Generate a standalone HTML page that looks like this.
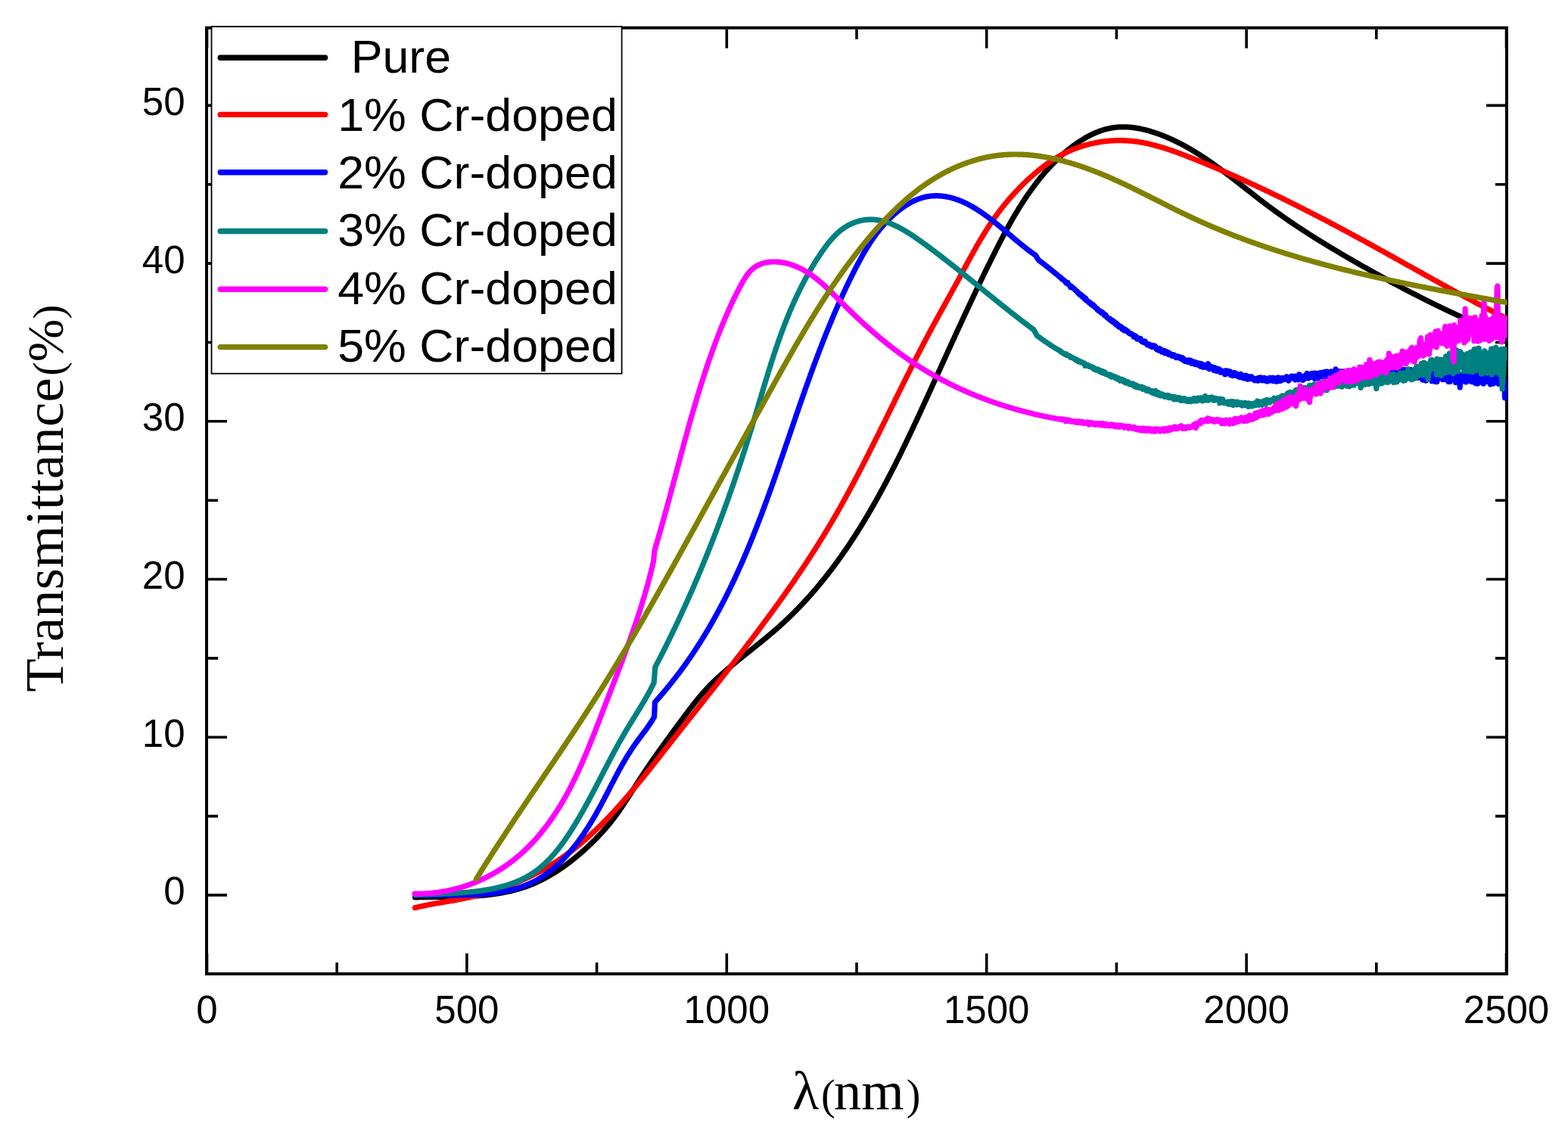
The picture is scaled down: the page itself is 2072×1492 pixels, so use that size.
<!DOCTYPE html>
<html><head><meta charset="utf-8"><title>Transmittance</title>
<style>html,body{margin:0;padding:0;background:#fff;}body{width:2072px;height:1492px;overflow:hidden;}svg{display:block;}</style>
</head><body>
<svg width="2072" height="1492" viewBox="0 0 2072 1492">
<rect x="0" y="0" width="2072" height="1492" fill="#fff"/>
<g stroke="#000" stroke-width="4" fill="none" stroke-linecap="square">
<path d="M273 36.8H1991V1287H273Z"/>
</g>
<path stroke="#000" stroke-width="3.6" fill="none" d="M273.5 1285v-25M273.5 38.8v25M445.2 1285v-13M445.2 38.8v13M616.9 1285v-25M616.9 38.8v25M788.6 1285v-13M788.6 38.8v13M960.3 1285v-25M960.3 38.8v25M1132 1285v-13M1132 38.8v13M1303.7 1285v-25M1303.7 38.8v25M1475.4 1285v-13M1475.4 38.8v13M1647.1 1285v-25M1647.1 38.8v25M1818.8 1285v-13M1818.8 38.8v13M1990.5 1285v-25M1990.5 38.8v25M275 1182.9h25M1989 1182.9h-25M275 1078.6h13M1989 1078.6h-13M275 974.2h25M1989 974.2h-25M275 869.9h13M1989 869.9h-13M275 765.5h25M1989 765.5h-25M275 661.2h13M1989 661.2h-13M275 556.8h25M1989 556.8h-25M275 452.5h13M1989 452.5h-13M275 348.1h25M1989 348.1h-25M275 243.8h13M1989 243.8h-13M275 139.4h25M1989 139.4h-25"/>
<defs><clipPath id="pc"><rect x="271" y="35" width="1720.6" height="1254"/></clipPath></defs>
<g fill="none" stroke-width="7.2" stroke-linejoin="round" stroke-linecap="round" clip-path="url(#pc)">
<path stroke="#000000" d="M548.5 1185.9L549.5 1185.8L550.5 1185.8L551.5 1185.8L552.4 1185.8L553.4 1185.7L554.4 1185.7L555.4 1185.7L556.4 1185.7L557.4 1185.7L558.4 1185.7L559.4 1185.6L560.4 1185.6L561.4 1185.6L562.4 1185.6L563.4 1185.6L564.4 1185.6L565.4 1185.6L566.4 1185.5L567.4 1185.5L568.4 1185.5L569.4 1185.5L570.4 1185.5L571.4 1185.5L572.4 1185.5L573.4 1185.5L574.4 1185.5L575.4 1185.5L576.4 1185.5L577.4 1185.4L578.4 1185.4L579.4 1185.4L580.4 1185.4L581.4 1185.4L582.4 1185.4L583.4 1185.4L584.4 1185.4L585.4 1185.4L586.5 1185.4L587.5 1185.3L588.5 1185.3L589.5 1185.3L590.5 1185.3L591.5 1185.3L592.5 1185.3L593.5 1185.3L594.5 1185.3L595.5 1185.2L596.5 1185.2L597.5 1185.2L598.6 1185.2L599.6 1185.2L600.6 1185.1L601.6 1185.1L602.6 1185.1L603.6 1185.1L604.6 1185.1L605.6 1185L606.6 1185L607.6 1185L608.6 1184.9L609.7 1184.9L610.7 1184.9L611.7 1184.8L612.7 1184.8L613.7 1184.8L614.7 1184.7L615.7 1184.7L616.7 1184.6L617.7 1184.6L618.7 1184.6L619.7 1184.5L620.7 1184.5L621.7 1184.4L622.7 1184.3L623.8 1184.3L624.8 1184.2L625.8 1184.2L626.8 1184.1L627.8 1184L628.8 1184L629.8 1183.9L630.8 1183.8L631.8 1183.8L632.8 1183.7L633.8 1183.6L634.8 1183.5L635.8 1183.4L636.8 1183.4L637.8 1183.3L638.8 1183.2L639.8 1183.1L640.8 1183L641.8 1182.9L642.7 1182.8L643.7 1182.7L644.7 1182.6L645.7 1182.4L646.7 1182.3L647.7 1182.2L648.7 1182.1L649.7 1182L650.7 1181.8L651.7 1181.7L652.7 1181.6L653.6 1181.4L654.6 1181.3L655.6 1181.1L656.6 1181L657.6 1180.8L658.6 1180.7L659.5 1180.5L660.5 1180.4L661.5 1180.2L662.5 1180L663.4 1179.9L664.4 1179.7L665.4 1179.5L666.4 1179.3L667.3 1179.1L668.3 1178.9L669.3 1178.7L670.2 1178.5L671.2 1178.3L672.2 1178.1L673.1 1177.9L674.1 1177.7L675.1 1177.4L676 1177.2L677 1177L677.9 1176.7L678.9 1176.5L679.9 1176.3L680.8 1176L681.8 1175.7L682.7 1175.5L683.7 1175.2L684.6 1175L685.6 1174.7L686.5 1174.4L687.5 1174.1L688.4 1173.8L689.3 1173.5L690.3 1173.2L691.2 1172.9L692.2 1172.6L693.1 1172.3L694 1172L695 1171.7L695.9 1171.3L696.8 1171L697.8 1170.6L698.7 1170.3L699.6 1169.9L700.5 1169.6L701.4 1169.2L702.4 1168.8L703.3 1168.5L704.2 1168.1L705.1 1167.7L706 1167.3L706.9 1166.9L707.8 1166.5L708.8 1166.1L709.7 1165.7L710.6 1165.3L711.5 1164.9L712.4 1164.4L713.3 1164L714.2 1163.6L715.1 1163.1L715.9 1162.7L716.8 1162.2L717.7 1161.8L718.6 1161.3L719.5 1160.8L720.4 1160.4L721.3 1159.9L722.1 1159.4L723 1158.9L723.9 1158.4L724.8 1157.9L725.6 1157.4L726.5 1156.9L727.4 1156.4L728.2 1155.9L729.1 1155.4L730 1154.9L730.8 1154.4L731.7 1153.8L732.6 1153.3L733.4 1152.8L734.3 1152.2L735.1 1151.7L736 1151.1L736.8 1150.6L737.6 1150L738.5 1149.5L739.3 1148.9L740.2 1148.4L741 1147.8L741.8 1147.2L742.7 1146.6L743.5 1146.1L744.3 1145.5L745.2 1144.9L746 1144.3L746.8 1143.7L747.6 1143.1L748.4 1142.5L749.3 1141.9L750.1 1141.3L750.9 1140.7L751.7 1140.1L752.5 1139.5L753.3 1138.9L754.1 1138.3L754.9 1137.6L755.7 1137L756.5 1136.4L757.3 1135.7L758.1 1135.1L758.9 1134.5L759.7 1133.8L760.5 1133.2L761.2 1132.6L762 1131.9L762.8 1131.3L763.6 1130.6L764.3 1130L765.1 1129.3L765.9 1128.7L766.7 1128L767.4 1127.3L768.2 1126.7L768.9 1126L769.7 1125.3L770.5 1124.7L771.2 1124L772 1123.3L772.7 1122.6L773.5 1122L774.2 1121.3L774.9 1120.6L775.7 1119.9L776.4 1119.2L777.2 1118.6L777.9 1117.9L778.6 1117.2L779.3 1116.5L780.1 1115.8L780.8 1115.1L781.5 1114.4L782.2 1113.7L782.9 1113L783.7 1112.3L784.4 1111.6L785.1 1110.9L785.8 1110.2L786.5 1109.5L787.2 1108.8L787.9 1108.1L788.6 1107.3L789.3 1106.6L790 1105.9L790.6 1105.2L791.3 1104.5L792 1103.7L792.7 1103L793.4 1102.3L794 1101.6L794.7 1100.8L795.4 1100.1L796.1 1099.4L796.7 1098.6L797.4 1097.9L798 1097.1L798.7 1096.4L799.3 1095.6L800 1094.9L800.6 1094.1L801.3 1093.4L801.9 1092.6L802.6 1091.9L803.2 1091.1L803.8 1090.4L804.5 1089.6L805.1 1088.8L805.7 1088.1L806.4 1087.3L807 1086.5L807.6 1085.7L808.2 1085L808.8 1084.2L809.4 1083.4L810 1082.6L810.7 1081.8L811.3 1081.1L811.9 1080.3L812.4 1079.5L813 1078.7L813.6 1077.9L814.2 1077.1L814.8 1076.3L815.4 1075.5L816 1074.7L816.5 1073.9L817.1 1073.1L817.7 1072.3L818.3 1071.4L818.8 1070.6L819.4 1069.8L820 1069L820.5 1068.2L821.1 1067.4L821.7 1066.5L822.2 1065.7L822.8 1064.9L823.3 1064.1L823.9 1063.2L824.4 1062.4L825 1061.6L825.5 1060.7L826.1 1059.9L826.6 1059.1L827.2 1058.2L827.7 1057.4L828.2 1056.6L828.8 1055.7L829.3 1054.9L829.9 1054.1L830.4 1053.2L830.9 1052.4L831.5 1051.5L832 1050.7L832.6 1049.9L833.1 1049L833.6 1048.2L834.2 1047.3L834.7 1046.5L835.2 1045.7L835.8 1044.8L836.3 1044L836.8 1043.1L837.4 1042.3L837.9 1041.4L838.5 1040.6L839 1039.8L839.5 1038.9L840.1 1038.1L840.6 1037.2L841.1 1036.4L841.7 1035.5L842.2 1034.7L842.8 1033.9L843.3 1033L843.9 1032.2L844.4 1031.3L844.9 1030.5L845.5 1029.6L846 1028.8L846.6 1028L847.1 1027.1L847.7 1026.3L848.2 1025.5L848.8 1024.6L849.3 1023.8L849.9 1023L850.5 1022.1L851 1021.3L851.6 1020.5L852.1 1019.6L852.7 1018.8L853.2 1018L853.8 1017.1L854.4 1016.3L854.9 1015.5L855.5 1014.6L856 1013.8L856.6 1013L857.2 1012.1L857.7 1011.3L858.3 1010.5L858.9 1009.7L859.4 1008.8L860 1008L860.6 1007.2L861.1 1006.3L861.7 1005.5L862.3 1004.7L862.9 1003.9L863.4 1003L864 1002.2L864.6 1001.4L865.2 1000.6L865.7 999.8L866.3 998.9L866.9 998.1L867.5 997.3L868 996.5L868.6 995.6L869.2 994.8L869.8 994L870.4 993.2L870.9 992.4L871.5 991.6L872.1 990.7L872.7 989.9L873.3 989.1L873.8 988.3L874.4 987.5L875 986.6L875.6 985.8L876.2 985L876.8 984.2L877.4 983.4L877.9 982.6L878.5 981.8L879.1 980.9L879.7 980.1L880.3 979.3L880.9 978.5L881.5 977.7L882.1 976.9L882.6 976.1L883.2 975.3L883.8 974.4L884.4 973.6L885 972.8L885.6 972L886.2 971.2L886.8 970.4L887.4 969.6L888 968.8L888.6 968L889.2 967.2L889.7 966.4L890.3 965.6L890.9 964.7L891.5 963.9L892.1 963.1L892.7 962.3L893.3 961.5L893.9 960.7L894.5 959.9L895.1 959.1L895.7 958.3L896.3 957.5L896.9 956.7L897.5 955.9L898.1 955.1L898.7 954.3L899.3 953.5L899.9 952.7L900.5 951.9L901.1 951.1L901.7 950.3L902.3 949.5L902.8 948.7L903.4 947.9L904 947.1L904.6 946.3L905.2 945.5L905.8 944.7L906.4 943.9L907 943.1L907.6 942.3L908.2 941.5L908.8 940.7L909.4 939.9L910 939.1L910.6 938.3L911.2 937.5L911.8 936.7L912.5 935.9L913.1 935.2L913.7 934.4L914.3 933.6L914.9 932.8L915.5 932L916.1 931.2L916.7 930.5L917.3 929.7L918 928.9L918.6 928.1L919.2 927.3L919.8 926.6L920.4 925.8L921.1 925L921.7 924.3L922.3 923.5L922.9 922.7L923.6 922L924.2 921.2L924.8 920.5L925.5 919.7L926.1 919L926.8 918.2L927.4 917.5L928 916.7L928.7 916L929.3 915.2L930 914.5L930.7 913.7L931.3 913L932 912.3L932.6 911.6L933.3 910.8L934 910.1L934.6 909.4L935.3 908.7L936 908L936.7 907.2L937.4 906.5L938 905.8L938.7 905.1L939.4 904.4L940.1 903.7L940.8 903L941.5 902.3L942.2 901.6L942.9 901L943.6 900.3L944.3 899.6L945.1 898.9L945.8 898.2L946.5 897.5L947.2 896.9L947.9 896.2L948.6 895.5L949.4 894.9L950.1 894.2L950.8 893.5L951.6 892.9L952.3 892.2L953 891.5L953.8 890.9L954.5 890.2L955.2 889.6L956 888.9L956.7 888.3L957.5 887.6L958.2 887L959 886.3L959.7 885.7L960.5 885L961.2 884.4L962 883.7L962.8 883.1L963.5 882.4L964.3 881.8L965 881.2L965.8 880.5L966.6 879.9L967.3 879.2L968.1 878.6L968.9 878L969.6 877.3L970.4 876.7L971.2 876.1L972 875.4L972.7 874.8L973.5 874.2L974.3 873.5L975.1 872.9L975.8 872.3L976.6 871.6L977.4 871L978.2 870.4L979 869.7L979.8 869.1L980.5 868.5L981.3 867.8L982.1 867.2L982.9 866.6L983.7 865.9L984.5 865.3L985.2 864.7L986 864.1L986.8 863.4L987.6 862.8L988.4 862.2L989.2 861.5L990 860.9L990.8 860.3L991.5 859.6L992.3 859L993.1 858.4L993.9 857.8L994.7 857.1L995.5 856.5L996.3 855.9L997.1 855.2L997.9 854.6L998.6 854L999.4 853.3L1000.2 852.7L1001 852.1L1001.8 851.4L1002.6 850.8L1003.4 850.1L1004.2 849.5L1004.9 848.9L1005.7 848.2L1006.5 847.6L1007.3 847L1008.1 846.3L1008.9 845.7L1009.6 845L1010.4 844.4L1011.2 843.8L1012 843.1L1012.8 842.5L1013.5 841.8L1014.3 841.2L1015.1 840.5L1015.9 839.9L1016.6 839.2L1017.4 838.6L1018.2 837.9L1018.9 837.3L1019.7 836.6L1020.5 836L1021.2 835.3L1022 834.7L1022.8 834L1023.5 833.3L1024.3 832.7L1025.1 832L1025.8 831.4L1026.6 830.7L1027.3 830L1028.1 829.4L1028.8 828.7L1029.6 828L1030.3 827.4L1031.1 826.7L1031.8 826L1032.6 825.3L1033.3 824.7L1034.1 824L1034.8 823.3L1035.5 822.6L1036.3 821.9L1037 821.3L1037.7 820.6L1038.5 819.9L1039.2 819.2L1039.9 818.5L1040.6 817.8L1041.4 817.1L1042.1 816.4L1042.8 815.8L1043.5 815.1L1044.2 814.4L1045 813.7L1045.7 813L1046.4 812.3L1047.1 811.6L1047.8 810.9L1048.5 810.2L1049.2 809.5L1049.9 808.8L1050.6 808L1051.3 807.3L1052 806.6L1052.7 805.9L1053.4 805.2L1054.1 804.5L1054.8 803.8L1055.5 803.1L1056.2 802.3L1056.9 801.6L1057.6 800.9L1058.3 800.2L1059 799.5L1059.6 798.7L1060.3 798L1061 797.3L1061.7 796.6L1062.4 795.8L1063 795.1L1063.7 794.4L1064.4 793.6L1065.1 792.9L1065.7 792.2L1066.4 791.4L1067.1 790.7L1067.7 790L1068.4 789.2L1069.1 788.5L1069.7 787.8L1070.4 787L1071 786.3L1071.7 785.5L1072.4 784.8L1073 784L1073.7 783.3L1074.3 782.5L1075 781.8L1075.6 781L1076.3 780.3L1076.9 779.5L1077.6 778.8L1078.2 778L1078.8 777.3L1079.5 776.5L1080.1 775.7L1080.8 775L1081.4 774.2L1082 773.5L1082.7 772.7L1083.3 771.9L1083.9 771.2L1084.6 770.4L1085.2 769.6L1085.8 768.9L1086.4 768.1L1087.1 767.3L1087.7 766.6L1088.3 765.8L1088.9 765L1089.6 764.2L1090.2 763.5L1090.8 762.7L1091.4 761.9L1092 761.1L1092.6 760.4L1093.2 759.6L1093.9 758.8L1094.5 758L1095.1 757.2L1095.7 756.4L1096.3 755.7L1096.9 754.9L1097.5 754.1L1098.1 753.3L1098.7 752.5L1099.3 751.7L1099.9 750.9L1100.5 750.1L1101.1 749.3L1101.7 748.5L1102.3 747.7L1102.9 747L1103.5 746.2L1104 745.4L1104.6 744.6L1105.2 743.8L1105.8 743L1106.4 742.2L1107 741.4L1107.6 740.5L1108.1 739.7L1108.7 738.9L1109.3 738.1L1109.9 737.3L1110.5 736.5L1111 735.7L1111.6 734.9L1112.2 734.1L1112.7 733.3L1113.3 732.5L1113.9 731.6L1114.5 730.8L1115 730L1115.6 729.2L1116.2 728.4L1116.7 727.6L1117.3 726.7L1117.8 725.9L1118.4 725.1L1119 724.3L1119.5 723.5L1120.1 722.6L1120.6 721.8L1121.2 721L1121.8 720.2L1122.3 719.3L1122.9 718.5L1123.4 717.7L1124 716.9L1124.5 716L1125.1 715.2L1125.6 714.4L1126.1 713.5L1126.7 712.7L1127.2 711.9L1127.8 711L1128.3 710.2L1128.9 709.4L1129.4 708.5L1129.9 707.7L1130.5 706.9L1131 706L1131.6 705.2L1132.1 704.3L1132.6 703.5L1133.2 702.6L1133.7 701.8L1134.2 701L1134.7 700.1L1135.3 699.3L1135.8 698.4L1136.3 697.6L1136.9 696.7L1137.4 695.9L1137.9 695L1138.4 694.2L1138.9 693.3L1139.5 692.5L1140 691.6L1140.5 690.8L1141 689.9L1141.5 689.1L1142.1 688.2L1142.6 687.4L1143.1 686.5L1143.6 685.7L1144.1 684.8L1144.6 683.9L1145.1 683.1L1145.7 682.2L1146.2 681.4L1146.7 680.5L1147.2 679.7L1147.7 678.8L1148.2 677.9L1148.7 677.1L1149.2 676.2L1149.7 675.3L1150.2 674.5L1150.7 673.6L1151.2 672.7L1151.7 671.9L1152.2 671L1152.7 670.1L1153.2 669.3L1153.7 668.4L1154.2 667.5L1154.7 666.7L1155.2 665.8L1155.7 664.9L1156.2 664.1L1156.7 663.2L1157.2 662.3L1157.6 661.4L1158.1 660.6L1158.6 659.7L1159.1 658.8L1159.6 657.9L1160.1 657.1L1160.6 656.2L1161 655.3L1161.5 654.4L1162 653.6L1162.5 652.7L1163 651.8L1163.5 650.9L1163.9 650L1164.4 649.2L1164.9 648.3L1165.4 647.4L1165.9 646.5L1166.3 645.6L1166.8 644.8L1167.3 643.9L1167.8 643L1168.2 642.1L1168.7 641.2L1169.2 640.3L1169.6 639.4L1170.1 638.6L1170.6 637.7L1171.1 636.8L1171.5 635.9L1172 635L1172.5 634.1L1172.9 633.2L1173.4 632.3L1173.9 631.5L1174.3 630.6L1174.8 629.7L1175.3 628.8L1175.7 627.9L1176.2 627L1176.6 626.1L1177.1 625.2L1177.6 624.3L1178 623.4L1178.5 622.5L1178.9 621.6L1179.4 620.7L1179.9 619.8L1180.3 618.9L1180.8 618.1L1181.2 617.2L1181.7 616.3L1182.1 615.4L1182.6 614.5L1183 613.6L1183.5 612.7L1183.9 611.8L1184.4 610.9L1184.8 610L1185.3 609.1L1185.7 608.2L1186.2 607.3L1186.6 606.4L1187.1 605.5L1187.5 604.6L1188 603.7L1188.4 602.8L1188.9 601.9L1189.3 601L1189.8 600.1L1190.2 599.2L1190.7 598.3L1191.1 597.4L1191.5 596.4L1192 595.5L1192.4 594.6L1192.9 593.7L1193.3 592.8L1193.8 591.9L1194.2 591L1194.6 590.1L1195.1 589.2L1195.5 588.3L1196 587.4L1196.4 586.5L1196.8 585.6L1197.3 584.7L1197.7 583.8L1198.1 582.9L1198.6 582L1199 581L1199.4 580.1L1199.9 579.2L1200.3 578.3L1200.8 577.4L1201.2 576.5L1201.6 575.6L1202 574.7L1202.5 573.8L1202.9 572.9L1203.3 572L1203.8 571L1204.2 570.1L1204.6 569.2L1205.1 568.3L1205.5 567.4L1205.9 566.5L1206.4 565.6L1206.8 564.7L1207.2 563.8L1207.6 562.8L1208.1 561.9L1208.5 561L1208.9 560.1L1209.3 559.2L1209.8 558.3L1210.2 557.4L1210.6 556.5L1211.1 555.6L1211.5 554.6L1211.9 553.7L1212.3 552.8L1212.7 551.9L1213.2 551L1213.6 550.1L1214 549.2L1214.4 548.2L1214.9 547.3L1215.3 546.4L1215.7 545.5L1216.1 544.6L1216.6 543.7L1217 542.8L1217.4 541.9L1217.8 540.9L1218.2 540L1218.7 539.1L1219.1 538.2L1219.5 537.3L1219.9 536.4L1220.3 535.5L1220.8 534.5L1221.2 533.6L1221.6 532.7L1222 531.8L1222.4 530.9L1222.8 530L1223.3 529.1L1223.7 528.1L1224.1 527.2L1224.5 526.3L1224.9 525.4L1225.4 524.5L1225.8 523.6L1226.2 522.7L1226.6 521.7L1227 520.8L1227.4 519.9L1227.9 519L1228.3 518.1L1228.7 517.2L1229.1 516.3L1229.5 515.3L1229.9 514.4L1230.4 513.5L1230.8 512.6L1231.2 511.7L1231.6 510.8L1232 509.9L1232.4 509L1232.8 508L1233.3 507.1L1233.7 506.2L1234.1 505.3L1234.5 504.4L1234.9 503.5L1235.3 502.6L1235.7 501.6L1236.2 500.7L1236.6 499.8L1237 498.9L1237.4 498L1237.8 497.1L1238.2 496.2L1238.6 495.3L1239.1 494.4L1239.5 493.4L1239.9 492.5L1240.3 491.6L1240.7 490.7L1241.1 489.8L1241.5 488.9L1242 488L1242.4 487.1L1242.8 486.2L1243.2 485.2L1243.6 484.3L1244 483.4L1244.4 482.5L1244.8 481.6L1245.3 480.7L1245.7 479.8L1246.1 478.9L1246.5 478L1246.9 477L1247.3 476.1L1247.7 475.2L1248.2 474.3L1248.6 473.4L1249 472.5L1249.4 471.6L1249.8 470.7L1250.2 469.8L1250.6 468.9L1251 468L1251.5 467L1251.9 466.1L1252.3 465.2L1252.7 464.3L1253.1 463.4L1253.5 462.5L1253.9 461.6L1254.4 460.7L1254.8 459.8L1255.2 458.9L1255.6 458L1256 457.1L1256.4 456.1L1256.8 455.2L1257.2 454.3L1257.7 453.4L1258.1 452.5L1258.5 451.6L1258.9 450.7L1259.3 449.8L1259.7 448.9L1260.2 448L1260.6 447.1L1261 446.2L1261.4 445.3L1261.8 444.4L1262.2 443.5L1262.6 442.5L1263.1 441.6L1263.5 440.7L1263.9 439.8L1264.3 438.9L1264.7 438L1265.1 437.1L1265.5 436.2L1266 435.3L1266.4 434.4L1266.8 433.5L1267.2 432.6L1267.6 431.7L1268 430.8L1268.5 429.9L1268.9 429L1269.3 428.1L1269.7 427.2L1270.1 426.3L1270.6 425.4L1271 424.5L1271.4 423.5L1271.8 422.6L1272.2 421.7L1272.6 420.8L1273.1 419.9L1273.5 419L1273.9 418.1L1274.3 417.2L1274.7 416.3L1275.2 415.4L1275.6 414.5L1276 413.6L1276.4 412.7L1276.8 411.8L1277.3 410.9L1277.7 410L1278.1 409.1L1278.5 408.2L1278.9 407.3L1279.4 406.4L1279.8 405.5L1280.2 404.6L1280.6 403.7L1281 402.8L1281.5 401.9L1281.9 401L1282.3 400.1L1282.7 399.2L1283.2 398.3L1283.6 397.4L1284 396.5L1284.4 395.6L1284.9 394.7L1285.3 393.8L1285.7 392.9L1286.1 392L1286.6 391.1L1287 390.2L1287.4 389.3L1287.8 388.4L1288.3 387.5L1288.7 386.6L1289.1 385.7L1289.5 384.8L1290 383.9L1290.4 383L1290.8 382.1L1291.2 381.2L1291.7 380.3L1292.1 379.4L1292.5 378.5L1293 377.6L1293.4 376.7L1293.8 375.8L1294.3 374.9L1294.7 374L1295.1 373.1L1295.5 372.2L1296 371.3L1296.4 370.4L1296.8 369.5L1297.3 368.6L1297.7 367.7L1298.1 366.9L1298.6 366L1299 365.1L1299.4 364.2L1299.9 363.3L1300.3 362.4L1300.7 361.5L1301.2 360.6L1301.6 359.7L1302 358.8L1302.5 357.9L1302.9 357L1303.4 356.1L1303.8 355.2L1304.2 354.3L1304.7 353.4L1305.1 352.5L1305.6 351.6L1306 350.7L1306.4 349.9L1306.9 349L1307.3 348.1L1307.8 347.2L1308.2 346.3L1308.6 345.4L1309.1 344.5L1309.5 343.6L1310 342.7L1310.4 341.8L1310.8 340.9L1311.3 340L1311.7 339.1L1312.2 338.2L1312.6 337.4L1313.1 336.5L1313.5 335.6L1314 334.7L1314.4 333.8L1314.9 332.9L1315.3 332L1315.8 331.1L1316.2 330.2L1316.7 329.3L1317.1 328.4L1317.6 327.6L1318 326.7L1318.5 325.8L1318.9 324.9L1319.4 324L1319.8 323.1L1320.3 322.2L1320.7 321.3L1321.2 320.5L1321.6 319.6L1322.1 318.7L1322.6 317.8L1323 316.9L1323.5 316L1323.9 315.1L1324.4 314.3L1324.9 313.4L1325.3 312.5L1325.8 311.6L1326.3 310.7L1326.7 309.8L1327.2 309L1327.7 308.1L1328.1 307.2L1328.6 306.3L1329.1 305.4L1329.6 304.6L1330 303.7L1330.5 302.8L1331 301.9L1331.5 301.1L1332 300.2L1332.4 299.3L1332.9 298.4L1333.4 297.6L1333.9 296.7L1334.4 295.8L1334.9 295L1335.4 294.1L1335.8 293.2L1336.3 292.3L1336.8 291.5L1337.3 290.6L1337.8 289.7L1338.3 288.9L1338.8 288L1339.3 287.1L1339.8 286.3L1340.3 285.4L1340.8 284.6L1341.3 283.7L1341.9 282.8L1342.4 282L1342.9 281.1L1343.4 280.3L1343.9 279.4L1344.4 278.6L1345 277.7L1345.5 276.9L1346 276L1346.5 275.1L1347 274.3L1347.6 273.4L1348.1 272.6L1348.6 271.8L1349.2 270.9L1349.7 270.1L1350.2 269.2L1350.8 268.4L1351.3 267.5L1351.9 266.7L1352.4 265.9L1353 265L1353.5 264.2L1354.1 263.3L1354.6 262.5L1355.2 261.7L1355.7 260.8L1356.3 260L1356.9 259.2L1357.4 258.3L1358 257.5L1358.6 256.7L1359.1 255.9L1359.7 255L1360.3 254.2L1360.9 253.4L1361.5 252.6L1362 251.8L1362.6 250.9L1363.2 250.1L1363.8 249.3L1364.4 248.5L1365 247.7L1365.6 246.9L1366.2 246.1L1366.8 245.3L1367.4 244.5L1368 243.6L1368.6 242.8L1369.2 242L1369.8 241.2L1370.5 240.4L1371.1 239.7L1371.7 238.9L1372.3 238.1L1373 237.3L1373.6 236.5L1374.2 235.7L1374.9 234.9L1375.5 234.1L1376.1 233.4L1376.8 232.6L1377.4 231.8L1378.1 231L1378.7 230.3L1379.4 229.5L1380 228.7L1380.7 227.9L1381.4 227.2L1382 226.4L1382.7 225.7L1383.4 224.9L1384.1 224.2L1384.7 223.4L1385.4 222.7L1386.1 221.9L1386.8 221.2L1387.5 220.4L1388.2 219.7L1388.9 218.9L1389.6 218.2L1390.3 217.5L1391 216.8L1391.7 216L1392.4 215.3L1393.1 214.6L1393.8 213.9L1394.5 213.2L1395.3 212.4L1396 211.7L1396.7 211L1397.4 210.3L1398.2 209.6L1398.9 208.9L1399.7 208.2L1400.4 207.6L1401.1 206.9L1401.9 206.2L1402.6 205.5L1403.4 204.8L1404.2 204.2L1404.9 203.5L1405.7 202.8L1406.5 202.2L1407.2 201.5L1408 200.8L1408.8 200.2L1409.6 199.5L1410.4 198.9L1411.2 198.2L1411.9 197.6L1412.7 197L1413.5 196.3L1414.3 195.7L1415.2 195.1L1416 194.5L1416.8 193.9L1417.6 193.2L1418.4 192.6L1419.2 192L1420.1 191.4L1420.9 190.8L1421.7 190.2L1422.6 189.7L1423.4 189.1L1424.2 188.5L1425.1 187.9L1425.9 187.4L1426.8 186.8L1427.6 186.3L1428.5 185.7L1429.4 185.2L1430.2 184.6L1431.1 184.1L1432 183.6L1432.8 183.1L1433.7 182.5L1434.6 182L1435.5 181.5L1436.3 181L1437.2 180.6L1438.1 180.1L1439 179.6L1439.9 179.1L1440.8 178.7L1441.7 178.2L1442.6 177.8L1443.5 177.4L1444.4 176.9L1445.3 176.5L1446.2 176.1L1447.1 175.7L1448 175.3L1449 174.9L1449.9 174.6L1450.8 174.2L1451.7 173.8L1452.6 173.5L1453.6 173.2L1454.5 172.8L1455.4 172.5L1456.4 172.2L1457.3 171.9L1458.2 171.6L1459.2 171.3L1460.1 171.1L1461.1 170.8L1462 170.5L1462.9 170.3L1463.9 170.1L1464.8 169.9L1465.8 169.7L1466.7 169.5L1467.7 169.3L1468.7 169.1L1469.6 168.9L1470.6 168.8L1471.5 168.6L1472.5 168.5L1473.4 168.4L1474.4 168.3L1475.4 168.2L1476.3 168.1L1477.3 168L1478.3 168L1479.2 167.9L1480.2 167.9L1481.2 167.8L1482.1 167.8L1483.1 167.8L1484.1 167.8L1485.1 167.8L1486 167.8L1487 167.8L1488 167.9L1489 167.9L1489.9 167.9L1490.9 168L1491.9 168.1L1492.9 168.2L1493.8 168.2L1494.8 168.3L1495.8 168.4L1496.8 168.5L1497.7 168.7L1498.7 168.8L1499.7 168.9L1500.7 169.1L1501.7 169.2L1502.6 169.4L1503.6 169.6L1504.6 169.7L1505.6 169.9L1506.5 170.1L1507.5 170.3L1508.5 170.5L1509.5 170.7L1510.4 170.9L1511.4 171.2L1512.4 171.4L1513.3 171.6L1514.3 171.9L1515.3 172.1L1516.3 172.4L1517.2 172.6L1518.2 172.9L1519.2 173.2L1520.1 173.5L1521.1 173.8L1522 174.1L1523 174.4L1524 174.7L1524.9 175L1525.9 175.3L1526.8 175.6L1527.8 175.9L1528.7 176.3L1529.7 176.6L1530.6 176.9L1531.6 177.3L1532.5 177.6L1533.5 178L1534.4 178.3L1535.4 178.7L1536.3 179.1L1537.2 179.4L1538.2 179.8L1539.1 180.2L1540 180.6L1541 181L1541.9 181.4L1542.8 181.8L1543.7 182.2L1544.6 182.6L1545.6 183L1546.5 183.4L1547.4 183.8L1548.3 184.2L1549.2 184.6L1550.1 185L1551 185.5L1551.9 185.9L1552.8 186.3L1553.7 186.8L1554.6 187.2L1555.5 187.6L1556.4 188.1L1557.3 188.5L1558.2 189L1559.1 189.4L1560 189.9L1560.9 190.4L1561.7 190.8L1562.6 191.3L1563.5 191.8L1564.4 192.2L1565.3 192.7L1566.1 193.2L1567 193.7L1567.9 194.2L1568.8 194.7L1569.6 195.1L1570.5 195.6L1571.4 196.1L1572.2 196.6L1573.1 197.1L1573.9 197.6L1574.8 198.1L1575.7 198.6L1576.5 199.2L1577.4 199.7L1578.2 200.2L1579.1 200.7L1579.9 201.2L1580.8 201.8L1581.6 202.3L1582.5 202.8L1583.3 203.3L1584.2 203.9L1585 204.4L1585.8 205L1586.7 205.5L1587.5 206L1588.4 206.6L1589.2 207.1L1590 207.7L1590.9 208.2L1591.7 208.8L1592.5 209.3L1593.4 209.9L1594.2 210.4L1595 211L1595.8 211.6L1596.7 212.1L1597.5 212.7L1598.3 213.3L1599.1 213.8L1600 214.4L1600.8 215L1601.6 215.6L1602.4 216.1L1603.2 216.7L1604.1 217.3L1604.9 217.9L1605.7 218.5L1606.5 219L1607.3 219.6L1608.1 220.2L1609 220.8L1609.8 221.4L1610.6 222L1611.4 222.6L1612.2 223.2L1613 223.8L1613.8 224.4L1614.6 225L1615.4 225.6L1616.2 226.2L1617 226.8L1617.8 227.4L1618.6 228L1619.5 228.6L1620.3 229.2L1621.1 229.8L1621.9 230.4L1622.7 231L1623.5 231.6L1624.3 232.2L1625.1 232.8L1625.9 233.4L1626.7 234L1627.5 234.7L1628.3 235.3L1629.1 235.9L1629.9 236.5L1630.6 237.1L1631.4 237.7L1632.2 238.3L1633 239L1633.8 239.6L1634.6 240.2L1635.4 240.8L1636.2 241.4L1637 242.1L1637.8 242.7L1638.6 243.3L1639.4 243.9L1640.2 244.5L1641 245.2L1641.8 245.8L1642.6 246.4L1643.4 247L1644.2 247.6L1644.9 248.3L1645.7 248.9L1646.5 249.5L1647.3 250.1L1648.1 250.8L1648.9 251.4L1649.7 252L1650.5 252.6L1651.3 253.2L1652.1 253.9L1652.9 254.5L1653.7 255.1L1654.5 255.7L1655.3 256.4L1656.1 257L1656.9 257.6L1657.6 258.2L1658.4 258.8L1659.2 259.4L1660 260.1L1660.8 260.7L1661.6 261.3L1662.4 261.9L1663.2 262.5L1664 263.1L1664.8 263.8L1665.6 264.4L1666.4 265L1667.2 265.6L1668 266.2L1668.8 266.8L1669.6 267.4L1670.4 268L1671.2 268.7L1672 269.3L1672.8 269.9L1673.6 270.5L1674.4 271.1L1675.2 271.7L1676 272.3L1676.8 272.9L1677.6 273.5L1678.4 274.1L1679.2 274.7L1680.1 275.3L1680.9 275.9L1681.7 276.5L1682.5 277.1L1683.3 277.7L1684.1 278.3L1684.9 278.8L1685.7 279.4L1686.5 280L1687.3 280.6L1688.2 281.2L1689 281.8L1689.8 282.4L1690.6 282.9L1691.4 283.5L1692.2 284.1L1693.1 284.7L1693.9 285.3L1694.7 285.8L1695.5 286.4L1696.3 287L1697.2 287.6L1698 288.1L1698.8 288.7L1699.6 289.3L1700.4 289.9L1701.3 290.4L1702.1 291L1702.9 291.6L1703.7 292.1L1704.6 292.7L1705.4 293.2L1706.2 293.8L1707.1 294.4L1707.9 294.9L1708.7 295.5L1709.5 296.1L1710.4 296.6L1711.2 297.2L1712 297.7L1712.9 298.3L1713.7 298.8L1714.5 299.4L1715.4 299.9L1716.2 300.5L1717 301L1717.9 301.6L1718.7 302.1L1719.5 302.7L1720.4 303.2L1721.2 303.8L1722 304.3L1722.9 304.9L1723.7 305.4L1724.6 306L1725.4 306.5L1726.2 307L1727.1 307.6L1727.9 308.1L1728.8 308.7L1729.6 309.2L1730.4 309.7L1731.3 310.3L1732.1 310.8L1733 311.4L1733.8 311.9L1734.7 312.4L1735.5 313L1736.3 313.5L1737.2 314L1738 314.5L1738.9 315.1L1739.7 315.6L1740.6 316.1L1741.4 316.7L1742.3 317.2L1743.1 317.7L1744 318.2L1744.8 318.8L1745.7 319.3L1746.5 319.8L1747.4 320.3L1748.2 320.9L1749.1 321.4L1749.9 321.9L1750.8 322.4L1751.6 322.9L1752.5 323.5L1753.3 324L1754.2 324.5L1755 325L1755.9 325.5L1756.7 326.1L1757.6 326.6L1758.5 327.1L1759.3 327.6L1760.2 328.1L1761 328.6L1761.9 329.1L1762.7 329.7L1763.6 330.2L1764.5 330.7L1765.3 331.2L1766.2 331.7L1767 332.2L1767.9 332.7L1768.7 333.2L1769.6 333.7L1770.5 334.2L1771.3 334.8L1772.2 335.3L1773 335.8L1773.9 336.3L1774.8 336.8L1775.6 337.3L1776.5 337.8L1777.4 338.3L1778.2 338.8L1779.1 339.3L1779.9 339.8L1780.8 340.3L1781.7 340.8L1782.5 341.3L1783.4 341.8L1784.3 342.3L1785.1 342.8L1786 343.3L1786.9 343.8L1787.7 344.3L1788.6 344.8L1789.5 345.3L1790.3 345.8L1791.2 346.3L1792.1 346.8L1792.9 347.3L1793.8 347.8L1794.7 348.3L1795.5 348.8L1796.4 349.3L1797.3 349.8L1798.1 350.3L1799 350.8L1799.9 351.3L1800.7 351.8L1801.6 352.3L1802.5 352.8L1803.3 353.2L1804.2 353.7L1805.1 354.2L1806 354.7L1806.8 355.2L1807.7 355.7L1808.6 356.2L1809.4 356.7L1810.3 357.2L1811.2 357.7L1812.1 358.1L1812.9 358.6L1813.8 359.1L1814.7 359.6L1815.6 360.1L1816.4 360.6L1817.3 361.1L1818.2 361.6L1819 362L1819.9 362.5L1820.8 363L1821.7 363.5L1822.5 364L1823.4 364.5L1824.3 364.9L1825.2 365.4L1826.1 365.9L1826.9 366.4L1827.8 366.9L1828.7 367.3L1829.6 367.8L1830.4 368.3L1831.3 368.8L1832.2 369.3L1833.1 369.7L1834 370.2L1834.8 370.7L1835.7 371.2L1836.6 371.6L1837.5 372.1L1838.4 372.6L1839.2 373.1L1840.1 373.5L1841 374L1841.9 374.5L1842.8 375L1843.6 375.4L1844.5 375.9L1845.4 376.4L1846.3 376.9L1847.2 377.3L1848.1 377.8L1848.9 378.3L1849.8 378.7L1850.7 379.2L1851.6 379.7L1852.5 380.1L1853.4 380.6L1854.2 381.1L1855.1 381.5L1856 382L1856.9 382.5L1857.8 382.9L1858.7 383.4L1859.6 383.9L1860.5 384.3L1861.3 384.8L1862.2 385.2L1863.1 385.7L1864 386.2L1864.9 386.6L1865.8 387.1L1866.7 387.5L1867.6 388L1868.5 388.5L1869.3 388.9L1870.2 389.4L1871.1 389.8L1872 390.3L1872.9 390.7L1873.8 391.2L1874.7 391.6L1875.6 392.1L1876.5 392.6L1877.4 393L1878.3 393.5L1879.1 393.9L1880 394.4L1880.9 394.8L1881.8 395.3L1882.7 395.7L1883.6 396.2L1884.5 396.6L1885.4 397L1886.3 397.5L1887.2 397.9L1888.1 398.4L1889 398.8L1889.9 399.3L1890.8 399.7L1891.7 400.2L1892.6 400.6L1893.5 401.1L1894.4 401.5L1895.3 401.9L1896.2 402.4L1897.1 402.8L1898 403.3L1898.9 403.7L1899.8 404.1L1900.7 404.6L1901.6 405L1902.5 405.4L1903.4 405.9L1904.3 406.3L1905.2 406.7L1906.1 407.2L1907 407.6L1907.9 408L1908.8 408.5L1909.7 408.9L1910.6 409.3L1911.5 409.8L1912.4 410.2L1913.3 410.6L1914.2 411.1L1915.1 411.5L1916 411.9L1916.9 412.3L1917.8 412.8L1918.7 413.2L1919.6 413.6L1920.5 414L1921.4 414.5L1922.4 414.9L1923.3 415.3L1924.2 415.7L1925.1 416.2L1926 416.6L1926.9 417L1927.8 417.4L1928.7 417.8L1929.6 418.2L1930.5 418.7L1931.4 419.1L1932.4 419.5L1933.3 419.9L1934.2 420.3L1935.1 420.7L1936 421.2L1936.9 421.6L1937.8 422L1938.7 422.4L1939.6 422.8L1940.6 423.2L1941.5 423.6L1942.4 424L1943.3 424.4L1944.2 424.8L1945.1 425.2L1946 425.7L1947 426.1L1947.9 426.5L1948.8 426.9L1949.7 427.3L1950.6 427.7L1951.5 428.1L1952.5 428.5L1953.4 428.9L1954.3 429.3L1955.2 429.7L1956.1 430.1L1957 430.5L1958 430.9L1958.9 431.3L1959.8 431.7L1960.7 432.1L1961.6 432.4L1962.6 432.8L1963.5 433.2L1964.4 433.6L1965.3 434L1966.2 434.4L1967.2 434.8L1968.1 435.2L1969 435.6L1969.9 436L1970.9 436.3L1971.8 436.7L1972.7 437.1L1973.6 437.5L1974.6 437.9L1975.5 438.3L1976.4 438.7L1977.3 439L1978.3 439.4L1979.2 439.8L1980.1 440.2L1981 440.6L1982 440.9L1982.9 441.3L1983.8 441.7L1984.7 442.1L1985.7 442.4L1986.6 442.8L1987.5 443.2L1988.5 443.6L1989.4 443.9L1990.3 444.3"/>
<path stroke="#FF0000" d="M548.4 1199.6L549.3 1199.4L550.3 1199.2L551.3 1198.9L552.2 1198.7L553.2 1198.5L554.1 1198.3L555.1 1198L556.1 1197.8L557 1197.6L558 1197.4L559 1197.2L559.9 1197L560.9 1196.8L561.9 1196.6L562.8 1196.4L563.8 1196.2L564.8 1196L565.8 1195.8L566.7 1195.6L567.7 1195.4L568.7 1195.2L569.7 1195.1L570.6 1194.9L571.6 1194.7L572.6 1194.5L573.6 1194.3L574.6 1194.2L575.5 1194L576.5 1193.8L577.5 1193.6L578.5 1193.5L579.5 1193.3L580.5 1193.1L581.4 1193L582.4 1192.8L583.4 1192.6L584.4 1192.5L585.4 1192.3L586.4 1192.1L587.4 1191.9L588.3 1191.8L589.3 1191.6L590.3 1191.4L591.3 1191.3L592.3 1191.1L593.3 1190.9L594.3 1190.8L595.3 1190.6L596.2 1190.4L597.2 1190.3L598.2 1190.1L599.2 1189.9L600.2 1189.7L601.2 1189.6L602.2 1189.4L603.2 1189.2L604.1 1189L605.1 1188.9L606.1 1188.7L607.1 1188.5L608.1 1188.3L609.1 1188.1L610.1 1187.9L611.1 1187.7L612 1187.5L613 1187.3L614 1187.1L615 1186.9L616 1186.7L617 1186.5L617.9 1186.3L618.9 1186.1L619.9 1185.9L620.9 1185.7L621.9 1185.5L622.9 1185.3L623.8 1185L624.8 1184.8L625.8 1184.6L626.8 1184.3L627.8 1184.1L628.7 1183.9L629.7 1183.6L630.7 1183.4L631.7 1183.1L632.6 1182.9L633.6 1182.7L634.6 1182.4L635.6 1182.1L636.5 1181.9L637.5 1181.6L638.5 1181.4L639.5 1181.1L640.4 1180.8L641.4 1180.6L642.4 1180.3L643.3 1180L644.3 1179.7L645.3 1179.4L646.2 1179.2L647.2 1178.9L648.2 1178.6L649.1 1178.3L650.1 1178L651.1 1177.7L652 1177.4L653 1177.1L653.9 1176.8L654.9 1176.5L655.8 1176.2L656.8 1175.9L657.8 1175.6L658.7 1175.2L659.7 1174.9L660.6 1174.6L661.6 1174.3L662.5 1173.9L663.5 1173.6L664.4 1173.3L665.4 1172.9L666.3 1172.6L667.3 1172.3L668.2 1171.9L669.1 1171.6L670.1 1171.2L671 1170.9L672 1170.5L672.9 1170.1L673.8 1169.8L674.8 1169.4L675.7 1169.1L676.7 1168.7L677.6 1168.3L678.5 1167.9L679.4 1167.6L680.4 1167.2L681.3 1166.8L682.2 1166.4L683.2 1166L684.1 1165.7L685 1165.3L685.9 1164.9L686.8 1164.5L687.8 1164.1L688.7 1163.7L689.6 1163.3L690.5 1162.9L691.4 1162.5L692.3 1162L693.3 1161.6L694.2 1161.2L695.1 1160.8L696 1160.4L696.9 1159.9L697.8 1159.5L698.7 1159.1L699.6 1158.7L700.5 1158.2L701.4 1157.8L702.3 1157.3L703.2 1156.9L704.1 1156.5L705 1156L705.8 1155.6L706.7 1155.1L707.6 1154.6L708.5 1154.2L709.4 1153.7L710.3 1153.3L711.1 1152.8L712 1152.3L712.9 1151.9L713.8 1151.4L714.7 1150.9L715.5 1150.4L716.4 1149.9L717.3 1149.5L718.1 1149L719 1148.5L719.9 1148L720.7 1147.5L721.6 1147L722.4 1146.5L723.3 1146L724.1 1145.5L725 1145L725.8 1144.5L726.7 1144L727.5 1143.5L728.4 1142.9L729.2 1142.4L730.1 1141.9L730.9 1141.4L731.7 1140.8L732.6 1140.3L733.4 1139.8L734.2 1139.2L735.1 1138.7L735.9 1138.2L736.7 1137.6L737.5 1137.1L738.4 1136.5L739.2 1136L740 1135.4L740.8 1134.9L741.6 1134.3L742.4 1133.8L743.2 1133.2L744 1132.6L744.8 1132.1L745.7 1131.5L746.5 1130.9L747.3 1130.3L748.1 1129.8L748.8 1129.2L749.6 1128.6L750.4 1128L751.2 1127.4L752 1126.8L752.8 1126.3L753.6 1125.7L754.4 1125.1L755.2 1124.5L755.9 1123.9L756.7 1123.3L757.5 1122.7L758.3 1122.1L759 1121.5L759.8 1120.8L760.6 1120.2L761.4 1119.6L762.1 1119L762.9 1118.4L763.6 1117.8L764.4 1117.1L765.2 1116.5L765.9 1115.9L766.7 1115.3L767.4 1114.6L768.2 1114L768.9 1113.4L769.7 1112.7L770.4 1112.1L771.2 1111.4L771.9 1110.8L772.7 1110.2L773.4 1109.5L774.2 1108.9L774.9 1108.2L775.7 1107.6L776.4 1106.9L777.1 1106.2L777.9 1105.6L778.6 1104.9L779.3 1104.3L780.1 1103.6L780.8 1102.9L781.5 1102.3L782.2 1101.6L783 1100.9L783.7 1100.3L784.4 1099.6L785.1 1098.9L785.8 1098.2L786.6 1097.5L787.3 1096.9L788 1096.2L788.7 1095.5L789.4 1094.8L790.1 1094.1L790.8 1093.4L791.6 1092.7L792.3 1092.1L793 1091.4L793.7 1090.7L794.4 1090L795.1 1089.3L795.8 1088.6L796.5 1087.9L797.2 1087.2L797.9 1086.5L798.6 1085.7L799.3 1085L800 1084.3L800.7 1083.6L801.3 1082.9L802 1082.2L802.7 1081.5L803.4 1080.8L804.1 1080L804.8 1079.3L805.5 1078.6L806.2 1077.9L806.8 1077.2L807.5 1076.4L808.2 1075.7L808.9 1075L809.6 1074.3L810.2 1073.5L810.9 1072.8L811.6 1072.1L812.3 1071.3L812.9 1070.6L813.6 1069.9L814.3 1069.1L815 1068.4L815.6 1067.6L816.3 1066.9L817 1066.2L817.6 1065.4L818.3 1064.7L819 1063.9L819.6 1063.2L820.3 1062.4L821 1061.7L821.6 1060.9L822.3 1060.2L822.9 1059.4L823.6 1058.7L824.3 1057.9L824.9 1057.2L825.6 1056.4L826.2 1055.7L826.9 1054.9L827.5 1054.1L828.2 1053.4L828.8 1052.6L829.5 1051.9L830.1 1051.1L830.8 1050.3L831.4 1049.6L832.1 1048.8L832.7 1048L833.4 1047.3L834 1046.5L834.7 1045.7L835.3 1045L836 1044.2L836.6 1043.4L837.3 1042.6L837.9 1041.9L838.6 1041.1L839.2 1040.3L839.8 1039.5L840.5 1038.8L841.1 1038L841.8 1037.2L842.4 1036.4L843 1035.7L843.7 1034.9L844.3 1034.1L844.9 1033.3L845.6 1032.5L846.2 1031.8L846.9 1031L847.5 1030.2L848.1 1029.4L848.8 1028.6L849.4 1027.9L850 1027.1L850.7 1026.3L851.3 1025.5L851.9 1024.7L852.6 1023.9L853.2 1023.1L853.8 1022.3L854.4 1021.6L855.1 1020.8L855.7 1020L856.3 1019.2L857 1018.4L857.6 1017.6L858.2 1016.8L858.9 1016L859.5 1015.2L860.1 1014.5L860.7 1013.7L861.4 1012.9L862 1012.1L862.6 1011.3L863.2 1010.5L863.9 1009.7L864.5 1008.9L865.1 1008.1L865.7 1007.3L866.4 1006.5L867 1005.7L867.6 1004.9L868.2 1004.1L868.9 1003.3L869.5 1002.6L870.1 1001.8L870.7 1001L871.4 1000.2L872 999.4L872.6 998.6L873.2 997.8L873.9 997L874.5 996.2L875.1 995.4L875.7 994.6L876.3 993.8L877 993L877.6 992.2L878.2 991.4L878.8 990.6L879.5 989.8L880.1 989L880.7 988.2L881.3 987.4L882 986.6L882.6 985.9L883.2 985.1L883.8 984.3L884.4 983.5L885.1 982.7L885.7 981.9L886.3 981.1L886.9 980.3L887.6 979.5L888.2 978.7L888.8 977.9L889.4 977.1L890.1 976.3L890.7 975.5L891.3 974.7L891.9 974L892.6 973.2L893.2 972.4L893.8 971.6L894.4 970.8L895.1 970L895.7 969.2L896.3 968.4L896.9 967.6L897.6 966.8L898.2 966L898.8 965.2L899.4 964.5L900.1 963.7L900.7 962.9L901.3 962.1L901.9 961.3L902.5 960.5L903.2 959.7L903.8 958.9L904.4 958.1L905 957.3L905.7 956.6L906.3 955.8L906.9 955L907.5 954.2L908.2 953.4L908.8 952.6L909.4 951.8L910 951L910.7 950.2L911.3 949.5L911.9 948.7L912.5 947.9L913.2 947.1L913.8 946.3L914.4 945.5L915 944.7L915.7 943.9L916.3 943.1L916.9 942.4L917.5 941.6L918.2 940.8L918.8 940L919.4 939.2L920 938.4L920.7 937.6L921.3 936.8L921.9 936.1L922.5 935.3L923.2 934.5L923.8 933.7L924.4 932.9L925 932.1L925.7 931.3L926.3 930.5L926.9 929.8L927.5 929L928.1 928.2L928.8 927.4L929.4 926.6L930 925.8L930.6 925L931.3 924.3L931.9 923.5L932.5 922.7L933.1 921.9L933.8 921.1L934.4 920.3L935 919.5L935.6 918.7L936.2 918L936.9 917.2L937.5 916.4L938.1 915.6L938.7 914.8L939.4 914L940 913.2L940.6 912.5L941.2 911.7L941.8 910.9L942.5 910.1L943.1 909.3L943.7 908.5L944.3 907.7L944.9 906.9L945.6 906.2L946.2 905.4L946.8 904.6L947.4 903.8L948 903L948.7 902.2L949.3 901.4L949.9 900.7L950.5 899.9L951.1 899.1L951.8 898.3L952.4 897.5L953 896.7L953.6 895.9L954.2 895.1L954.9 894.4L955.5 893.6L956.1 892.8L956.7 892L957.3 891.2L957.9 890.4L958.6 889.6L959.2 888.8L959.8 888.1L960.4 887.3L961 886.5L961.6 885.7L962.3 884.9L962.9 884.1L963.5 883.3L964.1 882.5L964.7 881.8L965.3 881L966 880.2L966.6 879.4L967.2 878.6L967.8 877.8L968.4 877L969 876.2L969.6 875.5L970.2 874.7L970.9 873.9L971.5 873.1L972.1 872.3L972.7 871.5L973.3 870.7L973.9 869.9L974.5 869.1L975.1 868.3L975.8 867.6L976.4 866.8L977 866L977.6 865.2L978.2 864.4L978.8 863.6L979.4 862.8L980 862L980.6 861.2L981.2 860.4L981.9 859.7L982.5 858.9L983.1 858.1L983.7 857.3L984.3 856.5L984.9 855.7L985.5 854.9L986.1 854.1L986.7 853.3L987.3 852.5L987.9 851.7L988.5 850.9L989.1 850.2L989.7 849.4L990.3 848.6L990.9 847.8L991.6 847L992.2 846.2L992.8 845.4L993.4 844.6L994 843.8L994.6 843L995.2 842.2L995.8 841.4L996.4 840.6L997 839.8L997.6 839L998.2 838.2L998.8 837.5L999.4 836.7L1000 835.9L1000.6 835.1L1001.2 834.3L1001.8 833.5L1002.4 832.7L1003 831.9L1003.6 831.1L1004.2 830.3L1004.8 829.5L1005.4 828.7L1006 827.9L1006.5 827.1L1007.1 826.3L1007.7 825.5L1008.3 824.7L1008.9 823.9L1009.5 823.1L1010.1 822.3L1010.7 821.5L1011.3 820.7L1011.9 819.9L1012.5 819.1L1013.1 818.3L1013.7 817.5L1014.3 816.7L1014.8 815.9L1015.4 815.1L1016 814.3L1016.6 813.5L1017.2 812.7L1017.8 811.9L1018.4 811.1L1019 810.3L1019.6 809.5L1020.1 808.7L1020.7 807.9L1021.3 807.1L1021.9 806.3L1022.5 805.5L1023.1 804.7L1023.7 803.9L1024.2 803.1L1024.8 802.2L1025.4 801.4L1026 800.6L1026.6 799.8L1027.2 799L1027.7 798.2L1028.3 797.4L1028.9 796.6L1029.5 795.8L1030.1 795L1030.6 794.2L1031.2 793.4L1031.8 792.6L1032.4 791.8L1032.9 790.9L1033.5 790.1L1034.1 789.3L1034.7 788.5L1035.3 787.7L1035.8 786.9L1036.4 786.1L1037 785.3L1037.5 784.5L1038.1 783.7L1038.7 782.8L1039.3 782L1039.8 781.2L1040.4 780.4L1041 779.6L1041.6 778.8L1042.1 778L1042.7 777.1L1043.3 776.3L1043.8 775.5L1044.4 774.7L1045 773.9L1045.5 773.1L1046.1 772.3L1046.7 771.4L1047.2 770.6L1047.8 769.8L1048.4 769L1048.9 768.2L1049.5 767.3L1050 766.5L1050.6 765.7L1051.2 764.9L1051.7 764.1L1052.3 763.2L1052.8 762.4L1053.4 761.6L1054 760.8L1054.5 760L1055.1 759.1L1055.6 758.3L1056.2 757.5L1056.8 756.7L1057.3 755.8L1057.9 755L1058.4 754.2L1059 753.4L1059.5 752.5L1060.1 751.7L1060.6 750.9L1061.2 750.1L1061.7 749.2L1062.3 748.4L1062.8 747.6L1063.4 746.8L1063.9 745.9L1064.5 745.1L1065 744.3L1065.6 743.4L1066.1 742.6L1066.7 741.8L1067.2 741L1067.8 740.1L1068.3 739.3L1068.8 738.5L1069.4 737.6L1069.9 736.8L1070.5 736L1071 735.1L1071.6 734.3L1072.1 733.5L1072.6 732.6L1073.2 731.8L1073.7 731L1074.2 730.1L1074.8 729.3L1075.3 728.4L1075.9 727.6L1076.4 726.8L1076.9 725.9L1077.5 725.1L1078 724.3L1078.5 723.4L1079.1 722.6L1079.6 721.7L1080.1 720.9L1080.6 720.1L1081.2 719.2L1081.7 718.4L1082.2 717.5L1082.8 716.7L1083.3 715.8L1083.8 715L1084.3 714.1L1084.9 713.3L1085.4 712.5L1085.9 711.6L1086.4 710.8L1086.9 709.9L1087.5 709.1L1088 708.2L1088.5 707.4L1089 706.5L1089.5 705.7L1090.1 704.8L1090.6 704L1091.1 703.1L1091.6 702.3L1092.1 701.4L1092.6 700.6L1093.2 699.7L1093.7 698.9L1094.2 698L1094.7 697.1L1095.2 696.3L1095.7 695.4L1096.2 694.6L1096.7 693.7L1097.2 692.9L1097.7 692L1098.2 691.1L1098.8 690.3L1099.3 689.4L1099.8 688.6L1100.3 687.7L1100.8 686.9L1101.3 686L1101.8 685.1L1102.3 684.3L1102.8 683.4L1103.3 682.5L1103.8 681.7L1104.3 680.8L1104.8 679.9L1105.3 679.1L1105.8 678.2L1106.3 677.3L1106.7 676.5L1107.2 675.6L1107.7 674.7L1108.2 673.9L1108.7 673L1109.2 672.1L1109.7 671.3L1110.2 670.4L1110.7 669.5L1111.2 668.7L1111.7 667.8L1112.1 666.9L1112.6 666L1113.1 665.2L1113.6 664.3L1114.1 663.4L1114.6 662.5L1115.1 661.7L1115.5 660.8L1116 659.9L1116.5 659L1117 658.2L1117.5 657.3L1117.9 656.4L1118.4 655.5L1118.9 654.7L1119.4 653.8L1119.9 652.9L1120.3 652L1120.8 651.1L1121.3 650.3L1121.8 649.4L1122.2 648.5L1122.7 647.6L1123.2 646.7L1123.7 645.9L1124.1 645L1124.6 644.1L1125.1 643.2L1125.6 642.3L1126 641.5L1126.5 640.6L1127 639.7L1127.4 638.8L1127.9 637.9L1128.4 637L1128.9 636.1L1129.3 635.3L1129.8 634.4L1130.3 633.5L1130.7 632.6L1131.2 631.7L1131.7 630.8L1132.1 629.9L1132.6 629L1133.1 628.2L1133.5 627.3L1134 626.4L1134.4 625.5L1134.9 624.6L1135.4 623.7L1135.8 622.8L1136.3 621.9L1136.8 621L1137.2 620.2L1137.7 619.3L1138.1 618.4L1138.6 617.5L1139.1 616.6L1139.5 615.7L1140 614.8L1140.4 613.9L1140.9 613L1141.3 612.1L1141.8 611.2L1142.3 610.3L1142.7 609.4L1143.2 608.5L1143.6 607.7L1144.1 606.8L1144.5 605.9L1145 605L1145.5 604.1L1145.9 603.2L1146.4 602.3L1146.8 601.4L1147.3 600.5L1147.7 599.6L1148.2 598.7L1148.6 597.8L1149.1 596.9L1149.5 596L1150 595.1L1150.4 594.2L1150.9 593.3L1151.3 592.4L1151.8 591.5L1152.2 590.6L1152.7 589.7L1153.1 588.8L1153.6 587.9L1154 587L1154.5 586.1L1154.9 585.2L1155.4 584.3L1155.8 583.4L1156.3 582.5L1156.7 581.6L1157.2 580.7L1157.6 579.8L1158.1 578.9L1158.5 578L1159 577.1L1159.4 576.2L1159.9 575.3L1160.3 574.4L1160.8 573.5L1161.2 572.6L1161.7 571.7L1162.1 570.8L1162.5 569.9L1163 569L1163.4 568.1L1163.9 567.2L1164.3 566.3L1164.8 565.4L1165.2 564.5L1165.7 563.6L1166.1 562.7L1166.6 561.8L1167 560.9L1167.4 560L1167.9 559.1L1168.3 558.2L1168.8 557.3L1169.2 556.4L1169.7 555.5L1170.1 554.6L1170.6 553.7L1171 552.8L1171.4 551.9L1171.9 551L1172.3 550.1L1172.8 549.2L1173.2 548.3L1173.7 547.4L1174.1 546.5L1174.6 545.6L1175 544.7L1175.4 543.8L1175.9 542.9L1176.3 542L1176.8 541.1L1177.2 540.2L1177.7 539.3L1178.1 538.4L1178.5 537.5L1179 536.6L1179.4 535.7L1179.9 534.8L1180.3 533.9L1180.8 533L1181.2 532.1L1181.7 531.2L1182.1 530.3L1182.5 529.3L1183 528.4L1183.4 527.5L1183.9 526.6L1184.3 525.7L1184.8 524.8L1185.2 523.9L1185.7 523L1186.1 522.1L1186.5 521.2L1187 520.3L1187.4 519.4L1187.9 518.5L1188.3 517.6L1188.8 516.7L1189.2 515.8L1189.7 514.9L1190.1 514L1190.5 513.1L1191 512.2L1191.4 511.3L1191.9 510.4L1192.3 509.5L1192.8 508.6L1193.2 507.7L1193.7 506.8L1194.1 505.9L1194.6 505L1195 504.1L1195.5 503.2L1195.9 502.3L1196.4 501.4L1196.8 500.5L1197.2 499.6L1197.7 498.7L1198.1 497.8L1198.6 496.9L1199 496.1L1199.5 495.2L1199.9 494.3L1200.4 493.4L1200.8 492.5L1201.3 491.6L1201.7 490.7L1202.2 489.8L1202.6 488.9L1203.1 488L1203.5 487.1L1204 486.2L1204.4 485.3L1204.9 484.4L1205.3 483.5L1205.8 482.6L1206.2 481.7L1206.7 480.8L1207.2 479.9L1207.6 479L1208.1 478.1L1208.5 477.2L1209 476.4L1209.4 475.5L1209.9 474.6L1210.3 473.7L1210.8 472.8L1211.2 471.9L1211.7 471L1212.2 470.1L1212.6 469.2L1213.1 468.3L1213.5 467.4L1214 466.6L1214.4 465.7L1214.9 464.8L1215.4 463.9L1215.8 463L1216.3 462.1L1216.7 461.2L1217.2 460.3L1217.7 459.4L1218.1 458.6L1218.6 457.7L1219 456.8L1219.5 455.9L1220 455L1220.4 454.1L1220.9 453.2L1221.4 452.4L1221.8 451.5L1222.3 450.6L1222.8 449.7L1223.2 448.8L1223.7 447.9L1224.2 447L1224.6 446.2L1225.1 445.3L1225.6 444.4L1226 443.5L1226.5 442.6L1227 441.8L1227.4 440.9L1227.9 440L1228.4 439.1L1228.8 438.2L1229.3 437.4L1229.8 436.5L1230.3 435.6L1230.7 434.7L1231.2 433.8L1231.7 433L1232.2 432.1L1232.6 431.2L1233.1 430.3L1233.6 429.5L1234.1 428.6L1234.5 427.7L1235 426.8L1235.5 426L1236 425.1L1236.4 424.2L1236.9 423.3L1237.4 422.5L1237.9 421.6L1238.4 420.7L1238.8 419.8L1239.3 419L1239.8 418.1L1240.3 417.2L1240.7 416.4L1241.2 415.5L1241.7 414.6L1242.2 413.7L1242.7 412.9L1243.2 412L1243.6 411.1L1244.1 410.2L1244.6 409.4L1245.1 408.5L1245.6 407.6L1246 406.8L1246.5 405.9L1247 405L1247.5 404.2L1248 403.3L1248.5 402.4L1248.9 401.5L1249.4 400.7L1249.9 399.8L1250.4 398.9L1250.9 398.1L1251.3 397.2L1251.8 396.3L1252.3 395.4L1252.8 394.6L1253.3 393.7L1253.8 392.8L1254.2 392L1254.7 391.1L1255.2 390.2L1255.7 389.3L1256.2 388.5L1256.6 387.6L1257.1 386.7L1257.6 385.9L1258.1 385L1258.6 384.1L1259 383.2L1259.5 382.4L1260 381.5L1260.5 380.6L1261 379.7L1261.4 378.9L1261.9 378L1262.4 377.1L1262.9 376.3L1263.3 375.4L1263.8 374.5L1264.3 373.6L1264.8 372.8L1265.3 371.9L1265.7 371L1266.2 370.1L1266.7 369.2L1267.2 368.4L1267.6 367.5L1268.1 366.6L1268.6 365.7L1269 364.9L1269.5 364L1270 363.1L1270.5 362.2L1270.9 361.3L1271.4 360.5L1271.9 359.6L1272.3 358.7L1272.8 357.8L1273.3 356.9L1273.8 356.1L1274.2 355.2L1274.7 354.3L1275.2 353.4L1275.6 352.5L1276.1 351.7L1276.6 350.8L1277.1 349.9L1277.5 349L1278 348.2L1278.5 347.3L1278.9 346.4L1279.4 345.5L1279.9 344.6L1280.4 343.8L1280.8 342.9L1281.3 342L1281.8 341.1L1282.3 340.3L1282.8 339.4L1283.2 338.5L1283.7 337.6L1284.2 336.8L1284.7 335.9L1285.2 335L1285.6 334.1L1286.1 333.3L1286.6 332.4L1287.1 331.5L1287.6 330.7L1288.1 329.8L1288.6 328.9L1289 328.1L1289.5 327.2L1290 326.3L1290.5 325.5L1291 324.6L1291.5 323.7L1292 322.9L1292.5 322L1293 321.2L1293.5 320.3L1294 319.4L1294.5 318.6L1295 317.7L1295.5 316.9L1296 316L1296.5 315.2L1297.1 314.3L1297.6 313.5L1298.1 312.6L1298.6 311.8L1299.1 310.9L1299.6 310.1L1300.1 309.2L1300.7 308.4L1301.2 307.5L1301.7 306.7L1302.2 305.8L1302.8 305L1303.3 304.2L1303.8 303.3L1304.4 302.5L1304.9 301.6L1305.5 300.8L1306 300L1306.5 299.1L1307.1 298.3L1307.6 297.5L1308.2 296.7L1308.7 295.8L1309.3 295L1309.8 294.2L1310.4 293.4L1311 292.5L1311.5 291.7L1312.1 290.9L1312.7 290.1L1313.2 289.3L1313.8 288.4L1314.4 287.6L1314.9 286.8L1315.5 286L1316.1 285.2L1316.7 284.4L1317.3 283.6L1317.9 282.8L1318.5 282L1319.1 281.2L1319.6 280.4L1320.2 279.6L1320.9 278.8L1321.5 278L1322.1 277.2L1322.7 276.4L1323.3 275.6L1323.9 274.8L1324.5 274L1325.1 273.3L1325.8 272.5L1326.4 271.7L1327 270.9L1327.7 270.1L1328.3 269.4L1328.9 268.6L1329.6 267.8L1330.2 267L1330.9 266.3L1331.5 265.5L1332.2 264.7L1332.8 264L1333.5 263.2L1334.1 262.4L1334.8 261.7L1335.4 260.9L1336.1 260.2L1336.8 259.4L1337.4 258.7L1338.1 257.9L1338.8 257.2L1339.5 256.4L1340.2 255.7L1340.8 254.9L1341.5 254.2L1342.2 253.5L1342.9 252.7L1343.6 252L1344.3 251.3L1345 250.5L1345.7 249.8L1346.4 249.1L1347.1 248.3L1347.8 247.6L1348.5 246.9L1349.2 246.2L1350 245.5L1350.7 244.7L1351.4 244L1352.1 243.3L1352.8 242.6L1353.6 241.9L1354.3 241.2L1355 240.5L1355.8 239.8L1356.5 239.1L1357.3 238.4L1358 237.7L1358.7 237L1359.5 236.3L1360.2 235.6L1361 234.9L1361.7 234.3L1362.5 233.6L1363.3 232.9L1364 232.2L1364.8 231.6L1365.6 230.9L1366.3 230.2L1367.1 229.6L1367.9 228.9L1368.7 228.2L1369.4 227.6L1370.2 226.9L1371 226.3L1371.8 225.7L1372.6 225L1373.4 224.4L1374.2 223.7L1375 223.1L1375.8 222.5L1376.6 221.9L1377.4 221.2L1378.2 220.6L1379 220L1379.8 219.4L1380.6 218.8L1381.4 218.2L1382.2 217.6L1383.1 217L1383.9 216.4L1384.7 215.9L1385.5 215.3L1386.4 214.7L1387.2 214.1L1388 213.6L1388.9 213L1389.7 212.5L1390.6 211.9L1391.4 211.4L1392.3 210.8L1393.1 210.3L1394 209.8L1394.8 209.2L1395.7 208.7L1396.5 208.2L1397.4 207.7L1398.3 207.2L1399.1 206.7L1400 206.2L1400.9 205.7L1401.7 205.2L1402.6 204.7L1403.5 204.3L1404.4 203.8L1405.3 203.3L1406.1 202.9L1407 202.4L1407.9 202L1408.8 201.6L1409.7 201.1L1410.6 200.7L1411.5 200.3L1412.4 199.9L1413.3 199.5L1414.2 199.1L1415.1 198.7L1416 198.3L1417 197.9L1417.9 197.5L1418.8 197.2L1419.7 196.8L1420.6 196.4L1421.6 196.1L1422.5 195.7L1423.4 195.4L1424.3 195.1L1425.3 194.7L1426.2 194.4L1427.1 194.1L1428.1 193.8L1429 193.5L1429.9 193.2L1430.9 192.9L1431.8 192.6L1432.8 192.3L1433.7 192L1434.7 191.8L1435.6 191.5L1436.6 191.2L1437.5 191L1438.5 190.7L1439.4 190.5L1440.4 190.3L1441.3 190L1442.3 189.8L1443.3 189.6L1444.2 189.4L1445.2 189.2L1446.2 189L1447.1 188.8L1448.1 188.6L1449 188.4L1450 188.2L1451 188.1L1452 187.9L1452.9 187.7L1453.9 187.6L1454.9 187.4L1455.8 187.3L1456.8 187.2L1457.8 187L1458.8 186.9L1459.7 186.8L1460.7 186.7L1461.7 186.6L1462.7 186.5L1463.7 186.4L1464.6 186.3L1465.6 186.2L1466.6 186.1L1467.6 186.1L1468.6 186L1469.6 185.9L1470.5 185.9L1471.5 185.8L1472.5 185.8L1473.5 185.8L1474.5 185.7L1475.5 185.7L1476.4 185.7L1477.4 185.7L1478.4 185.7L1479.4 185.7L1480.4 185.7L1481.4 185.7L1482.4 185.7L1483.3 185.7L1484.3 185.7L1485.3 185.8L1486.3 185.8L1487.3 185.8L1488.3 185.9L1489.3 186L1490.2 186L1491.2 186.1L1492.2 186.2L1493.2 186.2L1494.2 186.3L1495.2 186.4L1496.2 186.5L1497.1 186.6L1498.1 186.7L1499.1 186.8L1500.1 187L1501.1 187.1L1502 187.2L1503 187.3L1504 187.5L1505 187.6L1506 187.8L1506.9 188L1507.9 188.1L1508.9 188.3L1509.9 188.5L1510.9 188.6L1511.8 188.8L1512.8 189L1513.8 189.2L1514.8 189.4L1515.7 189.6L1516.7 189.8L1517.7 190L1518.6 190.3L1519.6 190.5L1520.6 190.7L1521.6 191L1522.5 191.2L1523.5 191.4L1524.5 191.7L1525.4 191.9L1526.4 192.2L1527.4 192.4L1528.3 192.7L1529.3 193L1530.3 193.2L1531.2 193.5L1532.2 193.8L1533.2 194.1L1534.1 194.4L1535.1 194.6L1536 194.9L1537 195.2L1538 195.5L1538.9 195.8L1539.9 196.1L1540.8 196.4L1541.8 196.8L1542.8 197.1L1543.7 197.4L1544.7 197.7L1545.6 198L1546.6 198.4L1547.5 198.7L1548.5 199L1549.5 199.3L1550.4 199.7L1551.4 200L1552.3 200.4L1553.3 200.7L1554.2 201L1555.2 201.4L1556.1 201.7L1557.1 202.1L1558 202.4L1559 202.8L1559.9 203.1L1560.9 203.5L1561.8 203.9L1562.8 204.2L1563.7 204.6L1564.7 204.9L1565.6 205.3L1566.6 205.7L1567.5 206L1568.4 206.4L1569.4 206.8L1570.3 207.2L1571.3 207.5L1572.2 207.9L1573.2 208.3L1574.1 208.6L1575.1 209L1576 209.4L1576.9 209.8L1577.9 210.1L1578.8 210.5L1579.8 210.9L1580.7 211.3L1581.6 211.6L1582.6 212L1583.5 212.4L1584.4 212.8L1585.4 213.2L1586.3 213.5L1587.3 213.9L1588.2 214.3L1589.1 214.7L1590.1 215.1L1591 215.5L1591.9 215.8L1592.9 216.2L1593.8 216.6L1594.7 217L1595.7 217.4L1596.6 217.8L1597.5 218.2L1598.5 218.5L1599.4 218.9L1600.3 219.3L1601.2 219.7L1602.2 220.1L1603.1 220.5L1604 220.9L1605 221.3L1605.9 221.7L1606.8 222.1L1607.7 222.4L1608.7 222.8L1609.6 223.2L1610.5 223.6L1611.5 224L1612.4 224.4L1613.3 224.8L1614.2 225.2L1615.1 225.6L1616.1 226L1617 226.4L1617.9 226.8L1618.8 227.2L1619.8 227.6L1620.7 228L1621.6 228.4L1622.5 228.8L1623.4 229.2L1624.4 229.6L1625.3 230L1626.2 230.4L1627.1 230.8L1628 231.2L1629 231.6L1629.9 232L1630.8 232.5L1631.7 232.9L1632.6 233.3L1633.5 233.7L1634.5 234.1L1635.4 234.5L1636.3 234.9L1637.2 235.3L1638.1 235.7L1639 236.1L1640 236.5L1640.9 237L1641.8 237.4L1642.7 237.8L1643.6 238.2L1644.5 238.6L1645.4 239L1646.3 239.4L1647.3 239.8L1648.2 240.3L1649.1 240.7L1650 241.1L1650.9 241.5L1651.8 241.9L1652.7 242.3L1653.6 242.8L1654.5 243.2L1655.4 243.6L1656.3 244L1657.3 244.4L1658.2 244.9L1659.1 245.3L1660 245.7L1660.9 246.1L1661.8 246.6L1662.7 247L1663.6 247.4L1664.5 247.8L1665.4 248.2L1666.3 248.7L1667.2 249.1L1668.1 249.5L1669 250L1669.9 250.4L1670.8 250.8L1671.7 251.2L1672.6 251.7L1673.5 252.1L1674.4 252.5L1675.3 252.9L1676.2 253.4L1677.1 253.8L1678 254.2L1678.9 254.7L1679.8 255.1L1680.7 255.5L1681.6 256L1682.5 256.4L1683.4 256.8L1684.3 257.3L1685.2 257.7L1686.1 258.1L1687 258.6L1687.9 259L1688.8 259.4L1689.7 259.9L1690.6 260.3L1691.5 260.7L1692.4 261.2L1693.3 261.6L1694.2 262.1L1695.1 262.5L1696 262.9L1696.9 263.4L1697.8 263.8L1698.7 264.3L1699.6 264.7L1700.5 265.1L1701.4 265.6L1702.3 266L1703.2 266.5L1704.1 266.9L1704.9 267.4L1705.8 267.8L1706.7 268.2L1707.6 268.7L1708.5 269.1L1709.4 269.6L1710.3 270L1711.2 270.5L1712.1 270.9L1713 271.4L1713.9 271.8L1714.8 272.3L1715.6 272.7L1716.5 273.1L1717.4 273.6L1718.3 274L1719.2 274.5L1720.1 274.9L1721 275.4L1721.9 275.8L1722.8 276.3L1723.7 276.7L1724.5 277.2L1725.4 277.7L1726.3 278.1L1727.2 278.6L1728.1 279L1729 279.5L1729.9 279.9L1730.8 280.4L1731.6 280.8L1732.5 281.3L1733.4 281.7L1734.3 282.2L1735.2 282.6L1736.1 283.1L1737 283.6L1737.8 284L1738.7 284.5L1739.6 284.9L1740.5 285.4L1741.4 285.8L1742.3 286.3L1743.2 286.8L1744 287.2L1744.9 287.7L1745.8 288.1L1746.7 288.6L1747.6 289.1L1748.5 289.5L1749.3 290L1750.2 290.4L1751.1 290.9L1752 291.4L1752.9 291.8L1753.8 292.3L1754.6 292.8L1755.5 293.2L1756.4 293.7L1757.3 294.2L1758.2 294.6L1759 295.1L1759.9 295.5L1760.8 296L1761.7 296.5L1762.6 296.9L1763.4 297.4L1764.3 297.9L1765.2 298.3L1766.1 298.8L1767 299.3L1767.9 299.7L1768.7 300.2L1769.6 300.7L1770.5 301.2L1771.4 301.6L1772.3 302.1L1773.1 302.6L1774 303L1774.9 303.5L1775.8 304L1776.6 304.4L1777.5 304.9L1778.4 305.4L1779.3 305.9L1780.2 306.3L1781 306.8L1781.9 307.3L1782.8 307.7L1783.7 308.2L1784.6 308.7L1785.4 309.2L1786.3 309.6L1787.2 310.1L1788.1 310.6L1788.9 311.1L1789.8 311.5L1790.7 312L1791.6 312.5L1792.5 313L1793.3 313.4L1794.2 313.9L1795.1 314.4L1796 314.9L1796.8 315.4L1797.7 315.8L1798.6 316.3L1799.5 316.8L1800.3 317.3L1801.2 317.7L1802.1 318.2L1803 318.7L1803.9 319.2L1804.7 319.7L1805.6 320.1L1806.5 320.6L1807.4 321.1L1808.2 321.6L1809.1 322.1L1810 322.5L1810.9 323L1811.7 323.5L1812.6 324L1813.5 324.5L1814.4 324.9L1815.2 325.4L1816.1 325.9L1817 326.4L1817.9 326.9L1818.7 327.4L1819.6 327.8L1820.5 328.3L1821.4 328.8L1822.2 329.3L1823.1 329.8L1824 330.3L1824.9 330.8L1825.8 331.2L1826.6 331.7L1827.5 332.2L1828.4 332.7L1829.3 333.2L1830.1 333.7L1831 334.2L1831.9 334.6L1832.8 335.1L1833.6 335.6L1834.5 336.1L1835.4 336.6L1836.3 337.1L1837.1 337.6L1838 338L1838.9 338.5L1839.8 339L1840.6 339.5L1841.5 340L1842.4 340.5L1843.3 341L1844.1 341.5L1845 342L1845.9 342.4L1846.8 342.9L1847.6 343.4L1848.5 343.9L1849.4 344.4L1850.3 344.9L1851.1 345.4L1852 345.9L1852.9 346.3L1853.8 346.8L1854.6 347.3L1855.5 347.8L1856.4 348.3L1857.3 348.8L1858.1 349.3L1859 349.8L1859.9 350.3L1860.8 350.8L1861.6 351.2L1862.5 351.7L1863.4 352.2L1864.3 352.7L1865.1 353.2L1866 353.7L1866.9 354.2L1867.8 354.7L1868.6 355.2L1869.5 355.6L1870.4 356.1L1871.3 356.6L1872.1 357.1L1873 357.6L1873.9 358.1L1874.8 358.6L1875.6 359.1L1876.5 359.6L1877.4 360L1878.3 360.5L1879.1 361L1880 361.5L1880.9 362L1881.8 362.5L1882.6 363L1883.5 363.5L1884.4 364L1885.3 364.4L1886.1 364.9L1887 365.4L1887.9 365.9L1888.8 366.4L1889.7 366.9L1890.5 367.4L1891.4 367.9L1892.3 368.3L1893.2 368.8L1894 369.3L1894.9 369.8L1895.8 370.3L1896.7 370.8L1897.5 371.3L1898.4 371.7L1899.3 372.2L1900.2 372.7L1901.1 373.2L1901.9 373.7L1902.8 374.2L1903.7 374.7L1904.6 375.1L1905.4 375.6L1906.3 376.1L1907.2 376.6L1908.1 377.1L1908.9 377.6L1909.8 378L1910.7 378.5L1911.6 379L1912.5 379.5L1913.3 380L1914.2 380.5L1915.1 380.9L1916 381.4L1916.8 381.9L1917.7 382.4L1918.6 382.9L1919.5 383.4L1920.4 383.8L1921.2 384.3L1922.1 384.8L1923 385.3L1923.9 385.8L1924.8 386.2L1925.6 386.7L1926.5 387.2L1927.4 387.7L1928.3 388.1L1929.2 388.6L1930 389.1L1930.9 389.6L1931.8 390.1L1932.7 390.5L1933.6 391L1934.4 391.5L1935.3 392L1936.2 392.4L1937.1 392.9L1938 393.4L1938.8 393.8L1939.7 394.3L1940.6 394.8L1941.5 395.3L1942.4 395.7L1943.2 396.2L1944.1 396.7L1945 397.2L1945.9 397.6L1946.8 398.1L1947.7 398.6L1948.5 399L1949.4 399.5L1950.3 400L1951.2 400.4L1952.1 400.9L1952.9 401.4L1953.8 401.8L1954.7 402.3L1955.6 402.8L1956.5 403.2L1957.4 403.7L1958.2 404.2L1959.1 404.6L1960 405.1L1960.9 405.6L1961.8 406L1962.7 406.5L1963.5 406.9L1964.4 407.4L1965.3 407.9L1966.2 408.3L1967.1 408.8L1968 409.2L1968.9 409.7L1969.7 410.2L1970.6 410.6L1971.5 411.1L1972.4 411.5L1973.3 412L1974.2 412.4L1975.1 412.9L1975.9 413.3L1976.8 413.8L1977.7 414.3L1978.6 414.7L1979.5 415.2L1980.4 415.6L1981.3 416.1L1982.1 416.5L1983 417L1983.9 417.4L1984.8 417.9L1985.7 418.3L1986.6 418.8L1987.5 419.2L1988.4 419.6L1989.3 420.1L1990.1 420.5"/>
<path stroke="#0000FF" d="M548.9 1183L549.8 1183L550.7 1182.9L551.6 1182.9L552.6 1182.9L553.5 1182.9L554.4 1182.9L555.3 1182.9L556.3 1182.9L557.2 1182.9L558.1 1182.9L559.1 1182.8L560 1182.8L561 1182.8L561.9 1182.8L562.9 1182.8L563.8 1182.8L564.8 1182.8L565.8 1182.9L566.7 1182.9L567.7 1182.9L568.7 1182.9L569.6 1182.9L570.6 1182.9L571.6 1182.9L572.6 1182.9L573.6 1182.9L574.5 1182.9L575.5 1182.9L576.5 1182.9L577.5 1182.9L578.5 1182.9L579.5 1183L580.5 1183L581.5 1183L582.5 1183L583.5 1183L584.5 1183L585.5 1183L586.5 1183L587.5 1183L588.6 1183L589.6 1183L590.6 1183L591.6 1183.1L592.6 1183.1L593.7 1183.1L594.7 1183.1L595.7 1183.1L596.7 1183.1L597.8 1183.1L598.8 1183.1L599.8 1183.1L600.8 1183.1L601.9 1183.1L602.9 1183.1L603.9 1183.1L605 1183L606 1183L607 1183L608.1 1183L609.1 1183L610.1 1183L611.2 1183L612.2 1183L613.3 1182.9L614.3 1182.9L615.3 1182.9L616.4 1182.9L617.4 1182.8L618.5 1182.8L619.5 1182.8L620.5 1182.7L621.6 1182.7L622.6 1182.7L623.7 1182.6L624.7 1182.6L625.7 1182.5L626.8 1182.5L627.8 1182.4L628.9 1182.4L629.9 1182.3L630.9 1182.2L632 1182.2L633 1182.1L634.1 1182.1L635.1 1182L636.1 1181.9L637.2 1181.8L638.2 1181.7L639.2 1181.7L640.3 1181.6L641.3 1181.5L642.3 1181.4L643.4 1181.3L644.4 1181.2L645.4 1181.1L646.5 1181L647.5 1180.9L648.5 1180.7L649.5 1180.6L650.6 1180.5L651.6 1180.4L652.6 1180.2L653.6 1180.1L654.7 1180L655.7 1179.8L656.7 1179.7L657.7 1179.5L658.7 1179.4L659.7 1179.2L660.7 1179L661.7 1178.9L662.7 1178.7L663.7 1178.5L664.7 1178.3L665.7 1178.1L666.7 1177.9L667.7 1177.7L668.7 1177.5L669.7 1177.3L670.7 1177.1L671.7 1176.9L672.7 1176.7L673.6 1176.4L674.6 1176.2L675.6 1176L676.6 1175.7L677.5 1175.5L678.5 1175.2L679.5 1175L680.4 1174.7L681.4 1174.4L682.4 1174.1L683.3 1173.8L684.3 1173.6L685.2 1173.3L686.1 1173L687.1 1172.6L688 1172.3L689 1172L689.9 1171.7L690.8 1171.4L691.7 1171L692.7 1170.7L693.6 1170.3L694.5 1170L695.4 1169.6L696.3 1169.2L697.2 1168.8L698.1 1168.5L699 1168.1L699.9 1167.7L700.8 1167.3L701.7 1166.9L702.6 1166.4L703.4 1166L704.3 1165.6L705.2 1165.1L706.1 1164.7L706.9 1164.2L707.8 1163.8L708.6 1163.3L709.5 1162.8L710.3 1162.4L711.2 1161.9L712 1161.4L712.8 1160.9L713.7 1160.4L714.5 1159.9L715.3 1159.4L716.1 1158.8L717 1158.3L717.8 1157.8L718.6 1157.2L719.4 1156.7L720.2 1156.1L721 1155.6L721.8 1155L722.6 1154.5L723.4 1153.9L724.2 1153.3L724.9 1152.7L725.7 1152.1L726.5 1151.5L727.3 1150.9L728 1150.3L728.8 1149.7L729.6 1149.1L730.3 1148.5L731.1 1147.9L731.8 1147.2L732.6 1146.6L733.3 1145.9L734.1 1145.3L734.8 1144.6L735.5 1144L736.3 1143.3L737 1142.7L737.7 1142L738.4 1141.3L739.2 1140.6L739.9 1140L740.6 1139.3L741.3 1138.6L742 1137.9L742.7 1137.2L743.4 1136.5L744.1 1135.8L744.8 1135L745.5 1134.3L746.2 1133.6L746.8 1132.9L747.5 1132.1L748.2 1131.4L748.9 1130.7L749.6 1129.9L750.2 1129.2L750.9 1128.4L751.5 1127.7L752.2 1126.9L752.9 1126.2L753.5 1125.4L754.2 1124.6L754.8 1123.9L755.5 1123.1L756.1 1122.3L756.7 1121.5L757.4 1120.7L758 1120L758.6 1119.2L759.3 1118.4L759.9 1117.6L760.5 1116.8L761.1 1116L761.8 1115.2L762.4 1114.4L763 1113.6L763.6 1112.7L764.2 1111.9L764.8 1111.1L765.4 1110.3L766 1109.5L766.6 1108.6L767.2 1107.8L767.8 1107L768.4 1106.1L768.9 1105.3L769.5 1104.5L770.1 1103.6L770.7 1102.8L771.3 1101.9L771.8 1101.1L772.4 1100.2L773 1099.4L773.5 1098.5L774.1 1097.7L774.7 1096.8L775.2 1096L775.8 1095.1L776.3 1094.3L776.9 1093.4L777.4 1092.5L778 1091.7L778.5 1090.8L779 1089.9L779.6 1089.1L780.1 1088.2L780.7 1087.3L781.2 1086.4L781.7 1085.6L782.2 1084.7L782.8 1083.8L783.3 1082.9L783.8 1082.1L784.3 1081.2L784.8 1080.3L785.4 1079.4L785.9 1078.5L786.4 1077.7L786.9 1076.8L787.4 1075.9L787.9 1075L788.4 1074.1L788.9 1073.2L789.4 1072.3L789.9 1071.5L790.4 1070.6L790.9 1069.7L791.4 1068.8L791.8 1067.9L792.3 1067L792.8 1066.1L793.3 1065.3L793.8 1064.4L794.3 1063.5L794.7 1062.6L795.2 1061.7L795.7 1060.8L796.1 1059.9L796.6 1059L797.1 1058.2L797.6 1057.3L798 1056.4L798.5 1055.5L798.9 1054.6L799.4 1053.7L799.9 1052.8L800.3 1052L800.8 1051.1L801.3 1050.2L801.7 1049.3L802.2 1048.4L802.6 1047.5L803.1 1046.6L803.5 1045.8L804 1044.9L804.5 1044L804.9 1043.1L805.4 1042.2L805.8 1041.3L806.3 1040.5L806.7 1039.6L807.2 1038.7L807.6 1037.8L808.1 1036.9L808.5 1036L809 1035.2L809.5 1034.3L809.9 1033.4L810.4 1032.5L810.8 1031.6L811.3 1030.8L811.7 1029.9L812.2 1029L812.7 1028.1L813.1 1027.3L813.6 1026.4L814 1025.5L814.5 1024.6L815 1023.8L815.4 1022.9L815.9 1022L816.4 1021.2L816.8 1020.3L817.3 1019.4L817.8 1018.5L818.2 1017.7L818.7 1016.8L819.2 1015.9L819.7 1015.1L820.2 1014.2L820.6 1013.3L821.1 1012.5L821.6 1011.6L822.1 1010.8L822.6 1009.9L823.1 1009L823.6 1008.2L824.1 1007.3L824.6 1006.5L825.1 1005.6L825.6 1004.8L826.1 1003.9L826.6 1003L827.1 1002.2L827.6 1001.3L828.1 1000.5L828.6 999.6L829.1 998.8L829.7 998L830.2 997.1L830.7 996.3L831.3 995.4L831.8 994.6L832.3 993.7L832.9 992.9L833.4 992.1L834 991.2L834.5 990.4L835.1 989.6L835.6 988.7L836.2 987.9L836.8 987.1L837.3 986.2L837.9 985.4L838.5 984.6L839.1 983.8L839.6 982.9L840.2 982.1L840.8 981.3L841.4 980.5L842 979.7L842.6 978.8L843.2 978L843.8 977.2L844.4 976.4L845 975.6L845.6 974.8L846.3 973.9L846.9 973.1L847.5 972.3L848.1 971.5L848.7 970.7L849.3 969.9L849.9 969L850.5 968.2L851.1 967.4L851.8 966.6L852.4 965.8L853 965L853.6 964.1L854.2 963.3L854.8 962.5L855.3 961.7L855.9 960.8L856.5 960L857.1 959.2L857.7 958.3L858.2 957.5L858.8 956.7L859.4 955.8L859.9 955L860.5 954.1L861 953.3L861.6 952.4L862.1 951.6L862.6 950.7L863.1 949.9L863.6 949L864.1 948.1L864.6 947.3L865.4 928.1L866.1 927.3L866.8 926.5L867.4 925.8L868.1 925L868.8 924.2L869.5 923.5L870.2 922.7L870.9 921.9L871.5 921.1L872.2 920.3L872.9 919.6L873.6 918.8L874.2 918L874.9 917.2L875.6 916.5L876.3 915.7L876.9 914.9L877.6 914.1L878.2 913.3L878.9 912.5L879.6 911.7L880.2 911L880.9 910.2L881.5 909.4L882.2 908.6L882.8 907.8L883.5 907L884.1 906.2L884.8 905.4L885.4 904.6L886 903.8L886.7 903L887.3 902.2L887.9 901.4L888.6 900.6L889.2 899.8L889.8 899L890.5 898.2L891.1 897.4L891.7 896.6L892.3 895.8L893 895L893.6 894.2L894.2 893.4L894.8 892.6L895.4 891.8L896 891L896.7 890.2L897.3 889.4L897.9 888.6L898.5 887.8L899.1 887L899.7 886.1L900.3 885.3L900.9 884.5L901.5 883.7L902.1 882.9L902.7 882.1L903.3 881.2L903.9 880.4L904.5 879.6L905.1 878.8L905.6 878L906.2 877.2L906.8 876.3L907.4 875.5L908 874.7L908.6 873.9L909.1 873L909.7 872.2L910.3 871.4L910.9 870.6L911.4 869.7L912 868.9L912.6 868.1L913.1 867.2L913.7 866.4L914.3 865.6L914.8 864.7L915.4 863.9L915.9 863.1L916.5 862.2L917.1 861.4L917.6 860.6L918.2 859.7L918.7 858.9L919.3 858.1L919.8 857.2L920.4 856.4L920.9 855.5L921.5 854.7L922 853.9L922.5 853L923.1 852.2L923.6 851.3L924.2 850.5L924.7 849.7L925.2 848.8L925.8 848L926.3 847.1L926.8 846.3L927.4 845.4L927.9 844.6L928.4 843.7L928.9 842.9L929.5 842L930 841.2L930.5 840.3L931 839.5L931.5 838.6L932.1 837.8L932.6 836.9L933.1 836L933.6 835.2L934.1 834.3L934.6 833.5L935.1 832.6L935.6 831.8L936.1 830.9L936.7 830L937.2 829.2L937.7 828.3L938.2 827.5L938.7 826.6L939.2 825.7L939.7 824.9L940.2 824L940.6 823.1L941.1 822.3L941.6 821.4L942.1 820.5L942.6 819.7L943.1 818.8L943.6 817.9L944.1 817.1L944.6 816.2L945 815.3L945.5 814.5L946 813.6L946.5 812.7L947 811.8L947.4 811L947.9 810.1L948.4 809.2L948.9 808.4L949.3 807.5L949.8 806.6L950.3 805.7L950.8 804.8L951.2 804L951.7 803.1L952.2 802.2L952.6 801.3L953.1 800.5L953.5 799.6L954 798.7L954.5 797.8L954.9 796.9L955.4 796L955.8 795.2L956.3 794.3L956.7 793.4L957.2 792.5L957.7 791.6L958.1 790.7L958.6 789.9L959 789L959.4 788.1L959.9 787.2L960.3 786.3L960.8 785.4L961.2 784.5L961.7 783.6L962.1 782.7L962.6 781.8L963 781L963.4 780.1L963.9 779.2L964.3 778.3L964.7 777.4L965.2 776.5L965.6 775.6L966 774.7L966.5 773.8L966.9 772.9L967.3 772L967.8 771.1L968.2 770.2L968.6 769.3L969 768.4L969.5 767.5L969.9 766.6L970.3 765.7L970.7 764.8L971.1 763.9L971.6 763L972 762.1L972.4 761.2L972.8 760.3L973.2 759.4L973.6 758.5L974.1 757.6L974.5 756.7L974.9 755.8L975.3 754.9L975.7 754L976.1 753.1L976.5 752.2L976.9 751.3L977.3 750.4L977.7 749.4L978.2 748.5L978.6 747.6L979 746.7L979.4 745.8L979.8 744.9L980.2 744L980.6 743.1L981 742.2L981.4 741.3L981.8 740.3L982.2 739.4L982.5 738.5L982.9 737.6L983.3 736.7L983.7 735.8L984.1 734.9L984.5 733.9L984.9 733L985.3 732.1L985.7 731.2L986.1 730.3L986.5 729.4L986.8 728.4L987.2 727.5L987.6 726.6L988 725.7L988.4 724.8L988.8 723.9L989.2 722.9L989.5 722L989.9 721.1L990.3 720.2L990.7 719.3L991.1 718.3L991.4 717.4L991.8 716.5L992.2 715.6L992.6 714.6L992.9 713.7L993.3 712.8L993.7 711.9L994.1 710.9L994.4 710L994.8 709.1L995.2 708.2L995.5 707.2L995.9 706.3L996.3 705.4L996.6 704.5L997 703.5L997.4 702.6L997.7 701.7L998.1 700.8L998.5 699.8L998.8 698.9L999.2 698L999.6 697L999.9 696.1L1000.3 695.2L1000.7 694.3L1001 693.3L1001.4 692.4L1001.7 691.5L1002.1 690.5L1002.5 689.6L1002.8 688.7L1003.2 687.7L1003.5 686.8L1003.9 685.9L1004.2 684.9L1004.6 684L1005 683.1L1005.3 682.1L1005.7 681.2L1006 680.3L1006.4 679.3L1006.7 678.4L1007.1 677.5L1007.4 676.5L1007.8 675.6L1008.1 674.7L1008.5 673.7L1008.8 672.8L1009.2 671.9L1009.5 670.9L1009.9 670L1010.2 669L1010.6 668.1L1010.9 667.2L1011.3 666.2L1011.6 665.3L1011.9 664.4L1012.3 663.4L1012.6 662.5L1013 661.5L1013.3 660.6L1013.7 659.7L1014 658.7L1014.3 657.8L1014.7 656.8L1015 655.9L1015.4 655L1015.7 654L1016.1 653.1L1016.4 652.1L1016.7 651.2L1017.1 650.2L1017.4 649.3L1017.7 648.4L1018.1 647.4L1018.4 646.5L1018.8 645.5L1019.1 644.6L1019.4 643.6L1019.8 642.7L1020.1 641.8L1020.4 640.8L1020.8 639.9L1021.1 638.9L1021.4 638L1021.8 637L1022.1 636.1L1022.5 635.2L1022.8 634.2L1023.1 633.3L1023.5 632.3L1023.8 631.4L1024.1 630.4L1024.4 629.5L1024.8 628.5L1025.1 627.6L1025.4 626.6L1025.8 625.7L1026.1 624.8L1026.4 623.8L1026.8 622.9L1027.1 621.9L1027.4 621L1027.8 620L1028.1 619.1L1028.4 618.1L1028.7 617.2L1029.1 616.2L1029.4 615.3L1029.7 614.3L1030.1 613.4L1030.4 612.4L1030.7 611.5L1031 610.5L1031.4 609.6L1031.7 608.6L1032 607.7L1032.3 606.8L1032.7 605.8L1033 604.9L1033.3 603.9L1033.7 603L1034 602L1034.3 601.1L1034.6 600.1L1035 599.2L1035.3 598.2L1035.6 597.3L1035.9 596.3L1036.3 595.4L1036.6 594.4L1036.9 593.5L1037.2 592.5L1037.6 591.6L1037.9 590.6L1038.2 589.7L1038.5 588.7L1038.9 587.8L1039.2 586.8L1039.5 585.9L1039.8 584.9L1040.2 584L1040.5 583L1040.8 582.1L1041.1 581.1L1041.5 580.2L1041.8 579.2L1042.1 578.3L1042.4 577.3L1042.8 576.4L1043.1 575.4L1043.4 574.5L1043.7 573.5L1044.1 572.6L1044.4 571.6L1044.7 570.7L1045 569.7L1045.4 568.8L1045.7 567.8L1046 566.9L1046.3 565.9L1046.7 565L1047 564L1047.3 563.1L1047.6 562.1L1048 561.1L1048.3 560.2L1048.6 559.2L1048.9 558.3L1049.3 557.3L1049.6 556.4L1049.9 555.4L1050.2 554.5L1050.6 553.5L1050.9 552.6L1051.2 551.6L1051.5 550.7L1051.9 549.7L1052.2 548.8L1052.5 547.8L1052.8 546.9L1053.2 545.9L1053.5 545L1053.8 544L1054.2 543.1L1054.5 542.1L1054.8 541.2L1055.1 540.2L1055.5 539.3L1055.8 538.3L1056.1 537.4L1056.5 536.4L1056.8 535.5L1057.1 534.5L1057.4 533.6L1057.8 532.6L1058.1 531.7L1058.4 530.7L1058.8 529.8L1059.1 528.8L1059.4 527.9L1059.8 526.9L1060.1 526L1060.4 525.1L1060.7 524.1L1061.1 523.2L1061.4 522.2L1061.7 521.3L1062.1 520.3L1062.4 519.4L1062.7 518.4L1063.1 517.5L1063.4 516.5L1063.7 515.6L1064.1 514.6L1064.4 513.7L1064.8 512.7L1065.1 511.8L1065.4 510.8L1065.8 509.9L1066.1 508.9L1066.4 508L1066.8 507L1067.1 506.1L1067.4 505.1L1067.8 504.2L1068.1 503.3L1068.5 502.3L1068.8 501.4L1069.1 500.4L1069.5 499.5L1069.8 498.5L1070.2 497.6L1070.5 496.6L1070.8 495.7L1071.2 494.7L1071.5 493.8L1071.9 492.9L1072.2 491.9L1072.6 491L1072.9 490L1073.2 489.1L1073.6 488.1L1073.9 487.2L1074.3 486.3L1074.6 485.3L1075 484.4L1075.3 483.4L1075.7 482.5L1076 481.5L1076.4 480.6L1076.7 479.7L1077.1 478.7L1077.4 477.8L1077.8 476.8L1078.1 475.9L1078.5 474.9L1078.8 474L1079.2 473.1L1079.5 472.1L1079.9 471.2L1080.2 470.2L1080.6 469.3L1080.9 468.4L1081.3 467.4L1081.7 466.5L1082 465.6L1082.4 464.6L1082.7 463.7L1083.1 462.7L1083.4 461.8L1083.8 460.9L1084.2 459.9L1084.5 459L1084.9 458.1L1085.3 457.1L1085.6 456.2L1086 455.2L1086.3 454.3L1086.7 453.4L1087.1 452.4L1087.4 451.5L1087.8 450.6L1088.2 449.6L1088.5 448.7L1088.9 447.8L1089.3 446.8L1089.6 445.9L1090 445L1090.4 444L1090.8 443.1L1091.1 442.2L1091.5 441.2L1091.9 440.3L1092.3 439.4L1092.6 438.4L1093 437.5L1093.4 436.6L1093.8 435.6L1094.1 434.7L1094.5 433.8L1094.9 432.9L1095.3 431.9L1095.7 431L1096 430.1L1096.4 429.1L1096.8 428.2L1097.2 427.3L1097.6 426.4L1098 425.4L1098.3 424.5L1098.7 423.6L1099.1 422.7L1099.5 421.7L1099.9 420.8L1100.3 419.9L1100.7 419L1101.1 418L1101.5 417.1L1101.8 416.2L1102.2 415.3L1102.6 414.3L1103 413.4L1103.4 412.5L1103.8 411.6L1104.2 410.6L1104.6 409.7L1105 408.8L1105.4 407.9L1105.8 407L1106.2 406L1106.6 405.1L1107 404.2L1107.4 403.3L1107.8 402.4L1108.2 401.5L1108.7 400.5L1109.1 399.6L1109.5 398.7L1109.9 397.8L1110.3 396.9L1110.7 396L1111.1 395L1111.5 394.1L1111.9 393.2L1112.4 392.3L1112.8 391.4L1113.2 390.5L1113.6 389.6L1114 388.6L1114.5 387.7L1114.9 386.8L1115.3 385.9L1115.7 385L1116.1 384.1L1116.6 383.2L1117 382.3L1117.4 381.4L1117.8 380.5L1118.3 379.5L1118.7 378.6L1119.1 377.7L1119.6 376.8L1120 375.9L1120.4 375L1120.9 374.1L1121.3 373.2L1121.7 372.3L1122.2 371.4L1122.6 370.5L1123.1 369.6L1123.5 368.7L1123.9 367.8L1124.4 366.9L1124.8 366L1125.3 365.1L1125.7 364.2L1126.2 363.3L1126.6 362.4L1127.1 361.5L1127.5 360.6L1128 359.7L1128.4 358.8L1128.9 357.9L1129.3 357L1129.8 356.1L1130.2 355.2L1130.7 354.3L1131.2 353.4L1131.6 352.5L1132.1 351.6L1132.6 350.7L1133 349.8L1133.5 349L1134 348.1L1134.4 347.2L1134.9 346.3L1135.4 345.4L1135.9 344.5L1136.3 343.6L1136.8 342.8L1137.3 341.9L1137.8 341L1138.3 340.1L1138.8 339.2L1139.2 338.4L1139.7 337.5L1140.2 336.6L1140.7 335.8L1141.2 334.9L1141.7 334L1142.2 333.2L1142.7 332.3L1143.2 331.4L1143.8 330.6L1144.3 329.7L1144.8 328.9L1145.3 328L1145.8 327.1L1146.3 326.3L1146.9 325.5L1147.4 324.6L1147.9 323.8L1148.5 322.9L1149 322.1L1149.5 321.2L1150.1 320.4L1150.6 319.6L1151.2 318.8L1151.7 317.9L1152.3 317.1L1152.9 316.3L1153.4 315.5L1154 314.6L1154.6 313.8L1155.1 313L1155.7 312.2L1156.3 311.4L1156.9 310.6L1157.5 309.8L1158.1 309L1158.6 308.2L1159.2 307.4L1159.8 306.6L1160.5 305.9L1161.1 305.1L1161.7 304.3L1162.3 303.5L1162.9 302.8L1163.5 302L1164.2 301.2L1164.8 300.5L1165.4 299.7L1166.1 299L1166.7 298.2L1167.4 297.5L1168 296.7L1168.7 296L1169.4 295.2L1170 294.5L1170.7 293.8L1171.4 293.1L1172.1 292.3L1172.7 291.6L1173.4 290.9L1174.1 290.2L1174.8 289.5L1175.5 288.8L1176.3 288.1L1177 287.4L1177.7 286.7L1178.4 286.1L1179.1 285.4L1179.9 284.7L1180.6 284L1181.4 283.4L1182.1 282.7L1182.9 282.1L1183.6 281.4L1184.4 280.8L1185.2 280.1L1186 279.5L1186.7 278.9L1187.5 278.2L1188.3 277.6L1189.1 277L1189.9 276.4L1190.7 275.8L1191.5 275.2L1192.4 274.6L1193.2 274L1194 273.4L1194.9 272.9L1195.7 272.3L1196.5 271.8L1197.4 271.2L1198.2 270.7L1199.1 270.1L1200 269.6L1200.8 269.1L1201.7 268.6L1202.6 268.1L1203.5 267.6L1204.3 267.2L1205.2 266.7L1206.1 266.3L1207 265.8L1207.9 265.4L1208.8 265L1209.7 264.6L1210.6 264.2L1211.5 263.8L1212.5 263.4L1213.4 263.1L1214.3 262.7L1215.2 262.4L1216.2 262.1L1217.1 261.8L1218 261.5L1219 261.2L1219.9 260.9L1220.9 260.7L1221.8 260.5L1222.8 260.2L1223.7 260L1224.7 259.8L1225.6 259.7L1226.6 259.5L1227.6 259.4L1228.5 259.3L1229.5 259.1L1230.5 259L1231.4 259L1232.4 258.9L1233.4 258.8L1234.4 258.8L1235.3 258.8L1236.3 258.7L1237.3 258.7L1238.2 258.7L1239.2 258.8L1240.2 258.8L1241.2 258.9L1242.1 258.9L1243.1 259L1244.1 259.1L1245 259.2L1246 259.3L1247 259.4L1247.9 259.5L1248.9 259.7L1249.8 259.8L1250.8 260L1251.8 260.2L1252.7 260.4L1253.7 260.6L1254.6 260.8L1255.6 261L1256.5 261.2L1257.4 261.5L1258.4 261.7L1259.3 262L1260.2 262.3L1261.2 262.6L1262.1 262.9L1263 263.2L1264 263.5L1264.9 263.8L1265.8 264.1L1266.7 264.5L1267.6 264.8L1268.6 265.2L1269.5 265.6L1270.4 265.9L1271.3 266.3L1272.2 266.7L1273.1 267.1L1274 267.5L1274.9 267.9L1275.8 268.4L1276.7 268.8L1277.6 269.2L1278.5 269.7L1279.4 270.2L1280.3 270.6L1281.2 271.1L1282 271.6L1282.9 272.1L1283.8 272.5L1284.7 273L1285.6 273.5L1286.4 274.1L1287.3 274.6L1288.2 275.1L1289 275.6L1289.9 276.2L1290.8 276.7L1291.6 277.3L1292.5 277.8L1293.4 278.4L1294.2 278.9L1295.1 279.5L1295.9 280.1L1296.8 280.6L1297.6 281.2L1298.5 281.8L1299.3 282.4L1300.2 283L1301 283.6L1301.9 284.2L1302.7 284.8L1303.6 285.4L1304.4 286.1L1305.2 286.7L1306.1 287.3L1306.9 287.9L1307.7 288.6L1308.6 289.2L1309.4 289.8L1310.2 290.5L1311 291.1L1311.9 291.7L1312.7 292.4L1313.5 293L1314.3 293.7L1315.1 294.3L1315.9 295L1316.8 295.7L1317.6 296.3L1318.4 297L1319.2 297.6L1320 298.3L1320.8 299L1321.6 299.6L1322.4 300.3L1323.2 301L1324 301.6L1324.8 302.3L1325.6 303L1326.4 303.6L1327.2 304.3L1328 305L1328.8 305.6L1329.6 306.3L1330.4 307L1331.2 307.6L1331.9 308.3L1332.7 309L1333.5 309.6L1334.3 310.3L1335.1 311L1335.8 311.6L1336.6 312.3L1337.4 313L1338.2 313.6L1339 314.3L1339.7 314.9L1340.5 315.6L1341.3 316.2L1342 316.9L1342.8 317.5L1343.6 318.2L1344.3 318.8L1345.1 319.4L1345.9 320.1L1346.6 320.7L1347.4 321.3L1348.1 322L1348.9 322.6L1349.7 323.2L1350.4 323.8L1351.2 324.4L1351.9 325L1352.7 325.6L1353.4 326.2L1354.2 326.8L1354.9 327.4L1355.7 328L1356.4 328.6L1357.2 329.2L1357.9 329.7L1358.7 330.3L1359.4 330.9L1360.2 331.4L1360.9 332L1361.6 332.5L1362.4 333.1L1363.1 333.6L1363.9 334.1L1364.6 334.6L1365.3 335.2L1366.1 335.7L1366.8 336.2L1367.5 336.7L1368.3 337.2L1372.1 343.4L1372.9 344L1373.6 344.6L1374.4 345.2L1375.2 345.8L1376 346.4L1376.8 347L1377.6 347.6L1378.4 348.2L1379.2 348.9L1380 349.5L1380.8 350.1L1381.6 350.7L1382.3 351.3L1383.1 351.9L1383.9 352.5L1384.7 353.2L1385.5 353.8L1386.3 354.4L1387 355L1387.8 355.6L1388.6 356.3L1389.4 356.9L1390.1 357.5L1390.9 358.2L1391.7 358.8L1392.5 359.4L1393.2 360.1L1394 360.7L1394.8 361.3L1395.6 362L1396.3 362.6L1397.1 363.2L1397.9 363.9L1398.6 364.5L1399.4 365.2L1400 365.7L1400.7 366.2L1401.4 366.8L1402.1 366.8L1402.8 368.4L1403.5 369.2L1404.1 369.3L1404.8 369.7L1405.5 369.8L1406.2 370.7L1406.9 371.6L1407.6 371.9L1408.3 373.4L1409 373L1409.7 373.1L1410.4 375L1411 373.4L1411.7 375.4L1412.4 376.3L1413.1 376.5L1413.8 377.2L1414.5 379.6L1415.2 378.6L1415.9 379.4L1416.6 379L1417.3 379.8L1417.9 380.5L1418.6 381.3L1419.3 381.4L1420 382.2L1420.7 382.9L1421.4 383.9L1422.1 384.2L1422.8 385L1423.5 385.1L1424.2 386.9L1424.8 387.3L1425.5 388.3L1426.2 387.9L1426.9 389.5L1427.6 388.8L1428.3 389.5L1429 389.6L1429.7 391.8L1430.4 392.5L1431.1 391.7L1431.7 392.1L1432.4 392.6L1433.1 395L1433.8 394.8L1434.5 394.2L1435.2 396.7L1435.9 396.3L1436.6 398L1437.3 398L1438 398.6L1438.6 398.5L1439.3 400.2L1440 400.8L1440.7 400.4L1441.4 400.3L1442.1 402.7L1442.8 402.9L1443.5 403.7L1444.2 402.5L1444.9 403.5L1445.5 404.9L1446.2 404.2L1446.9 405.2L1447.6 406.8L1448.3 406.7L1449 407.4L1449.7 409L1450.4 408.3L1451.1 410.1L1451.8 410.9L1452.4 410.3L1453.1 410.7L1453.8 411L1454.5 412L1455.2 413.5L1455.9 413.3L1456.6 412.6L1457.3 413.2L1458 414L1458.7 415.3L1459.3 416.7L1460 415.8L1460.7 415.8L1461.4 416.8L1462.1 418.6L1462.8 419.3L1463.5 420.2L1464.2 420.4L1464.9 420.7L1465.6 421L1466.2 422.5L1466.9 421.2L1467.6 422.9L1468.3 424L1469 423.7L1469.7 425.1L1470.4 423.5L1471.1 425.8L1471.8 426.3L1472.5 425.2L1473.1 425.7L1473.8 427.7L1474.5 428.9L1475.2 427.1L1475.9 428.2L1476.6 429.3L1477.3 429.2L1478 431.4L1478.7 432.1L1479.4 430.5L1480 432.1L1480.7 432.4L1481.4 433L1482.1 432.1L1482.8 435L1483.5 434.1L1484.2 435.5L1484.9 434.6L1485.6 436.8L1486.3 434.8L1486.9 437L1487.6 437.3L1488.3 436.4L1489 437L1489.7 437.9L1490.4 437.8L1491.1 439.6L1491.8 440.1L1492.5 440.8L1493.2 440.1L1493.8 440.3L1494.5 440.6L1495.2 441.4L1495.9 442.3L1496.6 442.6L1497.3 442.4L1498 445.2L1498.7 444.9L1499.4 443.7L1500.1 443.6L1500.7 445.6L1501.4 444.8L1502.1 447.5L1502.8 448L1503.5 446.5L1504.2 447.2L1504.9 448.4L1505.6 448L1506.3 447.5L1507 447.4L1507.6 450L1508.3 449.5L1509 451.7L1509.7 451.8L1510.4 452L1511.1 452.6L1511.8 452.7L1512.5 450.9L1513.2 451L1513.9 453.4L1514.5 454L1515.2 454L1515.9 455.8L1516.6 455.4L1517.3 455.2L1518 454.8L1518.7 455L1519.4 457.1L1520.1 457.6L1520.8 457L1521.4 457.1L1522.1 458.5L1522.8 456.3L1523.5 456.3L1524.2 458.2L1524.9 457.7L1525.6 458.1L1526.3 457.4L1527 458.2L1527.7 461.1L1528.3 461.7L1529 461.6L1529.7 462.2L1530.4 462.5L1531.1 463L1531.8 460.3L1532.5 460.9L1533.2 461L1533.9 462.5L1534.6 462.7L1535.2 465.1L1535.9 462.8L1536.6 465.1L1537.3 463.5L1538 465L1538.7 463.9L1539.4 466.9L1540.1 464L1540.8 466.3L1541.5 464.6L1542.1 466.7L1542.8 466.7L1543.5 467.9L1544.2 465.8L1544.9 468.5L1545.6 466.9L1546.3 468.7L1547 468.5L1547.7 468.4L1548.4 470.3L1549 469.4L1549.7 468.7L1550.4 468.5L1551.1 469.1L1551.8 469.3L1552.5 471.3L1553.2 471.5L1553.9 472.7L1554.6 472.5L1555.3 471.1L1555.9 470.9L1556.6 471.6L1557.3 471.2L1558 472.9L1558.7 471.7L1559.4 472.5L1560.1 473.7L1560.8 474.5L1561.5 474.2L1562.2 472.5L1562.8 472.9L1563.5 475.7L1564.2 473.8L1564.9 476.2L1565.6 477.3L1566.3 475.8L1567 477.6L1567.7 476.9L1568.4 477.9L1569.1 477.4L1569.7 478.4L1570.4 475.8L1571.1 477.1L1571.8 477.5L1572.5 476.2L1573.2 478.8L1573.9 476.5L1574.6 480.3L1575.3 477.4L1576 479.8L1576.6 477.7L1577.3 480.3L1578 480.8L1578.7 481.3L1579.4 480L1580.1 478.9L1580.8 481.7L1581.5 480.7L1582.2 481.6L1582.9 480.9L1583.5 482.3L1584.2 480L1584.9 483.2L1585.6 484L1586.3 480.6L1587 483.6L1587.7 480.7L1588.4 481L1589.1 485L1589.8 482.4L1590.4 485.3L1591.1 482.4L1591.8 482.4L1592.5 483.2L1593.2 484.1L1593.9 485.2L1594.6 484.4L1595.3 485.5L1596 486L1596.7 480.7L1597.3 485.9L1598 487.7L1598.7 483.9L1599.4 484.2L1600.1 486L1600.8 485.8L1601.5 484.8L1602.2 485.2L1602.9 487.8L1603.6 489.2L1604.2 486.5L1604.9 485.9L1605.6 488.5L1606.3 488.5L1607 487.3L1607.7 490.6L1608.4 487L1609.1 488.9L1609.8 487.8L1610.5 487.9L1611.1 487.9L1611.8 489.7L1612.5 492L1613.2 490.3L1613.9 491.5L1614.6 490L1615.3 492.2L1616 490.5L1616.7 491.2L1617.4 492.9L1618 493.1L1618.7 494.8L1619.4 493.1L1620.1 489.7L1620.8 494.1L1621.5 491.1L1622.2 491.7L1622.9 490.3L1623.6 491L1624.3 491.4L1624.9 493.4L1625.6 491L1626.3 495.6L1627 493.1L1627.7 495L1628.4 496.4L1629.1 493.8L1629.8 496.4L1630.5 494.3L1631.2 492.5L1631.8 496.1L1632.5 494.3L1633.2 493.4L1633.9 494.9L1634.6 495.8L1635.3 495.2L1636 497.8L1636.7 497.8L1637.4 494.9L1638.1 498.4L1638.7 494.8L1639.4 494.4L1640.1 496.1L1640.8 498.8L1641.5 497.8L1642.2 499.3L1642.9 499.7L1643.6 496.2L1644.3 499.9L1645 497.4L1645.6 500L1646.3 498.8L1647 496.2L1647.7 497.7L1648.4 499.9L1649.1 501.2L1649.8 497.6L1650.5 497.6L1651.2 500L1651.9 500.1L1652.5 498L1653.2 500.5L1653.9 497.7L1654.6 500L1655.3 500.3L1656 501.4L1656.7 501.2L1657.4 500.2L1658.1 502.7L1658.8 501.6L1659.4 500.5L1660.1 501.3L1660.8 502.2L1661.5 502.6L1662.2 503.2L1662.9 499.3L1663.6 500.7L1664.3 502.7L1665 499.8L1665.7 498.8L1666.3 501.8L1667 499.5L1667.7 501L1668.4 502.9L1669.1 501.9L1669.8 500.3L1670.5 499.2L1671.2 501.8L1671.9 499.6L1672.6 500.4L1673.2 503.5L1673.9 501.2L1674.6 504.1L1675.3 503L1676 501.3L1676.7 500.1L1677.4 500.8L1678.1 499.2L1678.8 503L1679.5 500.3L1680.1 501.3L1680.8 500.6L1681.5 499.1L1682.2 499.3L1682.9 503.6L1683.6 501.6L1684.3 501.2L1685 500.9L1685.7 499.9L1686.4 501.5L1687 504.3L1687.7 500.1L1688.4 502.5L1689.1 498.8L1689.8 500.7L1690.5 500.1L1691.2 503.6L1691.9 502.5L1692.6 500.1L1693.3 503L1693.9 501.1L1694.6 499.5L1695.3 501.3L1696 500.3L1696.7 501.7L1697.4 501.6L1698.1 499.3L1698.8 499.8L1699.5 499.2L1700.2 497.7L1700.8 500.6L1701.5 499.2L1702.2 498.8L1702.9 503.2L1703.6 501.1L1704.3 499.5L1705 498.9L1705.7 497.7L1706.4 497.6L1707.1 496.9L1707.7 497.2L1708.4 500L1709.1 498.6L1709.8 498.4L1710.5 499.7L1711.2 497.1L1711.9 501.9L1712.6 500L1713.3 499.6L1714 499.2L1714.6 499.7L1715.3 497.8L1716 501.9L1716.7 494.8L1717.4 497L1718.1 495.7L1718.8 500.2L1719.5 498.6L1720.2 498L1720.9 499.1L1721.5 502.4L1722.2 501.4L1722.9 499.7L1723.6 501L1724.3 498L1725 495.9L1725.7 495.4L1726.4 494.7L1727.1 493.4L1727.8 498.9L1728.4 499.4L1729.1 500L1729.8 494.3L1730.5 495.7L1731.2 498.3L1731.9 498.6L1732.6 497.1L1733.3 497.6L1734 493.4L1734.7 494.3L1735.3 497L1736 493.3L1736.7 497.4L1737.4 500.5L1738.1 493.2L1738.8 498.2L1739.5 494.6L1740.2 495.8L1740.9 498.3L1741.6 494.7L1742.2 499.6L1742.9 496.1L1743.6 492.8L1744.3 493.6L1745 494L1745.7 492.5L1746.4 493L1747.1 493.2L1747.8 498L1748.5 492.1L1749.1 492.5L1749.8 494.1L1750.5 491.3L1751.2 495.7L1751.9 497.7L1752.6 497.4L1753.3 491L1754 491.2L1754.7 493.1L1755.4 492.1L1756 494.3L1756.7 496L1757.4 496.7L1758.1 491.5L1758.8 495.9L1759.5 491L1760.2 493.5L1760.9 496.6L1761.6 493.2L1762.3 493.1L1762.9 496.1L1763.6 494.7L1764.3 491.1L1765 487.8L1765.7 494.2L1766.4 496.8L1767.1 490.7L1767.8 497.5L1768.5 495.4L1769.2 495L1769.8 490.8L1770.5 490.7L1771.2 494.8L1771.9 496.9L1772.6 493.7L1773.3 496.3L1774 494.8L1774.7 491L1775.4 493.5L1776.1 492.9L1776.7 497.2L1777.4 497.8L1778.1 495.4L1778.8 496.5L1779.5 493.3L1780.2 494.9L1780.9 496.4L1781.6 489.8L1782.3 491.5L1783 494.1L1783.6 491.5L1784.3 493.8L1785 490.7L1785.7 496L1786.4 496.5L1787.1 489.5L1787.8 496.9L1788.5 489.9L1789.2 494.4L1789.9 497.9L1790.5 496.9L1791.2 494.6L1791.9 490.9L1792.6 490.4L1793.3 489.5L1794 492.6L1794.7 497.4L1795.4 489.4L1796.1 495.3L1796.8 491.7L1797.4 492L1798.1 492.3L1798.8 491.3L1799.5 493.7L1800.2 490.7L1800.9 492.7L1801.6 495.8L1802.3 488.2L1803 492.2L1803.7 494.9L1804.3 491.6L1805 490.1L1805.7 496.4L1806.4 493.4L1807.1 488.5L1807.8 495.5L1808.5 497.4L1809.2 494.1L1809.9 492.2L1810.6 493.9L1811.2 498.7L1811.9 495L1812.6 488.5L1813.3 495.2L1814 490.3L1814.7 492.2L1815.4 489.2L1816.1 496L1816.8 496.1L1817.5 492.7L1818.1 498.5L1818.8 491.3L1819.5 488.5L1820.2 493L1820.9 488.6L1821.6 490.6L1822.3 491.9L1823 492.2L1823.7 497L1824.4 488.9L1825 492L1825.7 498.9L1826.4 488.9L1827.1 495.8L1827.8 487.6L1828.5 498.8L1829.2 487.9L1829.9 490.2L1830.6 491.4L1831.3 498.3L1831.9 493.6L1832.6 491.1L1833.3 491.8L1834 491.6L1834.7 487.8L1835.4 493.5L1836.1 489.7L1836.8 490.8L1837.5 496.1L1838.2 491.5L1838.8 493.6L1839.5 493.7L1840.2 493.9L1840.9 492.5L1841.6 487.2L1842.3 489.9L1843 497.4L1843.7 495.1L1844.4 497.5L1845.1 497.3L1845.7 487.8L1846.4 494.7L1847.1 495.3L1847.8 497.1L1848.5 496.6L1849.2 500L1849.9 497.2L1850.6 492.2L1851.3 488.9L1852 488.5L1852.6 496.5L1853.3 489.1L1854 495.2L1854.7 493.1L1855.4 489.6L1856.1 488.3L1856.8 496.7L1857.5 496.9L1858.2 489.4L1858.9 495.5L1859.5 489.9L1860.2 494.7L1860.9 499.1L1861.6 494.4L1862.3 497.2L1863 497.5L1863.7 488.4L1864.4 497.2L1865.1 495.2L1865.8 494.2L1866.4 498L1867.1 499.2L1867.8 495.7L1868.5 489.9L1869.2 499.1L1869.9 491.3L1870.6 496.7L1871.3 496.5L1872 498.3L1872.7 499L1873.3 499.4L1874 489.4L1874.7 492.9L1875.4 495.3L1876.1 492.2L1876.8 490.9L1877.5 497.4L1878.2 496.5L1878.9 500.2L1879.6 502.1L1880.2 492.4L1880.9 499.3L1881.6 497L1882.3 502.2L1883 498.4L1883.7 490.9L1884.4 503.1L1885.1 490.2L1885.8 489.4L1886.5 499.1L1887.1 496.9L1887.8 492.1L1888.5 496.5L1889.2 495.4L1889.9 496.1L1890.6 497.5L1891.3 494.1L1892 503.7L1892.7 502.3L1893.4 496.5L1894 498.5L1894.7 491.1L1895.4 490.7L1896.1 504.4L1896.8 502L1897.5 498.4L1898.2 490.1L1898.9 504.6L1899.6 495L1900.3 501L1900.9 497.5L1901.6 496.5L1902.3 492.7L1903 496.9L1903.7 493.2L1904.4 497.3L1905.1 492.5L1905.8 494.5L1906.5 501.6L1907.2 500.9L1907.8 495.4L1908.5 494.5L1909.2 495.4L1909.9 501.7L1910.6 495.8L1911.3 501.4L1912 490.6L1912.7 491.2L1913.4 493L1914.1 504.5L1914.7 492.8L1915.4 493.8L1916.1 504.5L1916.8 498.2L1917.5 495L1918.2 493.2L1918.9 494.7L1919.6 497.8L1920.3 501.6L1921 491.4L1921.6 494.6L1922.3 498L1923 498.9L1923.7 505.5L1924.4 503.6L1925.1 504.9L1925.8 501.7L1926.5 491.9L1927.2 493L1927.9 502.1L1928.5 497L1929.2 512L1929.9 499L1930.6 499.2L1931.3 503.4L1932 497.9L1932.7 503.9L1933.4 503.4L1934.1 497.7L1934.8 492.1L1935.4 498.7L1936.1 494.3L1936.8 495.6L1937.5 505L1938.2 490L1938.9 499.1L1939.6 491.3L1940.3 500.4L1941 497L1941.7 493.9L1942.3 494.6L1943 497.4L1943.7 498.9L1944.4 504.5L1945.1 493.7L1945.8 504.1L1946.5 502.5L1947.2 504.7L1947.9 504.4L1948.6 505.9L1949.2 496.3L1949.9 505.9L1950.6 491.9L1951.3 506.9L1952 493.4L1952.7 507.1L1953.4 502.4L1954.1 503.6L1954.8 500.5L1955.5 499.3L1956.1 491.2L1956.8 494.9L1957.5 503.1L1958.2 495.7L1958.9 502.8L1959.6 506.8L1960.3 507L1961 504.4L1961.7 499.8L1962.4 505.2L1963 503.2L1963.7 500.1L1964.4 491.1L1965.1 499L1965.8 497.3L1966.5 498.1L1967.2 497.1L1967.9 499.6L1968.6 506.2L1969.3 507.9L1969.9 503.6L1970.6 499.5L1971.3 502.9L1972 501.8L1972.7 497.9L1973.4 507.2L1974.1 491.1L1974.8 497.9L1975.5 500.2L1976.2 501.5L1976.8 490.9L1977.5 490.7L1978.2 490.6L1978.9 491.3L1979.6 498.5L1980.3 507.4L1981 493.5L1981.7 497L1982.4 494.7L1983.1 498.3L1983.7 498.4L1984.4 497.7L1985.1 498.8L1985.8 499.1L1986.5 508.9L1987.2 503.2L1987.9 503.9L1988.6 526L1989.3 526L1990 508.7"/>
<path stroke="#008080" d="M548.8 1182.4L549.7 1182.4L550.6 1182.3L551.5 1182.3L552.4 1182.2L553.4 1182.2L554.3 1182.2L555.2 1182.1L556.2 1182.1L557.1 1182.1L558.1 1182L559 1182L560 1182L560.9 1182L561.9 1181.9L562.8 1181.9L563.8 1181.9L564.8 1181.8L565.7 1181.8L566.7 1181.8L567.7 1181.7L568.7 1181.7L569.6 1181.7L570.6 1181.7L571.6 1181.6L572.6 1181.6L573.6 1181.6L574.6 1181.5L575.6 1181.5L576.6 1181.5L577.6 1181.4L578.6 1181.4L579.6 1181.4L580.6 1181.3L581.6 1181.3L582.6 1181.3L583.6 1181.2L584.6 1181.2L585.7 1181.2L586.7 1181.1L587.7 1181.1L588.7 1181L589.7 1181L590.8 1180.9L591.8 1180.9L592.8 1180.9L593.8 1180.8L594.9 1180.8L595.9 1180.7L596.9 1180.7L598 1180.6L599 1180.6L600 1180.5L601.1 1180.4L602.1 1180.4L603.1 1180.3L604.2 1180.2L605.2 1180.2L606.2 1180.1L607.3 1180L608.3 1180L609.4 1179.9L610.4 1179.8L611.4 1179.7L612.5 1179.7L613.5 1179.6L614.6 1179.5L615.6 1179.4L616.6 1179.3L617.7 1179.2L618.7 1179.1L619.8 1179L620.8 1178.9L621.8 1178.8L622.9 1178.7L623.9 1178.6L625 1178.5L626 1178.4L627 1178.3L628.1 1178.1L629.1 1178L630.1 1177.9L631.2 1177.8L632.2 1177.6L633.2 1177.5L634.3 1177.3L635.3 1177.2L636.3 1177.1L637.4 1176.9L638.4 1176.7L639.4 1176.6L640.4 1176.4L641.5 1176.3L642.5 1176.1L643.5 1175.9L644.5 1175.7L645.5 1175.6L646.6 1175.4L647.6 1175.2L648.6 1175L649.6 1174.8L650.6 1174.6L651.6 1174.4L652.6 1174.2L653.6 1174L654.6 1173.7L655.6 1173.5L656.6 1173.3L657.6 1173.1L658.6 1172.8L659.6 1172.6L660.6 1172.3L661.6 1172.1L662.6 1171.8L663.5 1171.6L664.5 1171.3L665.5 1171L666.5 1170.7L667.4 1170.5L668.4 1170.2L669.4 1169.9L670.3 1169.6L671.3 1169.3L672.2 1169L673.2 1168.7L674.1 1168.3L675.1 1168L676 1167.7L677 1167.4L677.9 1167L678.8 1166.7L679.8 1166.3L680.7 1166L681.6 1165.6L682.5 1165.2L683.4 1164.8L684.4 1164.5L685.3 1164.1L686.2 1163.7L687.1 1163.3L688 1162.9L688.8 1162.5L689.7 1162L690.6 1161.6L691.5 1161.2L692.4 1160.8L693.2 1160.3L694.1 1159.9L695 1159.4L695.8 1158.9L696.7 1158.5L697.5 1158L698.4 1157.5L699.2 1157L700 1156.5L700.8 1156L701.7 1155.5L702.5 1155L703.3 1154.4L704.1 1153.9L704.9 1153.4L705.7 1152.8L706.5 1152.3L707.3 1151.7L708.1 1151.1L708.9 1150.6L709.6 1150L710.4 1149.4L711.2 1148.8L711.9 1148.2L712.7 1147.6L713.4 1147L714.2 1146.4L714.9 1145.7L715.7 1145.1L716.4 1144.5L717.1 1143.8L717.9 1143.2L718.6 1142.6L719.3 1141.9L720 1141.2L720.7 1140.6L721.4 1139.9L722.1 1139.2L722.8 1138.5L723.5 1137.8L724.2 1137.2L724.9 1136.5L725.6 1135.8L726.3 1135.1L726.9 1134.3L727.6 1133.6L728.3 1132.9L729 1132.2L729.6 1131.4L730.3 1130.7L730.9 1130L731.6 1129.2L732.2 1128.5L732.9 1127.7L733.5 1127L734.1 1126.2L734.8 1125.5L735.4 1124.7L736 1123.9L736.7 1123.1L737.3 1122.4L737.9 1121.6L738.5 1120.8L739.1 1120L739.7 1119.2L740.3 1118.4L741 1117.6L741.6 1116.8L742.2 1116L742.7 1115.2L743.3 1114.4L743.9 1113.6L744.5 1112.8L745.1 1112L745.7 1111.2L746.3 1110.3L746.8 1109.5L747.4 1108.7L748 1107.8L748.5 1107L749.1 1106.2L749.7 1105.3L750.2 1104.5L750.8 1103.7L751.4 1102.8L751.9 1102L752.5 1101.1L753 1100.3L753.6 1099.4L754.1 1098.6L754.7 1097.7L755.2 1096.9L755.7 1096L756.3 1095.2L756.8 1094.3L757.3 1093.4L757.9 1092.6L758.4 1091.7L758.9 1090.9L759.5 1090L760 1089.1L760.5 1088.3L761 1087.4L761.6 1086.5L762.1 1085.7L762.6 1084.8L763.1 1083.9L763.6 1083.1L764.1 1082.2L764.6 1081.3L765.2 1080.5L765.7 1079.6L766.2 1078.7L766.7 1077.8L767.2 1077L767.7 1076.1L768.2 1075.2L768.7 1074.3L769.2 1073.5L769.7 1072.6L770.2 1071.7L770.7 1070.8L771.2 1069.9L771.7 1069.1L772.1 1068.2L772.6 1067.3L773.1 1066.4L773.6 1065.5L774.1 1064.7L774.6 1063.8L775.1 1062.9L775.6 1062L776 1061.1L776.5 1060.2L777 1059.3L777.5 1058.5L778 1057.6L778.4 1056.7L778.9 1055.8L779.4 1054.9L779.9 1054L780.3 1053.1L780.8 1052.2L781.3 1051.4L781.8 1050.5L782.2 1049.6L782.7 1048.7L783.2 1047.8L783.6 1046.9L784.1 1046L784.6 1045.1L785.1 1044.2L785.5 1043.3L786 1042.5L786.5 1041.6L786.9 1040.7L787.4 1039.8L787.9 1038.9L788.3 1038L788.8 1037.1L789.2 1036.2L789.7 1035.3L790.2 1034.4L790.6 1033.5L791.1 1032.6L791.6 1031.7L792 1030.9L792.5 1030L793 1029.1L793.4 1028.2L793.9 1027.3L794.3 1026.4L794.8 1025.5L795.3 1024.6L795.7 1023.7L796.2 1022.8L796.7 1021.9L797.1 1021L797.6 1020.1L798 1019.2L798.5 1018.4L799 1017.5L799.4 1016.6L799.9 1015.7L800.4 1014.8L800.8 1013.9L801.3 1013L801.7 1012.1L802.2 1011.2L802.7 1010.3L803.1 1009.4L803.6 1008.6L804.1 1007.7L804.5 1006.8L805 1005.9L805.5 1005L805.9 1004.1L806.4 1003.2L806.9 1002.3L807.3 1001.5L807.8 1000.6L808.3 999.7L808.7 998.8L809.2 997.9L809.7 997L810.2 996.1L810.6 995.3L811.1 994.4L811.6 993.5L812.1 992.6L812.5 991.7L813 990.8L813.5 990L814 989.1L814.5 988.2L814.9 987.3L815.4 986.4L815.9 985.6L816.4 984.7L816.9 983.8L817.4 982.9L817.8 982.1L818.3 981.2L818.8 980.3L819.3 979.4L819.8 978.6L820.3 977.7L820.8 976.8L821.3 976L821.8 975.1L822.3 974.2L822.8 973.3L823.3 972.5L823.8 971.6L824.3 970.7L824.8 969.9L825.3 969L825.8 968.2L826.3 967.3L826.8 966.4L827.3 965.6L827.8 964.7L828.3 963.8L828.9 963L829.4 962.1L829.9 961.3L830.4 960.4L830.9 959.6L831.4 958.7L832 957.9L832.5 957L833 956.1L833.5 955.3L834.1 954.4L834.6 953.6L835.1 952.7L835.6 951.9L836.2 951L836.7 950.2L837.2 949.3L837.8 948.5L838.3 947.6L838.8 946.8L839.3 945.9L839.9 945.1L840.4 944.2L840.9 943.4L841.4 942.5L842 941.7L842.5 940.8L843 940L843.5 939.1L844.1 938.3L844.6 937.4L845.1 936.6L845.6 935.7L846.2 934.8L846.7 934L847.2 933.1L847.7 932.3L848.2 931.4L848.7 930.6L849.2 929.7L849.8 928.8L850.3 928L850.8 927.1L851.3 926.3L851.8 925.4L852.3 924.5L852.8 923.7L853.3 922.8L853.8 921.9L854.3 921L854.8 920.2L855.3 919.3L855.8 918.4L856.2 917.6L856.7 916.7L857.2 915.8L857.7 914.9L858.2 914L858.6 913.2L859.1 912.3L859.6 911.4L860 910.5L860.5 909.6L860.9 908.7L861.4 907.8L861.9 906.9L862.3 906L862.7 905.1L863.2 904.2L863.6 903.3L864.1 902.4L865.8 881.5L866.3 880.6L866.8 879.7L867.2 878.8L867.7 877.9L868.1 877L868.6 876.2L869.1 875.3L869.5 874.4L870 873.5L870.4 872.6L870.9 871.7L871.4 870.8L871.8 869.9L872.3 869L872.7 868.2L873.2 867.3L873.6 866.4L874.1 865.5L874.5 864.6L875 863.7L875.5 862.8L875.9 861.9L876.4 861L876.8 860.1L877.3 859.2L877.7 858.3L878.2 857.4L878.6 856.5L879.1 855.7L879.5 854.8L879.9 853.9L880.4 853L880.8 852.1L881.3 851.2L881.7 850.3L882.2 849.4L882.6 848.5L883.1 847.6L883.5 846.7L883.9 845.8L884.4 844.9L884.8 844L885.3 843.1L885.7 842.2L886.1 841.3L886.6 840.4L887 839.5L887.5 838.6L887.9 837.7L888.3 836.8L888.8 835.9L889.2 835L889.6 834.1L890.1 833.2L890.5 832.3L890.9 831.4L891.4 830.5L891.8 829.6L892.2 828.7L892.7 827.8L893.1 826.9L893.5 826L893.9 825.1L894.4 824.2L894.8 823.3L895.2 822.4L895.7 821.5L896.1 820.5L896.5 819.6L896.9 818.7L897.3 817.8L897.8 816.9L898.2 816L898.6 815.1L899 814.2L899.5 813.3L899.9 812.4L900.3 811.5L900.7 810.6L901.1 809.7L901.6 808.7L902 807.8L902.4 806.9L902.8 806L903.2 805.1L903.6 804.2L904.1 803.3L904.5 802.4L904.9 801.5L905.3 800.6L905.7 799.6L906.1 798.7L906.5 797.8L906.9 796.9L907.4 796L907.8 795.1L908.2 794.2L908.6 793.3L909 792.3L909.4 791.4L909.8 790.5L910.2 789.6L910.6 788.7L911 787.8L911.4 786.9L911.8 785.9L912.2 785L912.6 784.1L913 783.2L913.5 782.3L913.9 781.4L914.3 780.4L914.7 779.5L915.1 778.6L915.5 777.7L915.9 776.8L916.3 775.9L916.7 774.9L917.1 774L917.4 773.1L917.8 772.2L918.2 771.3L918.6 770.3L919 769.4L919.4 768.5L919.8 767.6L920.2 766.7L920.6 765.7L921 764.8L921.4 763.9L921.8 763L922.2 762.1L922.6 761.1L923 760.2L923.3 759.3L923.7 758.4L924.1 757.4L924.5 756.5L924.9 755.6L925.3 754.7L925.7 753.8L926.1 752.8L926.4 751.9L926.8 751L927.2 750.1L927.6 749.1L928 748.2L928.4 747.3L928.7 746.4L929.1 745.4L929.5 744.5L929.9 743.6L930.3 742.6L930.6 741.7L931 740.8L931.4 739.9L931.8 738.9L932.2 738L932.5 737.1L932.9 736.2L933.3 735.2L933.7 734.3L934 733.4L934.4 732.4L934.8 731.5L935.2 730.6L935.5 729.7L935.9 728.7L936.3 727.8L936.6 726.9L937 725.9L937.4 725L937.8 724.1L938.1 723.1L938.5 722.2L938.9 721.3L939.2 720.3L939.6 719.4L940 718.5L940.3 717.5L940.7 716.6L941.1 715.7L941.4 714.8L941.8 713.8L942.2 712.9L942.5 712L942.9 711L943.2 710.1L943.6 709.1L944 708.2L944.3 707.3L944.7 706.3L945 705.4L945.4 704.5L945.8 703.5L946.1 702.6L946.5 701.7L946.8 700.7L947.2 699.8L947.6 698.9L947.9 697.9L948.3 697L948.6 696L949 695.1L949.3 694.2L949.7 693.2L950 692.3L950.4 691.4L950.7 690.4L951.1 689.5L951.4 688.5L951.8 687.6L952.1 686.7L952.5 685.7L952.8 684.8L953.2 683.9L953.5 682.9L953.9 682L954.2 681L954.6 680.1L954.9 679.1L955.3 678.2L955.6 677.3L956 676.3L956.3 675.4L956.7 674.4L957 673.5L957.3 672.6L957.7 671.6L958 670.7L958.4 669.7L958.7 668.8L959.1 667.9L959.4 666.9L959.7 666L960.1 665L960.4 664.1L960.7 663.1L961.1 662.2L961.4 661.2L961.8 660.3L962.1 659.4L962.4 658.4L962.8 657.5L963.1 656.5L963.4 655.6L963.8 654.6L964.1 653.7L964.4 652.7L964.8 651.8L965.1 650.9L965.4 649.9L965.8 649L966.1 648L966.4 647.1L966.8 646.1L967.1 645.2L967.4 644.2L967.8 643.3L968.1 642.3L968.4 641.4L968.7 640.4L969.1 639.5L969.4 638.5L969.7 637.6L970 636.6L970.4 635.7L970.7 634.7L971 633.8L971.3 632.8L971.7 631.9L972 631L972.3 630L972.6 629.1L973 628.1L973.3 627.2L973.6 626.2L973.9 625.3L974.2 624.3L974.6 623.4L974.9 622.4L975.2 621.4L975.5 620.5L975.8 619.5L976.2 618.6L976.5 617.6L976.8 616.7L977.1 615.7L977.4 614.8L977.7 613.8L978.1 612.9L978.4 611.9L978.7 611L979 610L979.3 609.1L979.6 608.1L979.9 607.2L980.2 606.2L980.6 605.3L980.9 604.3L981.2 603.4L981.5 602.4L981.8 601.4L982.1 600.5L982.4 599.5L982.7 598.6L983 597.6L983.3 596.7L983.6 595.7L984 594.8L984.3 593.8L984.6 592.9L984.9 591.9L985.2 590.9L985.5 590L985.8 589L986.1 588.1L986.4 587.1L986.7 586.2L987 585.2L987.3 584.3L987.6 583.3L987.9 582.3L988.2 581.4L988.5 580.4L988.8 579.5L989.1 578.5L989.4 577.6L989.7 576.6L990 575.6L990.3 574.7L990.6 573.7L990.9 572.8L991.2 571.8L991.5 570.8L991.8 569.9L992.1 568.9L992.4 568L992.7 567L993 566.1L993.3 565.1L993.6 564.1L993.9 563.2L994.1 562.2L994.4 561.3L994.7 560.3L995 559.3L995.3 558.4L995.6 557.4L995.9 556.5L996.2 555.5L996.5 554.5L996.8 553.6L997.1 552.6L997.3 551.7L997.6 550.7L997.9 549.7L998.2 548.8L998.5 547.8L998.8 546.9L999.1 545.9L999.4 544.9L999.7 544L999.9 543L1000.2 542.1L1000.5 541.1L1000.8 540.1L1001.1 539.2L1001.4 538.2L1001.7 537.2L1001.9 536.3L1002.2 535.3L1002.5 534.4L1002.8 533.4L1003.1 532.4L1003.4 531.5L1003.7 530.5L1003.9 529.6L1004.2 528.6L1004.5 527.6L1004.8 526.7L1005.1 525.7L1005.4 524.8L1005.7 523.8L1005.9 522.8L1006.2 521.9L1006.5 520.9L1006.8 519.9L1007.1 519L1007.4 518L1007.7 517.1L1008 516.1L1008.2 515.1L1008.5 514.2L1008.8 513.2L1009.1 512.3L1009.4 511.3L1009.7 510.3L1010 509.4L1010.3 508.4L1010.5 507.5L1010.8 506.5L1011.1 505.6L1011.4 504.6L1011.7 503.6L1012 502.7L1012.3 501.7L1012.6 500.8L1012.9 499.8L1013.2 498.8L1013.5 497.9L1013.8 496.9L1014 496L1014.3 495L1014.6 494.1L1014.9 493.1L1015.2 492.1L1015.5 491.2L1015.8 490.2L1016.1 489.3L1016.4 488.3L1016.7 487.4L1017 486.4L1017.3 485.5L1017.6 484.5L1017.9 483.6L1018.2 482.6L1018.5 481.6L1018.8 480.7L1019.1 479.7L1019.4 478.8L1019.7 477.8L1020 476.9L1020.3 475.9L1020.6 475L1021 474L1021.3 473.1L1021.6 472.1L1021.9 471.2L1022.2 470.2L1022.5 469.3L1022.8 468.3L1023.1 467.4L1023.4 466.4L1023.8 465.5L1024.1 464.5L1024.4 463.6L1024.7 462.6L1025 461.7L1025.3 460.7L1025.7 459.8L1026 458.9L1026.3 457.9L1026.6 457L1027 456L1027.3 455.1L1027.6 454.1L1027.9 453.2L1028.3 452.2L1028.6 451.3L1028.9 450.4L1029.3 449.4L1029.6 448.5L1029.9 447.5L1030.3 446.6L1030.6 445.7L1030.9 444.7L1031.3 443.8L1031.6 442.8L1031.9 441.9L1032.3 441L1032.6 440L1033 439.1L1033.3 438.2L1033.7 437.2L1034 436.3L1034.4 435.4L1034.7 434.4L1035.1 433.5L1035.4 432.5L1035.8 431.6L1036.1 430.7L1036.5 429.8L1036.8 428.8L1037.2 427.9L1037.6 427L1037.9 426L1038.3 425.1L1038.7 424.2L1039 423.2L1039.4 422.3L1039.8 421.4L1040.1 420.5L1040.5 419.5L1040.9 418.6L1041.3 417.7L1041.6 416.8L1042 415.8L1042.4 414.9L1042.8 414L1043.2 413.1L1043.5 412.2L1043.9 411.2L1044.3 410.3L1044.7 409.4L1045.1 408.5L1045.5 407.6L1045.9 406.7L1046.3 405.7L1046.7 404.8L1047.1 403.9L1047.5 403L1047.9 402.1L1048.3 401.2L1048.7 400.3L1049.1 399.3L1049.5 398.4L1049.9 397.5L1050.3 396.6L1050.8 395.7L1051.2 394.8L1051.6 393.9L1052 393L1052.4 392.1L1052.9 391.2L1053.3 390.3L1053.7 389.4L1054.2 388.5L1054.6 387.6L1055 386.7L1055.5 385.8L1055.9 384.9L1056.3 384L1056.8 383.1L1057.2 382.2L1057.7 381.3L1058.1 380.4L1058.6 379.5L1059 378.6L1059.5 377.7L1059.9 376.8L1060.4 375.9L1060.9 375L1061.3 374.1L1061.8 373.2L1062.3 372.3L1062.7 371.5L1063.2 370.6L1063.7 369.7L1064.1 368.8L1064.6 367.9L1065.1 367L1065.6 366.2L1066.1 365.3L1066.6 364.4L1067.1 363.5L1067.5 362.6L1068 361.8L1068.5 360.9L1069 360L1069.5 359.1L1070 358.3L1070.5 357.4L1071.1 356.5L1071.6 355.6L1072.1 354.8L1072.6 353.9L1073.1 353L1073.6 352.2L1074.2 351.3L1074.7 350.4L1075.2 349.6L1075.7 348.7L1076.3 347.8L1076.8 347L1077.4 346.1L1077.9 345.2L1078.4 344.4L1079 343.5L1079.5 342.7L1080.1 341.8L1080.6 341L1081.2 340.1L1081.8 339.3L1082.3 338.4L1082.9 337.5L1083.4 336.7L1084 335.8L1084.6 335L1085.2 334.2L1085.7 333.3L1086.3 332.5L1086.9 331.6L1087.5 330.8L1088.1 329.9L1088.7 329.1L1089.3 328.3L1089.9 327.4L1090.5 326.6L1091.1 325.8L1091.7 325L1092.3 324.2L1092.9 323.4L1093.6 322.5L1094.2 321.7L1094.8 321L1095.5 320.2L1096.1 319.4L1096.8 318.6L1097.4 317.8L1098.1 317.1L1098.7 316.3L1099.4 315.5L1100.1 314.8L1100.7 314L1101.4 313.3L1102.1 312.6L1102.8 311.9L1103.5 311.2L1104.2 310.5L1104.9 309.8L1105.6 309.1L1106.3 308.4L1107.1 307.7L1107.8 307.1L1108.5 306.4L1109.3 305.8L1110 305.2L1110.8 304.5L1111.5 303.9L1112.3 303.3L1113.1 302.8L1113.9 302.2L1114.7 301.6L1115.5 301.1L1116.3 300.5L1117.1 300L1117.9 299.5L1118.7 299L1119.6 298.5L1120.4 298L1121.3 297.6L1122.1 297.1L1123 296.7L1123.9 296.3L1124.7 295.9L1125.6 295.5L1126.5 295.1L1127.4 294.7L1128.3 294.4L1129.2 294L1130.1 293.7L1131 293.4L1131.9 293.1L1132.8 292.8L1133.7 292.5L1134.7 292.3L1135.6 292L1136.5 291.8L1137.4 291.6L1138.4 291.4L1139.3 291.2L1140.2 291L1141.2 290.8L1142.1 290.7L1143.1 290.6L1144 290.5L1145 290.4L1145.9 290.3L1146.9 290.2L1147.8 290.2L1148.7 290.1L1149.7 290.1L1150.6 290.1L1151.6 290.1L1152.5 290.1L1153.5 290.2L1154.4 290.2L1155.3 290.3L1156.3 290.4L1157.2 290.5L1158.2 290.6L1159.1 290.7L1160 290.8L1161 291L1161.9 291.1L1162.8 291.3L1163.8 291.5L1164.7 291.7L1165.6 291.9L1166.6 292.2L1167.5 292.4L1168.4 292.7L1169.3 292.9L1170.3 293.2L1171.2 293.5L1172.1 293.8L1173 294.1L1173.9 294.4L1174.9 294.7L1175.8 295.1L1176.7 295.4L1177.6 295.8L1178.5 296.2L1179.4 296.6L1180.3 297L1181.3 297.4L1182.2 297.8L1183.1 298.2L1184 298.6L1184.9 299L1185.8 299.5L1186.7 299.9L1187.6 300.4L1188.5 300.9L1189.4 301.3L1190.3 301.8L1191.2 302.3L1192.1 302.8L1193 303.3L1193.9 303.8L1194.8 304.3L1195.6 304.9L1196.5 305.4L1197.4 305.9L1198.3 306.5L1199.2 307L1200.1 307.6L1201 308.1L1201.8 308.7L1202.7 309.2L1203.6 309.8L1204.5 310.4L1205.3 311L1206.2 311.5L1207.1 312.1L1207.9 312.7L1208.8 313.3L1209.7 313.9L1210.5 314.5L1211.4 315.1L1212.3 315.7L1213.1 316.3L1214 316.9L1214.8 317.5L1215.7 318.1L1216.5 318.7L1217.4 319.3L1218.2 319.9L1219.1 320.6L1219.9 321.2L1220.8 321.8L1221.6 322.4L1222.5 323L1223.3 323.6L1224.1 324.2L1225 324.9L1225.8 325.5L1226.6 326.1L1227.5 326.7L1228.3 327.3L1229.1 327.9L1230 328.5L1230.8 329.2L1231.6 329.8L1232.4 330.4L1233.3 331L1234.1 331.6L1234.9 332.2L1235.7 332.9L1236.5 333.5L1237.3 334.1L1238.1 334.7L1239 335.3L1239.8 335.9L1240.6 336.6L1241.4 337.2L1242.2 337.8L1243 338.4L1243.8 339L1244.6 339.6L1245.4 340.2L1246.2 340.9L1247 341.5L1247.8 342.1L1248.6 342.7L1249.4 343.3L1250.2 343.9L1251 344.6L1251.8 345.2L1252.5 345.8L1253.3 346.4L1254.1 347L1254.9 347.6L1255.7 348.3L1256.5 348.9L1257.3 349.5L1258.1 350.1L1258.8 350.7L1259.6 351.4L1260.4 352L1261.2 352.6L1262 353.2L1262.7 353.8L1263.5 354.4L1264.3 355.1L1265.1 355.7L1265.8 356.3L1266.6 356.9L1267.4 357.5L1268.2 358.1L1268.9 358.8L1269.7 359.4L1270.5 360L1271.3 360.6L1272 361.2L1272.8 361.9L1273.6 362.5L1274.3 363.1L1275.1 363.7L1275.9 364.3L1276.7 365L1277.4 365.6L1278.2 366.2L1279 366.8L1279.7 367.4L1280.5 368L1281.3 368.7L1282 369.3L1282.8 369.9L1283.5 370.5L1284.3 371.1L1285.1 371.8L1285.8 372.4L1286.6 373L1287.4 373.6L1288.1 374.2L1288.9 374.9L1289.7 375.5L1290.4 376.1L1291.2 376.7L1291.9 377.3L1292.7 378L1293.5 378.6L1294.2 379.2L1295 379.8L1295.8 380.4L1296.5 381.1L1297.3 381.7L1298.1 382.3L1298.8 382.9L1299.6 383.5L1300.3 384.2L1301.1 384.8L1301.9 385.4L1302.6 386L1303.4 386.6L1304.2 387.3L1304.9 387.9L1305.7 388.5L1306.5 389.1L1307.2 389.7L1308 390.4L1308.8 391L1309.5 391.6L1310.3 392.2L1311.1 392.8L1311.8 393.5L1312.6 394.1L1313.4 394.7L1314.1 395.3L1314.9 395.9L1315.7 396.6L1316.4 397.2L1317.2 397.8L1318 398.4L1318.8 399L1319.5 399.7L1320.3 400.3L1321.1 400.9L1321.9 401.5L1322.6 402.2L1323.4 402.8L1324.2 403.4L1325 404L1325.7 404.6L1326.5 405.3L1327.3 405.9L1328.1 406.5L1328.9 407.1L1329.6 407.7L1330.4 408.4L1331.2 409L1332 409.6L1332.8 410.2L1333.6 410.9L1334.4 411.5L1335.1 412.1L1335.9 412.7L1336.7 413.3L1337.5 414L1338.3 414.6L1339.1 415.2L1339.9 415.8L1340.7 416.5L1341.5 417.1L1342.3 417.7L1343.1 418.3L1343.9 418.9L1344.7 419.6L1345.5 420.2L1346.3 420.8L1347.1 421.4L1347.9 422.1L1348.7 422.7L1349.5 423.3L1350.4 423.9L1351.2 424.5L1352 425.2L1352.8 425.8L1353.6 426.4L1354.4 427L1355.2 427.7L1356.1 428.3L1356.9 428.9L1357.7 429.5L1358.5 430.1L1359.4 430.8L1360.2 431.4L1361 432L1361.9 432.6L1362.7 433.3L1363.5 433.9L1364.4 434.5L1365.2 435.1L1366 435.7L1370.2 443.4L1371 444L1371.8 444.6L1372.6 445.2L1373.4 445.8L1374.3 446.4L1375.1 447L1375.9 447.6L1376.7 448.2L1377.5 448.8L1378.3 449.3L1379.2 449.9L1380 450.5L1380.8 451.1L1381.6 451.6L1382.5 452.2L1383.3 452.8L1384.1 453.3L1385 453.9L1385.8 454.5L1386.6 455L1387.5 455.6L1388.3 456.1L1389.2 456.7L1390 457.2L1390.8 457.7L1391.7 458.3L1392.5 458.8L1393.4 459.3L1394.2 459.9L1395.1 460.4L1395.9 460.9L1396.8 461.4L1397.7 462L1398.5 462.5L1399.4 463L1400 462.9L1400.7 463.4L1401.4 464L1402.1 465.3L1402.8 465.7L1403.5 465.8L1404.1 466L1404.8 466.8L1405.5 467.1L1406.2 467.4L1406.9 468.1L1407.6 468.5L1408.3 468.7L1409 467.8L1409.7 469.6L1410.4 469.1L1411 469.3L1411.7 469.7L1412.4 470.3L1413.1 470.1L1413.8 471L1414.5 472.3L1415.2 471.2L1415.9 472.3L1416.6 472.4L1417.3 473L1417.9 472.8L1418.6 473.5L1419.3 474L1420 474.4L1420.7 475.2L1421.4 475.4L1422.1 476.1L1422.8 475.1L1423.5 476L1424.2 476.5L1424.8 477.8L1425.5 476.7L1426.2 477L1426.9 477.9L1427.6 478.7L1428.3 477.8L1429 478.1L1429.7 479.1L1430.4 479.6L1431.1 479.6L1431.7 479.7L1432.4 479.8L1433.1 480.1L1433.8 483.3L1434.5 481.7L1435.2 482.7L1435.9 482L1436.6 483.1L1437.3 482.6L1438 482.6L1438.6 484.2L1439.3 484.5L1440 483.9L1440.7 484.3L1441.4 484.1L1442.1 484.6L1442.8 484.8L1443.5 486.1L1444.2 485.2L1444.9 487.2L1445.5 485.9L1446.2 488.1L1446.9 487.7L1447.6 488.8L1448.3 489L1449 488L1449.7 487.7L1450.4 487.9L1451.1 489.1L1451.8 489.4L1452.4 490.5L1453.1 491L1453.8 489.3L1454.5 490.1L1455.2 490.6L1455.9 492.4L1456.6 491.5L1457.3 490.8L1458 493.1L1458.7 492.8L1459.3 493.5L1460 491.6L1460.7 494.1L1461.4 494.5L1462.1 494.7L1462.8 494.5L1463.5 495.4L1464.2 495.5L1464.9 495.1L1465.6 496.2L1466.2 496.2L1466.9 494.9L1467.6 495.8L1468.3 498L1469 496.7L1469.7 496.5L1470.4 498.1L1471.1 498.1L1471.8 497.3L1472.5 497.4L1473.1 498.5L1473.8 499.5L1474.5 498.4L1475.2 500.3L1475.9 500.2L1476.6 499.9L1477.3 501L1478 499.6L1478.7 501L1479.4 502.3L1480 503.2L1480.7 502.5L1481.4 502L1482.1 501.4L1482.8 502.7L1483.5 503.5L1484.2 502L1484.9 502.4L1485.6 505.1L1486.3 504L1486.9 503.5L1487.6 506L1488.3 505.3L1489 505.4L1489.7 504.8L1490.4 504.7L1491.1 506.8L1491.8 505.8L1492.5 507.8L1493.2 506.9L1493.8 507.8L1494.5 507.3L1495.2 507.9L1495.9 506.9L1496.6 509L1497.3 507.3L1498 507.6L1498.7 510.3L1499.4 510.8L1500.1 510.1L1500.7 510.2L1501.4 508.9L1502.1 511.6L1502.8 510L1503.5 512L1504.2 511.4L1504.9 511L1505.6 512.4L1506.3 511.2L1507 511.9L1507.6 511.9L1508.3 512L1509 511.3L1509.7 514.3L1510.4 512.7L1511.1 513L1511.8 513.2L1512.5 512.8L1513.2 514.9L1513.9 515.4L1514.5 516.2L1515.2 514.6L1515.9 514.7L1516.6 515.6L1517.3 514.4L1518 514.9L1518.7 517.3L1519.4 516.3L1520.1 517.7L1520.8 516.2L1521.4 518.4L1522.1 516.7L1522.8 519.2L1523.5 517.8L1524.2 518L1524.9 517L1525.6 518.1L1526.3 520.3L1527 516.4L1527.7 517.9L1528.3 518.6L1529 518.3L1529.7 521.7L1530.4 518.9L1531.1 518.9L1531.8 520L1532.5 522.5L1533.2 522.9L1533.9 521.4L1534.6 520.6L1535.2 520.6L1535.9 522.2L1536.6 521.6L1537.3 521.6L1538 523.1L1538.7 524.2L1539.4 522.5L1540.1 523.2L1540.8 523.8L1541.5 522.4L1542.1 524.6L1542.8 524.2L1543.5 522.4L1544.2 525.6L1544.9 525.6L1545.6 524.8L1546.3 523.4L1547 524.4L1547.7 525.2L1548.4 525.9L1549 525.8L1549.7 524.2L1550.4 526.7L1551.1 527.7L1551.8 524.3L1552.5 525.8L1553.2 524.9L1553.9 526.2L1554.6 526.1L1555.3 527.7L1555.9 525.4L1556.6 527.5L1557.3 526.9L1558 527.4L1558.7 525.6L1559.4 526.6L1560.1 529.3L1560.8 528.9L1561.5 526.7L1562.2 529.3L1562.8 528.9L1563.5 529.1L1564.2 528.6L1564.9 526.4L1565.6 527.5L1566.3 527.3L1567 529.7L1567.7 528.2L1568.4 528.4L1569.1 529L1569.7 530.5L1570.4 528L1571.1 530.1L1571.8 528.4L1572.5 529.6L1573.2 530.6L1573.9 527.9L1574.6 528.9L1575.3 528.2L1576 529.9L1576.6 529.5L1577.3 526.5L1578 526.4L1578.7 526.4L1579.4 529.7L1580.1 529.5L1580.8 530.1L1581.5 529.6L1582.2 528.8L1582.9 526.3L1583.5 526L1584.2 527L1584.9 528.8L1585.6 526.5L1586.3 527L1587 525.7L1587.7 529.1L1588.4 529.4L1589.1 529.8L1589.8 528.3L1590.4 528.5L1591.1 525.2L1591.8 525.8L1592.5 523.5L1593.2 525.6L1593.9 528.9L1594.6 526L1595.3 525.9L1596 527.9L1596.7 529L1597.3 525.3L1598 527.2L1598.7 526.1L1599.4 528L1600.1 527.3L1600.8 524.9L1601.5 525.8L1602.2 525.3L1602.9 527.8L1603.6 526.4L1604.2 529.2L1604.9 529.2L1605.6 526.3L1606.3 526.9L1607 526.5L1607.7 527.9L1608.4 528L1609.1 528.7L1609.8 528.3L1610.5 529.1L1611.1 527.1L1611.8 532.7L1612.5 527.1L1613.2 528.8L1613.9 529.9L1614.6 528.9L1615.3 531.3L1616 527.7L1616.7 532.3L1617.4 530.7L1618 531.3L1618.7 532.6L1619.4 531.5L1620.1 532.3L1620.8 531.7L1621.5 532L1622.2 533.7L1622.9 531L1623.6 533.6L1624.3 534.1L1624.9 531.6L1625.6 530.7L1626.3 531.6L1627 531.1L1627.7 534.5L1628.4 530.5L1629.1 530.9L1629.8 535.4L1630.5 530.9L1631.2 531.9L1631.8 531.8L1632.5 532.2L1633.2 531.6L1633.9 532.8L1634.6 534.8L1635.3 531.1L1636 532.4L1636.7 533.5L1637.4 534.5L1638.1 533.3L1638.7 534.5L1639.4 534.9L1640.1 532.1L1640.8 533.8L1641.5 536.1L1642.2 535.2L1642.9 535.4L1643.6 533L1644.3 533.2L1645 535.1L1645.6 532.2L1646.3 535.7L1647 534.7L1647.7 533.9L1648.4 534.9L1649.1 532.9L1649.8 537.5L1650.5 532.8L1651.2 533.8L1651.9 534.1L1652.5 536.1L1653.2 536.4L1653.9 533.6L1654.6 536.9L1655.3 536.7L1656 533.5L1656.7 533.3L1657.4 534L1658.1 533.9L1658.8 532.4L1659.4 535.6L1660.1 532.6L1660.8 532.6L1661.5 530L1662.2 534.1L1662.9 534.6L1663.6 535.2L1664.3 530.9L1665 533.4L1665.7 533.9L1666.3 531.6L1667 534.1L1667.7 535.1L1668.4 530.9L1669.1 532.2L1669.8 529.8L1670.5 529.7L1671.2 532.3L1671.9 530.9L1672.6 533.9L1673.2 532.2L1673.9 528.3L1674.6 529.1L1675.3 531.4L1676 531.8L1676.7 528.8L1677.4 530.3L1678.1 531.9L1678.8 530.3L1679.5 528.8L1680.1 529.5L1680.8 529.8L1681.5 529.4L1682.2 528.9L1682.9 528.8L1683.6 526.2L1684.3 530.5L1685 530.4L1685.7 528.5L1686.4 526.3L1687 526.1L1687.7 528.9L1688.4 525.9L1689.1 527.7L1689.8 526.9L1690.5 527.1L1691.2 524.9L1691.9 528.6L1692.6 524.7L1693.3 524.1L1693.9 523.4L1694.6 526.5L1695.3 523.1L1696 525.9L1696.7 526.2L1697.4 526.7L1698.1 525.1L1698.8 522.6L1699.5 525.6L1700.2 524.5L1700.8 524.6L1701.5 519.6L1702.2 519.2L1702.9 523.3L1703.6 520.9L1704.3 518.3L1705 520.7L1705.7 518.5L1706.4 521L1707.1 522.5L1707.7 521.9L1708.4 520.9L1709.1 519L1709.8 522.4L1710.5 519.5L1711.2 519.6L1711.9 516L1712.6 519.5L1713.3 515.2L1714 519L1714.6 519.4L1715.3 519.4L1716 517.8L1716.7 519.5L1717.4 516.9L1718.1 513.2L1718.8 518.8L1719.5 513L1720.2 516.7L1720.9 515.4L1721.5 516L1722.2 512.8L1722.9 512.6L1723.6 515.2L1724.3 515.3L1725 515.3L1725.7 512.4L1726.4 513.2L1727.1 515.8L1727.8 514.1L1728.4 516.5L1729.1 512.3L1729.8 514.6L1730.5 509.3L1731.2 514.5L1731.9 512.9L1732.6 509.5L1733.3 514L1734 511.9L1734.7 511.8L1735.3 509.3L1736 511L1736.7 507.8L1737.4 511.7L1738.1 511.4L1738.8 511.9L1739.5 513L1740.2 508.2L1740.9 512.7L1741.6 508.3L1742.2 509.3L1742.9 510.4L1743.6 512.6L1744.3 505.7L1745 506.7L1745.7 506.9L1746.4 512.5L1747.1 510.2L1747.8 511.2L1748.5 510.4L1749.1 510.5L1749.8 506.8L1750.5 508.8L1751.2 507.1L1751.9 509.9L1752.6 509.7L1753.3 515.9L1754 512.4L1754.7 510.8L1755.4 508.4L1756 507.1L1756.7 512.4L1757.4 506L1758.1 511.6L1758.8 505.4L1759.5 505.1L1760.2 508.6L1760.9 506.6L1761.6 511.4L1762.3 510.9L1762.9 507.4L1763.6 511.1L1764.3 507.7L1765 504.3L1765.7 510.3L1766.4 505.2L1767.1 507.1L1767.8 510.2L1768.5 508.2L1769.2 509.2L1769.8 506.9L1770.5 503L1771.2 510.5L1771.9 510.3L1772.6 505.3L1773.3 511.1L1774 508.2L1774.7 508.2L1775.4 503L1776.1 507.4L1776.7 507.5L1777.4 507.5L1778.1 504L1778.8 505.1L1779.5 510L1780.2 509.6L1780.9 503.1L1781.6 506.8L1782.3 505.4L1783 510.7L1783.6 502.4L1784.3 502.6L1785 504.3L1785.7 506.8L1786.4 509L1787.1 506.3L1787.8 504.1L1788.5 502.5L1789.2 509.2L1789.9 504.1L1790.5 501.4L1791.2 506.1L1791.9 501.7L1792.6 501.2L1793.3 504.6L1794 506.3L1794.7 503.5L1795.4 506.5L1796.1 504.8L1796.8 501.9L1797.4 503.6L1798.1 512.4L1798.8 504.1L1799.5 506.5L1800.2 509.3L1800.9 506.9L1801.6 507.5L1802.3 507.6L1803 508.3L1803.7 508.2L1804.3 507.6L1805 501.1L1805.7 500.4L1806.4 501.6L1807.1 507.5L1807.8 507.4L1808.5 506L1809.2 507.6L1809.9 500.1L1810.6 503.9L1811.2 501.2L1811.9 501.5L1812.6 504.6L1813.3 502.4L1814 506.5L1814.7 506.4L1815.4 506.4L1816.1 504.9L1816.8 498.4L1817.5 502.1L1818.1 506.3L1818.8 513.6L1819.5 504.1L1820.2 501.5L1820.9 503.2L1821.6 507.6L1822.3 504.1L1823 498L1823.7 497.3L1824.4 501.9L1825 498.9L1825.7 506.9L1826.4 503L1827.1 504.8L1827.8 497.2L1828.5 498.3L1829.2 497.6L1829.9 503.3L1830.6 498.4L1831.3 505.2L1831.9 498.8L1832.6 498.9L1833.3 503.1L1834 499.5L1834.7 505.2L1835.4 503.4L1836.1 494.7L1836.8 500L1837.5 500.9L1838.2 497.6L1838.8 501.3L1839.5 499.9L1840.2 501.6L1840.9 494.3L1841.6 505.5L1842.3 500.6L1843 499.6L1843.7 501.1L1844.4 496L1845.1 497.7L1845.7 504.9L1846.4 499.7L1847.1 501.5L1847.8 495.8L1848.5 502.1L1849.2 495.4L1849.9 493L1850.6 498.4L1851.3 498L1852 493.6L1852.6 493.7L1853.3 495.7L1854 493L1854.7 503.2L1855.4 498.6L1856.1 500.5L1856.8 502.7L1857.5 498.1L1858.2 497.3L1858.9 498.1L1859.5 491.7L1860.2 499.8L1860.9 487.9L1861.6 493.8L1862.3 499.9L1863 493.8L1863.7 499.1L1864.4 497.1L1865.1 501.7L1865.8 497.6L1866.4 497.5L1867.1 500L1867.8 500.9L1868.5 492.5L1869.2 488.3L1869.9 492L1870.6 487.1L1871.3 499L1872 484.2L1872.7 488.3L1873.3 496.5L1874 490L1874.7 485.1L1875.4 493.6L1876.1 492.4L1876.8 495.1L1877.5 491.8L1878.2 480.6L1878.9 487.8L1879.6 486.2L1880.2 482.3L1880.9 495.7L1881.6 479L1882.3 486.4L1883 491.1L1883.7 480.3L1884.4 492.4L1885.1 484.2L1885.8 495.5L1886.5 494L1887.1 501.4L1887.8 485.7L1888.5 492.1L1889.2 489.8L1889.9 488.8L1890.6 476L1891.3 483.5L1892 475.3L1892.7 476.4L1893.4 487.5L1894 477.1L1894.7 478.8L1895.4 477.1L1896.1 481.9L1896.8 482.3L1897.5 477.4L1898.2 495.1L1898.9 474.3L1899.6 484.1L1900.3 483.7L1900.9 491.5L1901.6 482.9L1902.3 487.3L1903 475.2L1903.7 482.8L1904.4 496.4L1905.1 492L1905.8 475.4L1906.5 482.5L1907.2 478L1907.8 483.5L1908.5 485.7L1909.2 493L1909.9 482.4L1910.6 470.9L1911.3 474L1912 471.6L1912.7 473L1913.4 491.6L1914.1 491.7L1914.7 474.5L1915.4 467L1916.1 480.6L1916.8 470.8L1917.5 472.1L1918.2 491.1L1918.9 477.3L1919.6 483.5L1920.3 493.6L1921 486.8L1921.6 471.4L1922.3 485.1L1923 474.6L1923.7 476.9L1924.4 489.3L1925.1 462.8L1925.8 479.5L1926.5 491L1927.2 470.4L1927.9 481.8L1928.5 485.4L1929.2 467.6L1929.9 464.7L1930.6 478.3L1931.3 469.6L1932 478L1932.7 468.2L1933.4 485.4L1934.1 480.6L1934.8 490.6L1935.4 486.1L1936.1 473.8L1936.8 472.3L1937.5 487L1938.2 480.1L1938.9 467.5L1939.6 473.6L1940.3 491L1941 474.1L1941.7 487.8L1942.3 478.3L1943 465.6L1943.7 483.6L1944.4 470.7L1945.1 476.6L1945.8 491.6L1946.5 467.9L1947.2 467.1L1947.9 461.8L1948.6 471.3L1949.2 461.3L1949.9 489.8L1950.6 487.7L1951.3 489.6L1952 476.1L1952.7 465.6L1953.4 464.4L1954.1 460.1L1954.8 475L1955.5 466.9L1956.1 482.9L1956.8 485.2L1957.5 494.2L1958.2 474.3L1958.9 472.2L1959.6 491.1L1960.3 493.1L1961 487.4L1961.7 463.8L1962.4 481.9L1963 471.1L1963.7 483.2L1964.4 488L1965.1 493L1965.8 479.7L1966.5 466.5L1967.2 486.4L1967.9 482.9L1968.6 478.8L1969.3 471.6L1969.9 474L1970.6 461L1971.3 495.2L1972 460.9L1972.7 465.9L1973.4 463.8L1974.1 467.5L1974.8 466.4L1975.5 477.9L1976.2 491.9L1976.8 459L1977.5 473.1L1978.2 491.7L1978.9 480.4L1979.6 471.3L1980.3 465L1981 487.9L1981.7 494.8L1982.4 476L1983.1 494.3L1983.7 461.7L1984.4 487.5L1985.1 514L1985.8 501.7L1986.5 494.5L1987.2 474.3L1987.9 461.2L1988.6 472L1989.3 474.2L1990 470.3"/>
<path stroke="#FF00FF" d="M548 1181.1L549.1 1181.1L550.1 1181.1L551.1 1181.1L552.1 1181.1L553.2 1181.1L554.2 1181.1L555.2 1181.1L556.2 1181.1L557.3 1181.1L558.3 1181L559.3 1181L560.3 1181L561.4 1180.9L562.4 1180.9L563.4 1180.8L564.4 1180.7L565.4 1180.7L566.5 1180.6L567.5 1180.5L568.5 1180.4L569.5 1180.3L570.5 1180.3L571.5 1180.2L572.6 1180.1L573.6 1179.9L574.6 1179.8L575.6 1179.7L576.6 1179.6L577.6 1179.5L578.6 1179.3L579.6 1179.2L580.6 1179L581.6 1178.9L582.6 1178.7L583.6 1178.6L584.6 1178.4L585.6 1178.2L586.6 1178.1L587.6 1177.9L588.6 1177.7L589.6 1177.5L590.6 1177.3L591.6 1177.1L592.6 1176.9L593.6 1176.7L594.6 1176.5L595.6 1176.2L596.5 1176L597.5 1175.8L598.5 1175.6L599.5 1175.3L600.5 1175.1L601.5 1174.8L602.4 1174.6L603.4 1174.3L604.4 1174L605.4 1173.8L606.3 1173.5L607.3 1173.2L608.3 1172.9L609.2 1172.7L610.2 1172.4L611.2 1172.1L612.1 1171.8L613.1 1171.5L614 1171.1L615 1170.8L615.9 1170.5L616.9 1170.2L617.9 1169.9L618.8 1169.5L619.7 1169.2L620.7 1168.8L621.6 1168.5L622.6 1168.1L623.5 1167.8L624.5 1167.4L625.4 1167.1L626.3 1166.7L627.3 1166.3L628.2 1165.9L629.1 1165.6L630 1165.2L631 1164.8L631.9 1164.4L632.8 1164L633.7 1163.6L634.6 1163.2L635.6 1162.7L636.5 1162.3L637.4 1161.9L638.3 1161.5L639.2 1161.1L640.1 1160.6L641 1160.2L641.9 1159.7L642.8 1159.3L643.7 1158.8L644.6 1158.4L645.5 1157.9L646.4 1157.5L647.2 1157L648.1 1156.5L649 1156L649.9 1155.6L650.8 1155.1L651.6 1154.6L652.5 1154.1L653.4 1153.6L654.2 1153.1L655.1 1152.6L656 1152.1L656.8 1151.6L657.7 1151.1L658.5 1150.5L659.4 1150L660.2 1149.5L661.1 1148.9L661.9 1148.4L662.7 1147.9L663.6 1147.3L664.4 1146.8L665.2 1146.2L666.1 1145.7L666.9 1145.1L667.7 1144.6L668.5 1144L669.4 1143.4L670.2 1142.8L671 1142.3L671.8 1141.7L672.6 1141.1L673.4 1140.5L674.2 1139.9L675 1139.3L675.8 1138.7L676.6 1138.1L677.4 1137.5L678.1 1136.9L678.9 1136.3L679.7 1135.7L680.5 1135.1L681.2 1134.4L682 1133.8L682.8 1133.2L683.5 1132.5L684.3 1131.9L685 1131.3L685.8 1130.6L686.6 1130L687.3 1129.3L688 1128.7L688.8 1128L689.5 1127.3L690.3 1126.7L691 1126L691.7 1125.3L692.4 1124.7L693.2 1124L693.9 1123.3L694.6 1122.6L695.3 1121.9L696 1121.2L696.7 1120.5L697.4 1119.9L698.2 1119.2L698.9 1118.4L699.5 1117.7L700.2 1117L700.9 1116.3L701.6 1115.6L702.3 1114.9L703 1114.2L703.7 1113.5L704.4 1112.7L705 1112L705.7 1111.3L706.4 1110.5L707 1109.8L707.7 1109.1L708.4 1108.3L709 1107.6L709.7 1106.8L710.3 1106.1L711 1105.3L711.6 1104.6L712.3 1103.8L712.9 1103.1L713.5 1102.3L714.2 1101.5L714.8 1100.8L715.4 1100L716.1 1099.2L716.7 1098.5L717.3 1097.7L717.9 1096.9L718.6 1096.1L719.2 1095.3L719.8 1094.6L720.4 1093.8L721 1093L721.6 1092.2L722.2 1091.4L722.8 1090.6L723.4 1089.8L724 1089L724.6 1088.2L725.2 1087.4L725.8 1086.6L726.3 1085.8L726.9 1085L727.5 1084.1L728.1 1083.3L728.6 1082.5L729.2 1081.7L729.8 1080.9L730.4 1080L730.9 1079.2L731.5 1078.4L732 1077.6L732.6 1076.7L733.1 1075.9L733.7 1075.1L734.2 1074.2L734.8 1073.4L735.3 1072.6L735.9 1071.7L736.4 1070.9L736.9 1070L737.5 1069.2L738 1068.3L738.5 1067.5L739.1 1066.6L739.6 1065.8L740.1 1064.9L740.6 1064.1L741.1 1063.2L741.7 1062.4L742.2 1061.5L742.7 1060.6L743.2 1059.8L743.7 1058.9L744.2 1058.1L744.7 1057.2L745.2 1056.3L745.7 1055.5L746.2 1054.6L746.7 1053.7L747.2 1052.8L747.7 1052L748.1 1051.1L748.6 1050.2L749.1 1049.3L749.6 1048.5L750.1 1047.6L750.5 1046.7L751 1045.8L751.5 1044.9L752 1044.1L752.4 1043.2L752.9 1042.3L753.4 1041.4L753.8 1040.5L754.3 1039.6L754.7 1038.7L755.2 1037.8L755.6 1036.9L756.1 1036L756.5 1035.1L757 1034.2L757.4 1033.3L757.9 1032.4L758.3 1031.5L758.8 1030.6L759.2 1029.7L759.6 1028.8L760.1 1027.9L760.5 1027L761 1026.1L761.4 1025.2L761.8 1024.3L762.2 1023.4L762.7 1022.5L763.1 1021.6L763.5 1020.7L763.9 1019.8L764.4 1018.8L764.8 1017.9L765.2 1017L765.6 1016.1L766 1015.2L766.5 1014.3L766.9 1013.3L767.3 1012.4L767.7 1011.5L768.1 1010.6L768.5 1009.7L768.9 1008.7L769.3 1007.8L769.7 1006.9L770.1 1006L770.5 1005.1L770.9 1004.1L771.3 1003.2L771.7 1002.3L772.1 1001.4L772.5 1000.4L772.9 999.5L773.3 998.6L773.7 997.6L774.1 996.7L774.5 995.8L774.9 994.8L775.3 993.9L775.6 993L776 992.1L776.4 991.1L776.8 990.2L777.2 989.3L777.6 988.3L777.9 987.4L778.3 986.5L778.7 985.5L779.1 984.6L779.5 983.6L779.8 982.7L780.2 981.8L780.6 980.8L781 979.9L781.3 979L781.7 978L782.1 977.1L782.5 976.1L782.8 975.2L783.2 974.3L783.6 973.3L783.9 972.4L784.3 971.5L784.7 970.5L785.1 969.6L785.4 968.6L785.8 967.7L786.2 966.8L786.5 965.8L786.9 964.9L787.3 963.9L787.6 963L788 962L788.4 961.1L788.7 960.2L789.1 959.2L789.4 958.3L789.8 957.3L790.2 956.4L790.5 955.5L790.9 954.5L791.3 953.6L791.6 952.6L792 951.7L792.3 950.8L792.7 949.8L793.1 948.9L793.4 947.9L793.8 947L794.2 946L794.5 945.1L794.9 944.2L795.2 943.2L795.6 942.3L796 941.3L796.3 940.4L796.7 939.5L797 938.5L797.4 937.6L797.8 936.6L798.1 935.7L798.5 934.8L798.8 933.8L799.2 932.9L799.6 932L799.9 931L800.3 930.1L800.7 929.1L801 928.2L801.4 927.3L801.7 926.3L802.1 925.4L802.5 924.5L802.8 923.5L803.2 922.6L803.6 921.7L803.9 920.7L804.3 919.8L804.6 918.9L805 917.9L805.4 917L805.7 916L806.1 915.1L806.4 914.2L806.8 913.2L807.2 912.3L807.5 911.4L807.9 910.4L808.3 909.5L808.6 908.6L809 907.6L809.3 906.7L809.7 905.8L810.1 904.8L810.4 903.9L810.8 903L811.1 902L811.5 901.1L811.9 900.2L812.2 899.2L812.6 898.3L812.9 897.4L813.3 896.4L813.7 895.5L814 894.6L814.4 893.6L814.7 892.7L815.1 891.8L815.4 890.9L815.8 889.9L816.2 889L816.5 888.1L816.9 887.1L817.2 886.2L817.6 885.3L817.9 884.3L818.3 883.4L818.7 882.5L819 881.5L819.4 880.6L819.7 879.7L820.1 878.7L820.4 877.8L820.8 876.9L821.1 875.9L821.5 875L821.8 874.1L822.2 873.1L822.5 872.2L822.9 871.3L823.2 870.3L823.6 869.4L823.9 868.5L824.3 867.5L824.6 866.6L825 865.7L825.3 864.7L825.7 863.8L826 862.8L826.4 861.9L826.7 861L827.1 860L827.4 859.1L827.7 858.2L828.1 857.2L828.4 856.3L828.8 855.4L829.1 854.4L829.5 853.5L829.8 852.6L830.1 851.6L830.5 850.7L830.8 849.7L831.2 848.8L831.5 847.9L831.8 846.9L832.2 846L832.5 845.1L832.8 844.1L833.2 843.2L833.5 842.2L833.8 841.3L834.2 840.4L834.5 839.4L834.8 838.5L835.2 837.5L835.5 836.6L835.8 835.7L836.2 834.7L836.5 833.8L836.8 832.8L837.1 831.9L837.5 830.9L837.8 830L838.1 829.1L838.4 828.1L838.8 827.2L839.1 826.2L839.4 825.3L839.7 824.3L840.1 823.4L840.4 822.4L840.7 821.5L841 820.6L841.3 819.6L841.6 818.7L842 817.7L842.3 816.8L842.6 815.8L842.9 814.9L843.2 813.9L843.5 813L843.8 812L844.1 811.1L844.4 810.1L844.7 809.2L845.1 808.2L845.4 807.3L845.7 806.3L846 805.4L846.3 804.4L846.6 803.5L846.9 802.5L847.2 801.6L847.5 800.6L847.8 799.7L848.1 798.7L848.4 797.7L848.7 796.8L849 795.8L849.2 794.9L849.5 793.9L849.8 793L850.1 792L850.4 791L850.7 790.1L851 789.1L851.3 788.2L851.6 787.2L851.8 786.3L852.1 785.3L852.4 784.3L852.7 783.4L853 782.4L853.2 781.4L853.5 780.5L853.8 779.5L854.1 778.5L854.3 777.6L854.6 776.6L854.9 775.7L855.2 774.7L855.4 773.7L855.7 772.8L856 771.8L856.2 770.8L856.5 769.8L856.7 768.9L857 767.9L857.3 766.9L857.5 766L857.8 765L858 764L858.3 763L858.6 762.1L858.8 761.1L859.1 760.1L859.3 759.1L859.6 758.2L859.8 757.2L860.1 756.2L860.3 755.2L860.5 754.3L860.8 753.3L861 752.3L861.3 751.3L861.5 750.3L861.7 749.4L862 748.4L862.2 747.4L862.4 746.4L862.7 745.4L862.9 744.4L863.1 743.5L863.4 742.5L863.6 741.5L864.9 727.7L865.1 726.7L865.4 725.8L865.7 724.9L866 723.9L866.3 723L866.6 722L866.8 721.1L867.1 720.1L867.4 719.2L867.7 718.2L868 717.3L868.2 716.3L868.5 715.4L868.8 714.4L869.1 713.5L869.4 712.5L869.6 711.5L869.9 710.6L870.2 709.6L870.5 708.7L870.7 707.7L871 706.8L871.3 705.8L871.6 704.9L871.8 703.9L872.1 703L872.4 702L872.7 701L872.9 700.1L873.2 699.1L873.5 698.2L873.7 697.2L874 696.3L874.3 695.3L874.6 694.3L874.8 693.4L875.1 692.4L875.4 691.5L875.6 690.5L875.9 689.5L876.2 688.6L876.4 687.6L876.7 686.7L877 685.7L877.2 684.7L877.5 683.8L877.8 682.8L878 681.9L878.3 680.9L878.6 679.9L878.8 679L879.1 678L879.4 677L879.6 676.1L879.9 675.1L880.2 674.2L880.4 673.2L880.7 672.2L881 671.3L881.2 670.3L881.5 669.3L881.8 668.4L882 667.4L882.3 666.4L882.5 665.5L882.8 664.5L883.1 663.5L883.3 662.6L883.6 661.6L883.9 660.6L884.1 659.7L884.4 658.7L884.6 657.7L884.9 656.8L885.2 655.8L885.4 654.8L885.7 653.9L885.9 652.9L886.2 651.9L886.5 651L886.7 650L887 649L887.2 648.1L887.5 647.1L887.8 646.1L888 645.1L888.3 644.2L888.5 643.2L888.8 642.2L889.1 641.3L889.3 640.3L889.6 639.3L889.8 638.4L890.1 637.4L890.4 636.4L890.6 635.4L890.9 634.5L891.1 633.5L891.4 632.5L891.6 631.6L891.9 630.6L892.2 629.6L892.4 628.7L892.7 627.7L892.9 626.7L893.2 625.7L893.5 624.8L893.7 623.8L894 622.8L894.2 621.9L894.5 620.9L894.8 619.9L895 618.9L895.3 618L895.5 617L895.8 616L896.1 615.1L896.3 614.1L896.6 613.1L896.8 612.1L897.1 611.2L897.4 610.2L897.6 609.2L897.9 608.3L898.1 607.3L898.4 606.3L898.7 605.3L898.9 604.4L899.2 603.4L899.4 602.4L899.7 601.5L900 600.5L900.2 599.5L900.5 598.5L900.7 597.6L901 596.6L901.3 595.6L901.5 594.7L901.8 593.7L902.1 592.7L902.3 591.7L902.6 590.8L902.8 589.8L903.1 588.8L903.4 587.9L903.6 586.9L903.9 585.9L904.2 584.9L904.4 584L904.7 583L905 582L905.2 581.1L905.5 580.1L905.8 579.1L906 578.2L906.3 577.2L906.6 576.2L906.8 575.2L907.1 574.3L907.4 573.3L907.6 572.3L907.9 571.4L908.2 570.4L908.4 569.4L908.7 568.5L909 567.5L909.2 566.5L909.5 565.6L909.8 564.6L910.1 563.6L910.3 562.7L910.6 561.7L910.9 560.7L911.1 559.7L911.4 558.8L911.7 557.8L912 556.8L912.2 555.9L912.5 554.9L912.8 553.9L913.1 553L913.3 552L913.6 551.1L913.9 550.1L914.2 549.1L914.4 548.2L914.7 547.2L915 546.2L915.3 545.3L915.6 544.3L915.8 543.3L916.1 542.4L916.4 541.4L916.7 540.4L917 539.5L917.2 538.5L917.5 537.6L917.8 536.6L918.1 535.6L918.4 534.7L918.6 533.7L918.9 532.8L919.2 531.8L919.5 530.8L919.8 529.9L920.1 528.9L920.4 527.9L920.7 527L920.9 526L921.2 525.1L921.5 524.1L921.8 523.2L922.1 522.2L922.4 521.2L922.7 520.3L923 519.3L923.3 518.4L923.6 517.4L923.9 516.5L924.1 515.5L924.4 514.5L924.7 513.6L925 512.6L925.3 511.7L925.6 510.7L925.9 509.8L926.2 508.8L926.5 507.9L926.8 506.9L927.1 506L927.4 505L927.7 504.1L928 503.1L928.3 502.2L928.6 501.2L928.9 500.3L929.2 499.3L929.6 498.4L929.9 497.4L930.2 496.5L930.5 495.5L930.8 494.6L931.1 493.6L931.4 492.7L931.7 491.7L932 490.8L932.3 489.8L932.7 488.9L933 487.9L933.3 487L933.6 486.1L933.9 485.1L934.2 484.2L934.6 483.2L934.9 482.3L935.2 481.3L935.5 480.4L935.8 479.5L936.2 478.5L936.5 477.6L936.8 476.6L937.1 475.7L937.4 474.8L937.8 473.8L938.1 472.9L938.4 472L938.8 471L939.1 470.1L939.4 469.1L939.7 468.2L940.1 467.3L940.4 466.3L940.7 465.4L941.1 464.5L941.4 463.5L941.7 462.6L942.1 461.7L942.4 460.7L942.8 459.8L943.1 458.9L943.4 458L943.8 457L944.1 456.1L944.5 455.2L944.8 454.2L945.2 453.3L945.5 452.4L945.9 451.5L946.2 450.5L946.5 449.6L946.9 448.7L947.2 447.8L947.6 446.8L948 445.9L948.3 445L948.7 444.1L949 443.2L949.4 442.2L949.7 441.3L950.1 440.4L950.5 439.5L950.8 438.6L951.2 437.7L951.5 436.7L951.9 435.8L952.3 434.9L952.6 434L953 433.1L953.4 432.2L953.7 431.2L954.1 430.3L954.5 429.4L954.9 428.5L955.2 427.6L955.6 426.7L956 425.8L956.4 424.9L956.8 423.9L957.1 423L957.5 422.1L957.9 421.2L958.3 420.3L958.7 419.4L959.1 418.5L959.5 417.6L959.9 416.6L960.3 415.7L960.7 414.8L961.1 413.9L961.5 413L961.9 412.1L962.3 411.2L962.7 410.2L963.1 409.3L963.5 408.4L963.9 407.5L964.3 406.6L964.8 405.7L965.2 404.8L965.6 403.8L966 402.9L966.5 402L966.9 401.1L967.3 400.2L967.8 399.2L968.2 398.3L968.6 397.4L969.1 396.5L969.5 395.5L970 394.6L970.4 393.7L970.9 392.8L971.3 391.8L971.8 390.9L972.3 390L972.7 389.1L973.2 388.1L973.7 387.2L974.1 386.3L974.6 385.3L975.1 384.4L975.6 383.5L976.1 382.5L976.5 381.6L977 380.6L977.5 379.7L978 378.8L978.5 377.8L979 376.9L979.5 375.9L980 375L980.6 374.1L981.1 373.1L981.6 372.2L982.1 371.3L982.7 370.3L983.2 369.4L983.8 368.5L984.3 367.6L984.9 366.8L985.5 365.9L986.1 365L986.7 364.2L987.3 363.3L987.9 362.5L988.5 361.7L989.1 360.9L989.8 360.1L990.4 359.4L991.1 358.6L991.8 357.9L992.5 357.2L993.2 356.5L993.9 355.9L994.6 355.2L995.4 354.6L996.1 354L996.9 353.4L997.7 352.9L998.4 352.4L999.2 351.9L1000.1 351.4L1000.9 350.9L1001.7 350.5L1002.6 350.1L1003.4 349.7L1004.3 349.3L1005.2 349L1006.1 348.6L1007 348.3L1007.9 348L1008.8 347.8L1009.7 347.5L1010.7 347.3L1011.6 347.1L1012.5 346.9L1013.5 346.7L1014.5 346.6L1015.4 346.4L1016.4 346.3L1017.4 346.2L1018.3 346.1L1019.3 346.1L1020.3 346L1021.3 346L1022.3 346L1023.3 346L1024.3 346L1025.3 346L1026.3 346.1L1027.3 346.1L1028.3 346.2L1029.3 346.3L1030.3 346.4L1031.3 346.6L1032.3 346.7L1033.3 346.8L1034.3 347L1035.3 347.2L1036.3 347.4L1037.3 347.6L1038.3 347.8L1039.3 348L1040.3 348.3L1041.3 348.5L1042.3 348.8L1043.3 349.1L1044.2 349.4L1045.2 349.7L1046.2 350L1047.1 350.3L1048.1 350.6L1049 351L1049.9 351.3L1050.9 351.7L1051.8 352.1L1052.7 352.5L1053.6 352.9L1054.5 353.3L1055.4 353.7L1056.3 354.1L1057.2 354.5L1058.1 354.9L1059 355.4L1059.9 355.8L1060.7 356.3L1061.6 356.8L1062.5 357.3L1063.3 357.7L1064.2 358.2L1065 358.7L1065.9 359.3L1066.7 359.8L1067.5 360.3L1068.4 360.8L1069.2 361.4L1070 361.9L1070.8 362.5L1071.6 363L1072.5 363.6L1073.3 364.2L1074.1 364.7L1074.9 365.3L1075.6 365.9L1076.4 366.5L1077.2 367.1L1078 367.7L1078.8 368.3L1079.6 369L1080.3 369.6L1081.1 370.2L1081.9 370.9L1082.6 371.5L1083.4 372.1L1084.2 372.8L1084.9 373.4L1085.7 374.1L1086.4 374.8L1087.2 375.4L1087.9 376.1L1088.7 376.8L1089.4 377.4L1090.2 378.1L1090.9 378.8L1091.6 379.5L1092.4 380.2L1093.1 380.9L1093.8 381.6L1094.6 382.3L1095.3 383L1096 383.7L1096.7 384.4L1097.5 385.1L1098.2 385.8L1098.9 386.5L1099.6 387.2L1100.4 387.9L1101.1 388.6L1101.8 389.3L1102.5 390.1L1103.2 390.8L1103.9 391.5L1104.7 392.2L1105.4 392.9L1106.1 393.7L1106.8 394.4L1107.5 395.1L1108.2 395.8L1109 396.5L1109.7 397.3L1110.4 398L1111.1 398.7L1111.8 399.4L1112.5 400.1L1113.2 400.9L1114 401.6L1114.7 402.3L1115.4 403L1116.1 403.7L1116.8 404.4L1117.6 405.2L1118.3 405.9L1119 406.6L1119.7 407.3L1120.4 408L1121.2 408.7L1121.9 409.4L1122.6 410.1L1123.3 410.8L1124.1 411.5L1124.8 412.2L1125.5 412.9L1126.2 413.6L1127 414.3L1127.7 415L1128.4 415.7L1129.2 416.4L1129.9 417.1L1130.6 417.8L1131.4 418.5L1132.1 419.2L1132.8 419.9L1133.6 420.6L1134.3 421.3L1135 422L1135.8 422.6L1136.5 423.3L1137.2 424L1138 424.7L1138.7 425.4L1139.5 426L1140.2 426.7L1140.9 427.4L1141.7 428.1L1142.4 428.8L1143.2 429.4L1143.9 430.1L1144.7 430.8L1145.4 431.4L1146.2 432.1L1146.9 432.8L1147.7 433.4L1148.4 434.1L1149.2 434.8L1149.9 435.4L1150.7 436.1L1151.4 436.8L1152.2 437.4L1152.9 438.1L1153.7 438.7L1154.4 439.4L1155.2 440L1156 440.7L1156.7 441.3L1157.5 442L1158.2 442.6L1159 443.3L1159.8 443.9L1160.5 444.6L1161.3 445.2L1162.1 445.9L1162.8 446.5L1163.6 447.1L1164.4 447.8L1165.1 448.4L1165.9 449L1166.7 449.7L1167.4 450.3L1168.2 450.9L1169 451.6L1169.8 452.2L1170.5 452.8L1171.3 453.4L1172.1 454.1L1172.9 454.7L1173.7 455.3L1174.4 455.9L1175.2 456.5L1176 457.1L1176.8 457.8L1177.6 458.4L1178.4 459L1179.1 459.6L1179.9 460.2L1180.7 460.8L1181.5 461.4L1182.3 462L1183.1 462.6L1183.9 463.2L1184.7 463.8L1185.5 464.4L1186.3 465L1187.1 465.6L1187.9 466.2L1188.7 466.8L1189.5 467.4L1190.3 467.9L1191.1 468.5L1191.9 469.1L1192.7 469.7L1193.5 470.3L1194.3 470.8L1195.1 471.4L1195.9 472L1196.7 472.6L1197.6 473.1L1198.4 473.7L1199.2 474.3L1200 474.8L1200.8 475.4L1201.6 476L1202.5 476.5L1203.3 477.1L1204.1 477.6L1204.9 478.2L1205.7 478.7L1206.6 479.3L1207.4 479.8L1208.2 480.4L1209.1 480.9L1209.9 481.5L1210.7 482L1211.6 482.6L1212.4 483.1L1213.2 483.6L1214.1 484.2L1214.9 484.7L1215.8 485.2L1216.6 485.7L1217.4 486.3L1218.3 486.8L1219.1 487.3L1220 487.8L1220.8 488.4L1221.7 488.9L1222.5 489.4L1223.4 489.9L1224.2 490.4L1225.1 490.9L1225.9 491.4L1226.8 491.9L1227.7 492.4L1228.5 493L1229.4 493.5L1230.2 494L1231.1 494.4L1232 494.9L1232.8 495.4L1233.7 495.9L1234.6 496.4L1235.4 496.9L1236.3 497.4L1237.2 497.9L1238 498.4L1238.9 498.8L1239.8 499.3L1240.7 499.8L1241.5 500.3L1242.4 500.7L1243.3 501.2L1244.2 501.7L1245.1 502.1L1245.9 502.6L1246.8 503.1L1247.7 503.5L1248.6 504L1249.5 504.4L1250.4 504.9L1251.3 505.4L1252.1 505.8L1253 506.3L1253.9 506.7L1254.8 507.2L1255.7 507.6L1256.6 508L1257.5 508.5L1258.4 508.9L1259.3 509.4L1260.2 509.8L1261.1 510.2L1262 510.7L1262.9 511.1L1263.8 511.5L1264.7 511.9L1265.6 512.4L1266.5 512.8L1267.4 513.2L1268.3 513.6L1269.2 514L1270.2 514.5L1271.1 514.9L1272 515.3L1272.9 515.7L1273.8 516.1L1274.7 516.5L1275.6 516.9L1276.6 517.3L1277.5 517.7L1278.4 518.1L1279.3 518.5L1280.2 518.9L1281.1 519.3L1282.1 519.7L1283 520.1L1283.9 520.5L1284.8 520.9L1285.8 521.2L1286.7 521.6L1287.6 522L1288.5 522.4L1289.5 522.8L1290.4 523.1L1291.3 523.5L1292.3 523.9L1293.2 524.2L1294.1 524.6L1295.1 525L1296 525.3L1296.9 525.7L1297.9 526.1L1298.8 526.4L1299.7 526.8L1300.7 527.1L1301.6 527.5L1302.6 527.8L1303.5 528.2L1304.4 528.5L1305.4 528.9L1306.3 529.2L1307.3 529.6L1308.2 529.9L1309.2 530.2L1310.1 530.6L1311 530.9L1312 531.2L1312.9 531.6L1313.9 531.9L1314.8 532.2L1315.8 532.6L1316.7 532.9L1317.7 533.2L1318.6 533.5L1319.6 533.8L1320.5 534.2L1321.5 534.5L1322.5 534.8L1323.4 535.1L1324.4 535.4L1325.3 535.7L1326.3 536L1327.2 536.3L1328.2 536.6L1329.2 536.9L1330.1 537.2L1331.1 537.5L1332 537.8L1333 538.1L1334 538.4L1334.9 538.7L1335.9 539L1336.8 539.3L1337.8 539.5L1338.8 539.8L1339.7 540.1L1340.7 540.4L1341.7 540.7L1342.6 540.9L1343.6 541.2L1344.6 541.5L1345.5 541.8L1346.5 542L1347.5 542.3L1348.4 542.5L1349.4 542.8L1350.4 543.1L1351.3 543.3L1352.3 543.6L1353.3 543.8L1354.3 544.1L1355.2 544.3L1356.2 544.6L1357.2 544.8L1358.2 545.1L1359.1 545.3L1360.1 545.6L1361.1 545.8L1362.1 546.1L1363 546.3L1364 546.5L1365 546.8L1366 547L1366.9 547.2L1367.9 547.5L1368.9 547.7L1369.9 547.9L1370.9 548.1L1371.8 548.4L1372.8 548.6L1373.8 548.8L1374.8 549L1375.8 549.2L1376.7 549.4L1377.7 549.6L1378.7 549.9L1379.7 550.1L1380.7 550.3L1381.6 550.5L1382.6 550.7L1383.6 550.9L1384.6 551.1L1385.6 551.3L1386.6 551.5L1387.5 551.7L1388.5 551.8L1389.5 552L1390.5 552.2L1391.5 552.4L1392.5 552.6L1393.5 552.8L1394.4 553L1395.4 553.1L1396.4 553.3L1397.4 553.5L1398.4 553.7L1399.4 553.8L1400 554.1L1400.7 554.3L1401.4 553.7L1402.1 554.3L1402.8 554.4L1403.5 554.3L1404.1 554L1404.8 554.7L1405.5 555L1406.2 554.3L1406.9 554.6L1407.6 554.6L1408.3 556.7L1409 555.7L1409.7 555.7L1410.4 554.9L1411 555L1411.7 556.5L1412.4 556.1L1413.1 556L1413.8 555.3L1414.5 556L1415.2 557.1L1415.9 557.1L1416.6 557.3L1417.3 557L1417.9 556.4L1418.6 556.8L1419.3 557.5L1420 556.8L1420.7 558L1421.4 558.1L1422.1 557.7L1422.8 558.2L1423.5 557.3L1424.2 556.7L1424.8 556.8L1425.5 558.5L1426.2 558.6L1426.9 557.1L1427.6 557.9L1428.3 558.7L1429 557.3L1429.7 558.7L1430.4 558.3L1431.1 557.5L1431.7 558L1432.4 559.3L1433.1 558.2L1433.8 559.1L1434.5 559.2L1435.2 558.9L1435.9 558.2L1436.6 558.9L1437.3 557.7L1438 558.8L1438.6 561L1439.3 560.2L1440 558.9L1440.7 558.5L1441.4 560.3L1442.1 559.2L1442.8 558.8L1443.5 559.9L1444.2 559.8L1444.9 560.6L1445.5 559.5L1446.2 559.9L1446.9 559.9L1447.6 561.2L1448.3 559.8L1449 559.6L1449.7 561.1L1450.4 561.1L1451.1 559.7L1451.8 561.2L1452.4 560.7L1453.1 559.6L1453.8 560L1454.5 561.8L1455.2 561.7L1455.9 559.7L1456.6 562L1457.3 560.5L1458 559.9L1458.7 560.9L1459.3 561.6L1460 560.6L1460.7 562.5L1461.4 561.6L1462.1 560.3L1462.8 561.5L1463.5 561.1L1464.2 561.2L1464.9 562.2L1465.6 563L1466.2 561.8L1466.9 561.8L1467.6 562.3L1468.3 561.1L1469 562.1L1469.7 562.8L1470.4 561L1471.1 562.2L1471.8 561.7L1472.5 561.6L1473.1 563.7L1473.8 563.8L1474.5 561.9L1475.2 562L1475.9 563.3L1476.6 562.2L1477.3 564.1L1478 561.9L1478.7 563.7L1479.4 563.2L1480 564.1L1480.7 563.5L1481.4 563.5L1482.1 562.3L1482.8 562.6L1483.5 563.2L1484.2 563.9L1484.9 564L1485.6 565.1L1486.3 563.1L1486.9 563.9L1487.6 564.4L1488.3 564.3L1489 563.4L1489.7 563.4L1490.4 563.6L1491.1 566L1491.8 563.4L1492.5 565.9L1493.2 565L1493.8 563.9L1494.5 564.4L1495.2 565.5L1495.9 565.3L1496.6 566.2L1497.3 566L1498 565.6L1498.7 564.5L1499.4 566L1500.1 565.4L1500.7 566.9L1501.4 567.5L1502.1 566.3L1502.8 566.4L1503.5 567.6L1504.2 565.9L1504.9 567.7L1505.6 568.3L1506.3 566.6L1507 567.4L1507.6 568.2L1508.3 568.8L1509 566.2L1509.7 567.9L1510.4 565.9L1511.1 568.9L1511.8 566.4L1512.5 568.3L1513.2 568.4L1513.9 566.3L1514.5 569.4L1515.2 566.6L1515.9 569.2L1516.6 566.7L1517.3 567.4L1518 566.8L1518.7 566.6L1519.4 569.2L1520.1 567.9L1520.8 568.7L1521.4 567.2L1522.1 570L1522.8 569.7L1523.5 569.4L1524.2 567.6L1524.9 568.6L1525.6 567.4L1526.3 570.2L1527 566.9L1527.7 567.3L1528.3 568.5L1529 566.9L1529.7 568.1L1530.4 568.2L1531.1 567.2L1531.8 569.5L1532.5 569.1L1533.2 569.9L1533.9 568.7L1534.6 567.3L1535.2 568.5L1535.9 567.2L1536.6 567.7L1537.3 569L1538 566.6L1538.7 569.8L1539.4 568.3L1540.1 567.3L1540.8 566.6L1541.5 567L1542.1 566.3L1542.8 569.1L1543.5 569L1544.2 568.4L1544.9 565.9L1545.6 565.5L1546.3 566.7L1547 568.1L1547.7 567.2L1548.4 565.9L1549 567.1L1549.7 564.9L1550.4 566.1L1551.1 565.7L1551.8 564.9L1552.5 564L1553.2 564.3L1553.9 566.7L1554.6 565.2L1555.3 566.4L1555.9 564.6L1556.6 566.4L1557.3 565.1L1558 563.9L1558.7 564.3L1559.4 564.3L1560.1 563.3L1560.8 562.9L1561.5 564.3L1562.2 565.5L1562.8 566.4L1563.5 563.9L1564.2 565.9L1564.9 565.9L1565.6 565.8L1566.3 566.2L1567 565.2L1567.7 565.3L1568.4 564.4L1569.1 565.6L1569.7 565.5L1570.4 563.9L1571.1 564.6L1571.8 564.7L1572.5 565.1L1573.2 564.2L1573.9 564.2L1574.6 564.4L1575.3 563.7L1576 562.9L1576.6 562.3L1577.3 561.3L1578 562.1L1578.7 563.1L1579.4 560.3L1580.1 565.6L1580.8 559.4L1581.5 563.4L1582.2 560.5L1582.9 560.7L1583.5 559.3L1584.2 558.5L1584.9 559.4L1585.6 556.7L1586.3 559.8L1587 556L1587.7 555.1L1588.4 555.2L1589.1 555.7L1589.8 556L1590.4 556.7L1591.1 557L1591.8 557L1592.5 554.6L1593.2 555.2L1593.9 554.2L1594.6 555.3L1595.3 555L1596 552.6L1596.7 556.8L1597.3 555.1L1598 554.1L1598.7 553.9L1599.4 555.8L1600.1 554L1600.8 555.5L1601.5 556L1602.2 554.5L1602.9 555.6L1603.6 556.8L1604.2 557.3L1604.9 556.6L1605.6 554.9L1606.3 556.9L1607 556.9L1607.7 556.5L1608.4 554.5L1609.1 555.1L1609.8 555.2L1610.5 555.7L1611.1 556.8L1611.8 554.9L1612.5 555.1L1613.2 557.9L1613.9 556.2L1614.6 559.7L1615.3 557.5L1616 555.8L1616.7 559.3L1617.4 556.9L1618 558.5L1618.7 559.8L1619.4 557.7L1620.1 555L1620.8 558.8L1621.5 556.1L1622.2 556.5L1622.9 558.9L1623.6 557.9L1624.3 559.3L1624.9 560.1L1625.6 555L1626.3 558.8L1627 557L1627.7 556L1628.4 558.5L1629.1 554.8L1629.8 559.5L1630.5 555.9L1631.2 553.8L1631.8 558.9L1632.5 553.2L1633.2 557.6L1633.9 557.6L1634.6 556.9L1635.3 553.4L1636 555.5L1636.7 557.2L1637.4 556.1L1638.1 554.5L1638.7 554.1L1639.4 552.9L1640.1 551.7L1640.8 553.3L1641.5 553.5L1642.2 556.1L1642.9 554.1L1643.6 552.3L1644.3 556.8L1645 554.3L1645.6 552.2L1646.3 553.3L1647 552.9L1647.7 551.2L1648.4 556.3L1649.1 551.4L1649.8 552L1650.5 550L1651.2 548.9L1651.9 552.7L1652.5 552.9L1653.2 554.5L1653.9 549.9L1654.6 551.7L1655.3 550.5L1656 554L1656.7 551.2L1657.4 552.9L1658.1 552.5L1658.8 546.1L1659.4 546.3L1660.1 547.6L1660.8 551.8L1661.5 545.3L1662.2 548.9L1662.9 547.7L1663.6 545L1664.3 544.6L1665 549L1665.7 547L1666.3 547.3L1667 548L1667.7 543.1L1668.4 549L1669.1 544.5L1669.8 542.5L1670.5 542.4L1671.2 547.8L1671.9 547.8L1672.6 547.5L1673.2 543.1L1673.9 540.5L1674.6 543.4L1675.3 542.6L1676 541.5L1676.7 547.2L1677.4 543.6L1678.1 543.7L1678.8 542.8L1679.5 541.5L1680.1 545.2L1680.8 542.8L1681.5 542.4L1682.2 543.6L1682.9 543.5L1683.6 538.6L1684.3 543.2L1685 537L1685.7 538.1L1686.4 542.2L1687 533.9L1687.7 539.9L1688.4 533.5L1689.1 541.6L1689.8 542.2L1690.5 537.3L1691.2 532.5L1691.9 536.4L1692.6 532.2L1693.3 530.8L1693.9 530.7L1694.6 540.5L1695.3 535.2L1696 529.4L1696.7 536.2L1697.4 534.4L1698.1 536.8L1698.8 527.3L1699.5 538.1L1700.2 534.4L1700.8 531.5L1701.5 531.8L1702.2 536.8L1702.9 531.6L1703.6 524.5L1704.3 525.5L1705 526.7L1705.7 524.7L1706.4 533.6L1707.1 532.4L1707.7 527.2L1708.4 529.5L1709.1 528.9L1709.8 533.5L1710.5 525.3L1711.2 525.9L1711.9 530.8L1712.6 536.5L1713.3 526.1L1714 525.7L1714.6 527.3L1715.3 520.5L1716 529L1716.7 519.5L1717.4 520.6L1718.1 510L1718.8 520.5L1719.5 525.9L1720.2 523.1L1720.9 526.4L1721.5 526.2L1722.2 518.9L1722.9 525.8L1723.6 518.6L1724.3 519.1L1725 524.8L1725.7 514.5L1726.4 517.1L1727.1 526.9L1727.8 526.2L1728.4 522.8L1729.1 525.1L1729.8 520.3L1730.5 531.5L1731.2 525.2L1731.9 523.3L1732.6 522.4L1733.3 515L1734 520.3L1734.7 514.1L1735.3 515.1L1736 513.7L1736.7 516.1L1737.4 517.1L1738.1 511.4L1738.8 511.7L1739.5 520.9L1740.2 516.2L1740.9 510L1741.6 518.7L1742.2 506.5L1742.9 514.3L1743.6 514.4L1744.3 508.8L1745 519.8L1745.7 512.2L1746.4 512.7L1747.1 510.5L1747.8 516.2L1748.5 507.5L1749.1 510.4L1749.8 503.9L1750.5 510.2L1751.2 504.8L1751.9 509.1L1752.6 508.8L1753.3 506.5L1754 512.3L1754.7 505.4L1755.4 510.1L1756 512.7L1756.7 504.4L1757.4 499.9L1758.1 512L1758.8 500.1L1759.5 507.5L1760.2 507.8L1760.9 506L1761.6 512L1762.3 507.3L1762.9 503.2L1763.6 497L1764.3 504.7L1765 496.6L1765.7 503.2L1766.4 500L1767.1 495.9L1767.8 504L1768.5 501L1769.2 506.3L1769.8 499.6L1770.5 496.8L1771.2 493.6L1771.9 492L1772.6 502.5L1773.3 497.1L1774 492.8L1774.7 494.6L1775.4 492.7L1776.1 498.8L1776.7 500.7L1777.4 503.1L1778.1 490.3L1778.8 503.4L1779.5 504.8L1780.2 495.2L1780.9 493.4L1781.6 490L1782.3 502.5L1783 494.5L1783.6 503L1784.3 491.6L1785 490L1785.7 504.5L1786.4 504.4L1787.1 494.1L1787.8 502.1L1788.5 500.9L1789.2 487.8L1789.9 498.8L1790.5 502.2L1791.2 503.3L1791.9 493.6L1792.6 498.7L1793.3 501L1794 502.2L1794.7 490.4L1795.4 499.9L1796.1 500.8L1796.8 485.1L1797.4 493.2L1798.1 495.1L1798.8 488.4L1799.5 493.3L1800.2 485.7L1800.9 497.4L1801.6 490.6L1802.3 490.4L1803 498.9L1803.7 485.5L1804.3 492.4L1805 496.5L1805.7 481.7L1806.4 497L1807.1 487.3L1807.8 492.2L1808.5 498.7L1809.2 497.3L1809.9 475.5L1810.6 481L1811.2 497.8L1811.9 492L1812.6 492.8L1813.3 484.4L1814 492.7L1814.7 485.1L1815.4 480.7L1816.1 483.9L1816.8 494.9L1817.5 481.6L1818.1 494.3L1818.8 486.1L1819.5 494.8L1820.2 478.9L1820.9 487.5L1821.6 478.9L1822.3 483.4L1823 478.2L1823.7 491.6L1824.4 484.9L1825 486.3L1825.7 483.5L1826.4 487.1L1827.1 478.8L1827.8 484L1828.5 490.4L1829.2 491.3L1829.9 482.3L1830.6 491.9L1831.3 491.3L1831.9 492.5L1832.6 475.5L1833.3 476.3L1834 487.2L1834.7 482.7L1835.4 467.2L1836.1 473.3L1836.8 486.6L1837.5 481.7L1838.2 474.6L1838.8 478.2L1839.5 471.4L1840.2 479.7L1840.9 485.8L1841.6 483.6L1842.3 483.2L1843 471.9L1843.7 472L1844.4 470.4L1845.1 486.1L1845.7 484.7L1846.4 485.7L1847.1 481.1L1847.8 470.4L1848.5 484.9L1849.2 483.2L1849.9 476.8L1850.6 482.5L1851.3 468.6L1852 475.2L1852.6 479.3L1853.3 464L1854 469.3L1854.7 468L1855.4 476.3L1856.1 479.8L1856.8 479L1857.5 469.7L1858.2 480.6L1858.9 478.1L1859.5 465.3L1860.2 470.2L1860.9 467.9L1861.6 475.7L1862.3 468L1863 462.8L1863.7 465L1864.4 467.3L1865.1 459.7L1865.8 459.2L1866.4 476.9L1867.1 472.3L1867.8 475.2L1868.5 471.9L1869.2 478L1869.9 473.1L1870.6 472L1871.3 463.9L1872 468.6L1872.7 459.2L1873.3 471.8L1874 462L1874.7 465.7L1875.4 465.8L1876.1 449.8L1876.8 449.4L1877.5 446.6L1878.2 458.8L1878.9 462.5L1879.6 458.8L1880.2 470.4L1880.9 461.7L1881.6 455.1L1882.3 464.7L1883 468.6L1883.7 462.6L1884.4 466.6L1885.1 460.1L1885.8 457.8L1886.5 445.2L1887.1 449.5L1887.8 455L1888.5 468.1L1889.2 458.6L1889.9 442.7L1890.6 450.7L1891.3 444.4L1892 451.7L1892.7 457.8L1893.4 452.1L1894 449.9L1894.7 452.7L1895.4 447.5L1896.1 441.8L1896.8 438.1L1897.5 438.1L1898.2 459L1898.9 437.9L1899.6 450.2L1900.3 437.1L1900.9 446L1901.6 439.5L1902.3 445.8L1903 452.2L1903.7 443.7L1904.4 441.4L1905.1 453.5L1905.8 444L1906.5 453.7L1907.2 443.8L1907.8 453.3L1908.5 449.8L1909.2 433.3L1909.9 431.4L1910.6 434.4L1911.3 456.4L1912 457.1L1912.7 438.1L1913.4 445.3L1914.1 433.2L1914.7 445.5L1915.4 440.5L1916.1 430.9L1916.8 456.1L1917.5 443.2L1918.2 447.7L1918.9 442.2L1919.6 452.6L1920.3 476L1921 478L1921.6 429.7L1922.3 453.1L1923 436L1923.7 445.3L1924.4 446.6L1925.1 446.8L1925.8 441.7L1926.5 432.8L1927.2 450.4L1927.9 442.2L1928.5 442.3L1929.2 445.4L1929.9 423.2L1930.6 425.6L1931.3 436.6L1932 448.3L1932.7 445.3L1933.4 429L1934.1 437L1934.8 452.8L1935.4 451.8L1936.1 408L1936.8 438.4L1937.5 450.5L1938.2 448.2L1938.9 440.3L1939.6 448.4L1940.3 443.3L1941 434.7L1941.7 427.2L1942.3 420.4L1943 424L1943.7 425.6L1944.4 432.8L1945.1 435.2L1945.8 434L1946.5 436.5L1947.2 420.4L1947.9 450.7L1948.6 440.8L1949.2 419.3L1949.9 436L1950.6 425L1951.3 446.7L1952 436.9L1952.7 451L1953.4 433.9L1954.1 444.3L1954.8 427.1L1955.5 450.2L1956.1 423.1L1956.8 446.8L1957.5 426.3L1958.2 417.1L1958.9 430.6L1959.6 438.5L1960.3 415.5L1961 396L1961.7 448.3L1962.4 417.8L1963 439.5L1963.7 442.4L1964.4 425.9L1965.1 447.8L1965.8 448.5L1966.5 440.1L1967.2 422.7L1967.9 450.4L1968.6 446.3L1969.3 430.5L1969.9 448.7L1970.6 424.9L1971.3 448.2L1972 421L1972.7 434.7L1973.4 425L1974.1 432.5L1974.8 417L1975.5 445.6L1976.2 444.3L1976.8 445.9L1977.5 420.6L1978.2 380L1978.9 378L1979.6 428.3L1980.3 424.5L1981 428.4L1981.7 434.6L1982.4 447.3L1983.1 443.4L1983.7 419.3L1984.4 451.8L1985.1 450.5L1985.8 437.3L1986.5 438L1987.2 429.3L1987.9 430.7L1988.6 420.2L1989.3 429.8L1990 443.1"/>
<path stroke="#808000" d="M629.3 1161.7L629.9 1160.8L630.4 1160L630.9 1159.1L631.4 1158.3L631.9 1157.4L632.5 1156.6L633 1155.7L633.5 1154.9L634.1 1154L634.6 1153.2L635.1 1152.3L635.6 1151.5L636.2 1150.7L636.7 1149.8L637.2 1149L637.8 1148.1L638.3 1147.3L638.8 1146.4L639.3 1145.6L639.9 1144.7L640.4 1143.9L640.9 1143L641.5 1142.2L642 1141.4L642.5 1140.5L643.1 1139.7L643.6 1138.8L644.1 1138L644.7 1137.1L645.2 1136.3L645.8 1135.4L646.3 1134.6L646.8 1133.8L647.4 1132.9L647.9 1132.1L648.4 1131.2L649 1130.4L649.5 1129.6L650.1 1128.7L650.6 1127.9L651.1 1127L651.7 1126.2L652.2 1125.3L652.8 1124.5L653.3 1123.7L653.8 1122.8L654.4 1122L654.9 1121.1L655.5 1120.3L656 1119.5L656.6 1118.6L657.1 1117.8L657.7 1117L658.2 1116.1L658.7 1115.3L659.3 1114.4L659.8 1113.6L660.4 1112.8L660.9 1111.9L661.5 1111.1L662 1110.2L662.6 1109.4L663.1 1108.6L663.7 1107.7L664.2 1106.9L664.8 1106.1L665.3 1105.2L665.9 1104.4L666.4 1103.6L667 1102.7L667.5 1101.9L668.1 1101L668.6 1100.2L669.2 1099.4L669.7 1098.5L670.3 1097.7L670.8 1096.9L671.4 1096L671.9 1095.2L672.5 1094.4L673 1093.5L673.6 1092.7L674.1 1091.9L674.7 1091L675.2 1090.2L675.8 1089.4L676.3 1088.5L676.9 1087.7L677.5 1086.9L678 1086L678.6 1085.2L679.1 1084.4L679.7 1083.5L680.2 1082.7L680.8 1081.9L681.3 1081L681.9 1080.2L682.5 1079.4L683 1078.5L683.6 1077.7L684.1 1076.9L684.7 1076L685.2 1075.2L685.8 1074.4L686.4 1073.5L686.9 1072.7L687.5 1071.9L688 1071L688.6 1070.2L689.1 1069.4L689.7 1068.5L690.3 1067.7L690.8 1066.9L691.4 1066.1L691.9 1065.2L692.5 1064.4L693.1 1063.6L693.6 1062.7L694.2 1061.9L694.7 1061.1L695.3 1060.2L695.9 1059.4L696.4 1058.6L697 1057.7L697.5 1056.9L698.1 1056.1L698.7 1055.3L699.2 1054.4L699.8 1053.6L700.3 1052.8L700.9 1051.9L701.5 1051.1L702 1050.3L702.6 1049.4L703.1 1048.6L703.7 1047.8L704.3 1047L704.8 1046.1L705.4 1045.3L706 1044.5L706.5 1043.6L707.1 1042.8L707.6 1042L708.2 1041.1L708.8 1040.3L709.3 1039.5L709.9 1038.7L710.4 1037.8L711 1037L711.6 1036.2L712.1 1035.3L712.7 1034.5L713.3 1033.7L713.8 1032.8L714.4 1032L714.9 1031.2L715.5 1030.4L716.1 1029.5L716.6 1028.7L717.2 1027.9L717.8 1027L718.3 1026.2L718.9 1025.4L719.4 1024.6L720 1023.7L720.6 1022.9L721.1 1022.1L721.7 1021.2L722.2 1020.4L722.8 1019.6L723.4 1018.7L723.9 1017.9L724.5 1017.1L725.1 1016.3L725.6 1015.4L726.2 1014.6L726.7 1013.8L727.3 1012.9L727.9 1012.1L728.4 1011.3L729 1010.4L729.6 1009.6L730.1 1008.8L730.7 1008L731.2 1007.1L731.8 1006.3L732.4 1005.5L732.9 1004.6L733.5 1003.8L734 1003L734.6 1002.1L735.2 1001.3L735.7 1000.5L736.3 999.6L736.8 998.8L737.4 998L738 997.2L738.5 996.3L739.1 995.5L739.6 994.7L740.2 993.8L740.8 993L741.3 992.2L741.9 991.3L742.4 990.5L743 989.7L743.6 988.8L744.1 988L744.7 987.2L745.2 986.3L745.8 985.5L746.3 984.7L746.9 983.8L747.5 983L748 982.2L748.6 981.3L749.1 980.5L749.7 979.7L750.2 978.8L750.8 978L751.4 977.2L751.9 976.3L752.5 975.5L753 974.7L753.6 973.8L754.1 973L754.7 972.2L755.2 971.3L755.8 970.5L756.4 969.7L756.9 968.8L757.5 968L758 967.2L758.6 966.3L759.1 965.5L759.7 964.7L760.2 963.8L760.8 963L761.3 962.2L761.9 961.3L762.4 960.5L763 959.7L763.5 958.8L764.1 958L764.6 957.1L765.2 956.3L765.7 955.5L766.3 954.6L766.8 953.8L767.4 953L767.9 952.1L768.5 951.3L769 950.4L769.6 949.6L770.1 948.8L770.7 947.9L771.2 947.1L771.8 946.3L772.3 945.4L772.9 944.6L773.4 943.7L774 942.9L774.5 942.1L775 941.2L775.6 940.4L776.1 939.5L776.7 938.7L777.2 937.9L777.8 937L778.3 936.2L778.8 935.3L779.4 934.5L779.9 933.7L780.5 932.8L781 932L781.6 931.1L782.1 930.3L782.6 929.4L783.2 928.6L783.7 927.8L784.3 926.9L784.8 926.1L785.3 925.2L785.9 924.4L786.4 923.5L786.9 922.7L787.5 921.9L788 921L788.5 920.2L789.1 919.3L789.6 918.5L790.2 917.6L790.7 916.8L791.2 915.9L791.8 915.1L792.3 914.2L792.8 913.4L793.4 912.6L793.9 911.7L794.4 910.9L794.9 910L795.5 909.2L796 908.3L796.5 907.5L797.1 906.6L797.6 905.8L798.1 904.9L798.7 904.1L799.2 903.2L799.7 902.4L800.2 901.5L800.8 900.7L801.3 899.8L801.8 899L802.3 898.1L802.9 897.3L803.4 896.4L803.9 895.6L804.4 894.7L805 893.9L805.5 893L806 892.2L806.5 891.3L807.1 890.5L807.6 889.6L808.1 888.8L808.6 887.9L809.1 887.1L809.7 886.2L810.2 885.3L810.7 884.5L811.2 883.6L811.7 882.8L812.3 881.9L812.8 881.1L813.3 880.2L813.8 879.4L814.3 878.5L814.9 877.7L815.4 876.8L815.9 875.9L816.4 875.1L816.9 874.2L817.4 873.4L817.9 872.5L818.5 871.7L819 870.8L819.5 870L820 869.1L820.5 868.2L821 867.4L821.5 866.5L822.1 865.7L822.6 864.8L823.1 864L823.6 863.1L824.1 862.2L824.6 861.4L825.1 860.5L825.6 859.7L826.2 858.8L826.7 857.9L827.2 857.1L827.7 856.2L828.2 855.4L828.7 854.5L829.2 853.6L829.7 852.8L830.2 851.9L830.7 851.1L831.2 850.2L831.8 849.3L832.3 848.5L832.8 847.6L833.3 846.8L833.8 845.9L834.3 845L834.8 844.2L835.3 843.3L835.8 842.5L836.3 841.6L836.8 840.7L837.3 839.9L837.8 839L838.3 838.1L838.8 837.3L839.3 836.4L839.8 835.6L840.3 834.7L840.8 833.8L841.4 833L841.9 832.1L842.4 831.2L842.9 830.4L843.4 829.5L843.9 828.6L844.4 827.8L844.9 826.9L845.4 826.1L845.9 825.2L846.4 824.3L846.9 823.5L847.4 822.6L847.9 821.7L848.4 820.9L848.9 820L849.4 819.1L849.9 818.3L850.4 817.4L850.9 816.5L851.4 815.7L851.9 814.8L852.4 813.9L852.9 813.1L853.4 812.2L853.8 811.3L854.3 810.5L854.8 809.6L855.3 808.7L855.8 807.9L856.3 807L856.8 806.1L857.3 805.3L857.8 804.4L858.3 803.5L858.8 802.7L859.3 801.8L859.8 800.9L860.3 800.1L860.8 799.2L861.3 798.3L861.8 797.4L862.3 796.6L862.8 795.7L863.3 794.8L863.8 794L864.2 793.1L864.7 792.2L865.2 791.4L865.7 790.5L866.2 789.6L866.7 788.8L867.2 787.9L867.7 787L868.2 786.1L868.7 785.3L869.2 784.4L869.7 783.5L870.2 782.7L870.6 781.8L871.1 780.9L871.6 780.1L872.1 779.2L872.6 778.3L873.1 777.4L873.6 776.6L874.1 775.7L874.6 774.8L875.1 774L875.6 773.1L876 772.2L876.5 771.3L877 770.5L877.5 769.6L878 768.7L878.5 767.9L879 767L879.5 766.1L880 765.2L880.4 764.4L880.9 763.5L881.4 762.6L881.9 761.7L882.4 760.9L882.9 760L883.4 759.1L883.9 758.3L884.4 757.4L884.8 756.5L885.3 755.6L885.8 754.8L886.3 753.9L886.8 753L887.3 752.1L887.8 751.3L888.3 750.4L888.7 749.5L889.2 748.6L889.7 747.8L890.2 746.9L890.7 746L891.2 745.2L891.7 744.3L892.2 743.4L892.6 742.5L893.1 741.7L893.6 740.8L894.1 739.9L894.6 739L895.1 738.2L895.6 737.3L896 736.4L896.5 735.5L897 734.7L897.5 733.8L898 732.9L898.5 732L899 731.2L899.4 730.3L899.9 729.4L900.4 728.5L900.9 727.7L901.4 726.8L901.9 725.9L902.4 725L902.8 724.2L903.3 723.3L903.8 722.4L904.3 721.5L904.8 720.7L905.3 719.8L905.8 718.9L906.2 718L906.7 717.2L907.2 716.3L907.7 715.4L908.2 714.5L908.7 713.7L909.1 712.8L909.6 711.9L910.1 711L910.6 710.2L911.1 709.3L911.6 708.4L912.1 707.5L912.5 706.6L913 705.8L913.5 704.9L914 704L914.5 703.1L915 702.3L915.5 701.4L915.9 700.5L916.4 699.6L916.9 698.8L917.4 697.9L917.9 697L918.4 696.1L918.8 695.3L919.3 694.4L919.8 693.5L920.3 692.6L920.8 691.8L921.3 690.9L921.8 690L922.2 689.1L922.7 688.2L923.2 687.4L923.7 686.5L924.2 685.6L924.7 684.7L925.1 683.9L925.6 683L926.1 682.1L926.6 681.2L927.1 680.4L927.6 679.5L928.1 678.6L928.5 677.7L929 676.8L929.5 676L930 675.1L930.5 674.2L931 673.3L931.4 672.5L931.9 671.6L932.4 670.7L932.9 669.8L933.4 669L933.9 668.1L934.4 667.2L934.8 666.3L935.3 665.4L935.8 664.6L936.3 663.7L936.8 662.8L937.3 661.9L937.7 661.1L938.2 660.2L938.7 659.3L939.2 658.4L939.7 657.6L940.2 656.7L940.7 655.8L941.1 654.9L941.6 654L942.1 653.2L942.6 652.3L943.1 651.4L943.6 650.5L944 649.7L944.5 648.8L945 647.9L945.5 647L946 646.2L946.5 645.3L947 644.4L947.4 643.5L947.9 642.6L948.4 641.8L948.9 640.9L949.4 640L949.9 639.1L950.3 638.3L950.8 637.4L951.3 636.5L951.8 635.6L952.3 634.7L952.8 633.9L953.3 633L953.7 632.1L954.2 631.2L954.7 630.4L955.2 629.5L955.7 628.6L956.2 627.7L956.6 626.9L957.1 626L957.6 625.1L958.1 624.2L958.6 623.3L959.1 622.5L959.6 621.6L960 620.7L960.5 619.8L961 619L961.5 618.1L962 617.2L962.5 616.3L962.9 615.4L963.4 614.6L963.9 613.7L964.4 612.8L964.9 611.9L965.4 611.1L965.9 610.2L966.3 609.3L966.8 608.4L967.3 607.6L967.8 606.7L968.3 605.8L968.8 604.9L969.2 604L969.7 603.2L970.2 602.3L970.7 601.4L971.2 600.5L971.7 599.7L972.2 598.8L972.6 597.9L973.1 597L973.6 596.2L974.1 595.3L974.6 594.4L975.1 593.5L975.6 592.6L976 591.8L976.5 590.9L977 590L977.5 589.1L978 588.3L978.5 587.4L978.9 586.5L979.4 585.6L979.9 584.7L980.4 583.9L980.9 583L981.4 582.1L981.9 581.2L982.3 580.4L982.8 579.5L983.3 578.6L983.8 577.7L984.3 576.9L984.8 576L985.3 575.1L985.7 574.2L986.2 573.4L986.7 572.5L987.2 571.6L987.7 570.7L988.2 569.8L988.6 569L989.1 568.1L989.6 567.2L990.1 566.3L990.6 565.5L991.1 564.6L991.6 563.7L992 562.8L992.5 562L993 561.1L993.5 560.2L994 559.3L994.5 558.5L995 557.6L995.4 556.7L995.9 555.8L996.4 554.9L996.9 554.1L997.4 553.2L997.9 552.3L998.3 551.4L998.8 550.6L999.3 549.7L999.8 548.8L1000.3 547.9L1000.8 547.1L1001.3 546.2L1001.7 545.3L1002.2 544.4L1002.7 543.6L1003.2 542.7L1003.7 541.8L1004.2 540.9L1004.7 540.1L1005.1 539.2L1005.6 538.3L1006.1 537.4L1006.6 536.6L1007.1 535.7L1007.6 534.8L1008.1 533.9L1008.5 533.1L1009 532.2L1009.5 531.3L1010 530.4L1010.5 529.5L1011 528.7L1011.5 527.8L1011.9 526.9L1012.4 526L1012.9 525.2L1013.4 524.3L1013.9 523.4L1014.4 522.5L1014.9 521.7L1015.3 520.8L1015.8 519.9L1016.3 519L1016.8 518.2L1017.3 517.3L1017.8 516.4L1018.3 515.6L1018.7 514.7L1019.2 513.8L1019.7 512.9L1020.2 512.1L1020.7 511.2L1021.2 510.3L1021.7 509.4L1022.1 508.6L1022.6 507.7L1023.1 506.8L1023.6 505.9L1024.1 505.1L1024.6 504.2L1025.1 503.3L1025.6 502.4L1026 501.6L1026.5 500.7L1027 499.8L1027.5 498.9L1028 498.1L1028.5 497.2L1029 496.3L1029.5 495.5L1029.9 494.6L1030.4 493.7L1030.9 492.8L1031.4 492L1031.9 491.1L1032.4 490.2L1032.9 489.3L1033.4 488.5L1033.8 487.6L1034.3 486.7L1034.8 485.9L1035.3 485L1035.8 484.1L1036.3 483.2L1036.8 482.4L1037.3 481.5L1037.8 480.6L1038.3 479.8L1038.8 478.9L1039.2 478L1039.7 477.2L1040.2 476.3L1040.7 475.4L1041.2 474.5L1041.7 473.7L1042.2 472.8L1042.7 471.9L1043.2 471.1L1043.7 470.2L1044.2 469.3L1044.7 468.5L1045.2 467.6L1045.7 466.7L1046.2 465.9L1046.7 465L1047.1 464.1L1047.6 463.3L1048.1 462.4L1048.6 461.5L1049.1 460.7L1049.6 459.8L1050.1 458.9L1050.6 458.1L1051.1 457.2L1051.6 456.3L1052.1 455.5L1052.6 454.6L1053.1 453.8L1053.6 452.9L1054.1 452L1054.6 451.2L1055.1 450.3L1055.6 449.4L1056.1 448.6L1056.7 447.7L1057.2 446.9L1057.7 446L1058.2 445.1L1058.7 444.3L1059.2 443.4L1059.7 442.6L1060.2 441.7L1060.7 440.8L1061.2 440L1061.7 439.1L1062.2 438.3L1062.7 437.4L1063.2 436.5L1063.8 435.7L1064.3 434.8L1064.8 434L1065.3 433.1L1065.8 432.3L1066.3 431.4L1066.8 430.6L1067.3 429.7L1067.9 428.8L1068.4 428L1068.9 427.1L1069.4 426.3L1069.9 425.4L1070.4 424.6L1071 423.7L1071.5 422.9L1072 422L1072.5 421.2L1073 420.3L1073.6 419.5L1074.1 418.6L1074.6 417.8L1075.1 416.9L1075.7 416.1L1076.2 415.2L1076.7 414.4L1077.2 413.5L1077.8 412.7L1078.3 411.8L1078.8 411L1079.3 410.2L1079.9 409.3L1080.4 408.5L1080.9 407.6L1081.5 406.8L1082 405.9L1082.5 405.1L1083.1 404.2L1083.6 403.4L1084.1 402.6L1084.7 401.7L1085.2 400.9L1085.7 400L1086.3 399.2L1086.8 398.4L1087.4 397.5L1087.9 396.7L1088.4 395.9L1089 395L1089.5 394.2L1090.1 393.3L1090.6 392.5L1091.2 391.7L1091.7 390.8L1092.3 390L1092.8 389.2L1093.3 388.3L1093.9 387.5L1094.4 386.7L1095 385.8L1095.6 385L1096.1 384.2L1096.7 383.4L1097.2 382.5L1097.8 381.7L1098.3 380.9L1098.9 380L1099.4 379.2L1100 378.4L1100.6 377.6L1101.1 376.7L1101.7 375.9L1102.2 375.1L1102.8 374.3L1103.4 373.4L1103.9 372.6L1104.5 371.8L1105.1 371L1105.6 370.2L1106.2 369.3L1106.8 368.5L1107.3 367.7L1107.9 366.9L1108.5 366.1L1109.1 365.3L1109.6 364.4L1110.2 363.6L1110.8 362.8L1111.4 362L1112 361.2L1112.5 360.4L1113.1 359.6L1113.7 358.7L1114.3 357.9L1114.9 357.1L1115.4 356.3L1116 355.5L1116.6 354.7L1117.2 353.9L1117.8 353.1L1118.4 352.3L1119 351.5L1119.6 350.7L1120.2 349.9L1120.8 349.1L1121.4 348.3L1122 347.5L1122.6 346.7L1123.2 345.9L1123.8 345.1L1124.4 344.3L1125 343.5L1125.6 342.7L1126.2 341.9L1126.8 341.1L1127.4 340.3L1128 339.5L1128.6 338.7L1129.2 337.9L1129.8 337.1L1130.4 336.3L1131 335.5L1131.7 334.7L1132.3 333.9L1132.9 333.1L1133.5 332.4L1134.1 331.6L1134.8 330.8L1135.4 330L1136 329.2L1136.6 328.4L1137.3 327.6L1137.9 326.9L1138.5 326.1L1139.1 325.3L1139.8 324.5L1140.4 323.7L1141 323L1141.7 322.2L1142.3 321.4L1143 320.6L1143.6 319.8L1144.2 319.1L1144.9 318.3L1145.5 317.5L1146.2 316.8L1146.8 316L1147.5 315.2L1148.1 314.4L1148.8 313.7L1149.4 312.9L1150.1 312.1L1150.7 311.4L1151.4 310.6L1152 309.8L1152.7 309.1L1153.3 308.3L1154 307.5L1154.7 306.8L1155.3 306L1156 305.3L1156.7 304.5L1157.3 303.7L1158 303L1158.7 302.2L1159.3 301.5L1160 300.7L1160.7 300L1161.4 299.2L1162 298.5L1162.7 297.7L1163.4 297L1164.1 296.2L1164.8 295.5L1165.5 294.8L1166.1 294L1166.8 293.3L1167.5 292.5L1168.2 291.8L1168.9 291.1L1169.6 290.3L1170.3 289.6L1171 288.9L1171.7 288.1L1172.4 287.4L1173.1 286.7L1173.8 285.9L1174.5 285.2L1175.2 284.5L1175.9 283.8L1176.6 283.1L1177.3 282.3L1178.1 281.6L1178.8 280.9L1179.5 280.2L1180.2 279.5L1180.9 278.8L1181.6 278.1L1182.4 277.4L1183.1 276.7L1183.8 276L1184.5 275.3L1185.3 274.6L1186 273.9L1186.7 273.2L1187.5 272.5L1188.2 271.8L1189 271.1L1189.7 270.4L1190.4 269.8L1191.2 269.1L1191.9 268.4L1192.7 267.7L1193.4 267L1194.2 266.4L1194.9 265.7L1195.7 265L1196.4 264.4L1197.2 263.7L1198 263.1L1198.7 262.4L1199.5 261.7L1200.2 261.1L1201 260.4L1201.8 259.8L1202.6 259.2L1203.3 258.5L1204.1 257.9L1204.9 257.2L1205.7 256.6L1206.4 256L1207.2 255.3L1208 254.7L1208.8 254.1L1209.6 253.5L1210.4 252.9L1211.2 252.2L1211.9 251.6L1212.7 251L1213.5 250.4L1214.3 249.8L1215.1 249.2L1215.9 248.6L1216.7 248L1217.6 247.4L1218.4 246.8L1219.2 246.2L1220 245.7L1220.8 245.1L1221.6 244.5L1222.4 243.9L1223.3 243.4L1224.1 242.8L1224.9 242.2L1225.7 241.7L1226.6 241.1L1227.4 240.5L1228.2 240L1229.1 239.4L1229.9 238.9L1230.7 238.4L1231.6 237.8L1232.4 237.3L1233.3 236.8L1234.1 236.2L1235 235.7L1235.8 235.2L1236.7 234.7L1237.5 234.2L1238.4 233.6L1239.2 233.1L1240.1 232.6L1241 232.1L1241.8 231.6L1242.7 231.1L1243.6 230.7L1244.5 230.2L1245.3 229.7L1246.2 229.2L1247.1 228.7L1248 228.3L1248.8 227.8L1249.7 227.3L1250.6 226.9L1251.5 226.4L1252.4 226L1253.3 225.5L1254.2 225.1L1255.1 224.7L1256 224.2L1256.9 223.8L1257.8 223.4L1258.7 222.9L1259.6 222.5L1260.5 222.1L1261.4 221.7L1262.3 221.3L1263.2 220.9L1264.1 220.5L1265.1 220.1L1266 219.7L1266.9 219.3L1267.8 218.9L1268.7 218.6L1269.7 218.2L1270.6 217.8L1271.5 217.5L1272.4 217.1L1273.4 216.7L1274.3 216.4L1275.2 216.1L1276.2 215.7L1277.1 215.4L1278 215L1279 214.7L1279.9 214.4L1280.9 214.1L1281.8 213.8L1282.7 213.4L1283.7 213.1L1284.6 212.8L1285.6 212.5L1286.5 212.3L1287.5 212L1288.4 211.7L1289.4 211.4L1290.3 211.1L1291.3 210.9L1292.2 210.6L1293.2 210.3L1294.1 210.1L1295.1 209.8L1296.1 209.6L1297 209.4L1298 209.1L1298.9 208.9L1299.9 208.7L1300.9 208.5L1301.8 208.3L1302.8 208L1303.8 207.8L1304.7 207.6L1305.7 207.5L1306.7 207.3L1307.7 207.1L1308.6 206.9L1309.6 206.7L1310.6 206.6L1311.5 206.4L1312.5 206.2L1313.5 206.1L1314.5 206L1315.4 205.8L1316.4 205.7L1317.4 205.5L1318.4 205.4L1319.4 205.3L1320.3 205.2L1321.3 205.1L1322.3 205L1323.3 204.9L1324.3 204.8L1325.2 204.7L1326.2 204.6L1327.2 204.5L1328.2 204.5L1329.2 204.4L1330.2 204.3L1331.2 204.3L1332.1 204.2L1333.1 204.2L1334.1 204.2L1335.1 204.1L1336.1 204.1L1337.1 204.1L1338.1 204L1339.1 204L1340 204L1341 204L1342 204L1343 204L1344 204L1345 204L1346 204.1L1347 204.1L1348 204.1L1349 204.2L1349.9 204.2L1350.9 204.2L1351.9 204.3L1352.9 204.3L1353.9 204.4L1354.9 204.4L1355.9 204.5L1356.9 204.6L1357.9 204.7L1358.9 204.7L1359.9 204.8L1360.8 204.9L1361.8 205L1362.8 205.1L1363.8 205.2L1364.8 205.3L1365.8 205.4L1366.8 205.5L1367.8 205.6L1368.8 205.7L1369.8 205.9L1370.8 206L1371.8 206.1L1372.7 206.3L1373.7 206.4L1374.7 206.6L1375.7 206.7L1376.7 206.9L1377.7 207L1378.7 207.2L1379.7 207.3L1380.7 207.5L1381.6 207.7L1382.6 207.8L1383.6 208L1384.6 208.2L1385.6 208.4L1386.6 208.6L1387.6 208.8L1388.5 209L1389.5 209.2L1390.5 209.4L1391.5 209.6L1392.5 209.8L1393.5 210L1394.4 210.2L1395.4 210.4L1396.4 210.7L1397.4 210.9L1398.4 211.1L1399.3 211.4L1400.3 211.6L1401.3 211.8L1402.3 212.1L1403.3 212.3L1404.2 212.6L1405.2 212.8L1406.2 213.1L1407.1 213.4L1408.1 213.6L1409.1 213.9L1410.1 214.2L1411 214.4L1412 214.7L1413 215L1413.9 215.3L1414.9 215.5L1415.9 215.8L1416.8 216.1L1417.8 216.4L1418.8 216.7L1419.7 217L1420.7 217.3L1421.6 217.6L1422.6 217.9L1423.6 218.2L1424.5 218.5L1425.5 218.8L1426.4 219.1L1427.4 219.5L1428.3 219.8L1429.3 220.1L1430.2 220.4L1431.2 220.8L1432.1 221.1L1433.1 221.4L1434 221.7L1435 222.1L1435.9 222.4L1436.9 222.8L1437.8 223.1L1438.8 223.5L1439.7 223.8L1440.6 224.1L1441.6 224.5L1442.5 224.9L1443.5 225.2L1444.4 225.6L1445.3 225.9L1446.3 226.3L1447.2 226.7L1448.1 227L1449.1 227.4L1450 227.8L1450.9 228.1L1451.9 228.5L1452.8 228.9L1453.7 229.3L1454.7 229.6L1455.6 230L1456.5 230.4L1457.4 230.8L1458.4 231.2L1459.3 231.6L1460.2 232L1461.1 232.3L1462.1 232.7L1463 233.1L1463.9 233.5L1464.8 233.9L1465.7 234.3L1466.7 234.7L1467.6 235.1L1468.5 235.5L1469.4 235.9L1470.3 236.3L1471.3 236.8L1472.2 237.2L1473.1 237.6L1474 238L1474.9 238.4L1475.8 238.8L1476.7 239.2L1477.7 239.7L1478.6 240.1L1479.5 240.5L1480.4 240.9L1481.3 241.3L1482.2 241.8L1483.1 242.2L1484 242.6L1484.9 243L1485.9 243.5L1486.8 243.9L1487.7 244.3L1488.6 244.8L1489.5 245.2L1490.4 245.6L1491.3 246.1L1492.2 246.5L1493.1 246.9L1494 247.4L1494.9 247.8L1495.8 248.3L1496.7 248.7L1497.6 249.1L1498.5 249.6L1499.4 250L1500.3 250.5L1501.2 250.9L1502.1 251.4L1503 251.8L1503.9 252.2L1504.8 252.7L1505.7 253.1L1506.6 253.6L1507.5 254L1508.4 254.5L1509.3 254.9L1510.2 255.4L1511.1 255.8L1512 256.3L1512.9 256.7L1513.8 257.2L1514.7 257.6L1515.6 258.1L1516.5 258.5L1517.4 259L1518.3 259.4L1519.2 259.9L1520.1 260.3L1521 260.8L1521.9 261.3L1522.8 261.7L1523.7 262.2L1524.6 262.6L1525.5 263.1L1526.4 263.5L1527.3 264L1528.2 264.4L1529.1 264.9L1530 265.3L1530.9 265.8L1531.8 266.2L1532.7 266.7L1533.6 267.2L1534.5 267.6L1535.4 268.1L1536.3 268.5L1537.2 269L1538.1 269.4L1539 269.9L1539.9 270.3L1540.8 270.8L1541.7 271.2L1542.6 271.7L1543.5 272.1L1544.4 272.6L1545.2 273L1546.1 273.5L1547 273.9L1547.9 274.4L1548.8 274.8L1549.7 275.3L1550.6 275.7L1551.5 276.2L1552.4 276.6L1553.3 277.1L1554.2 277.5L1555.1 278L1556 278.4L1556.9 278.9L1557.8 279.3L1558.7 279.7L1559.6 280.2L1560.5 280.6L1561.4 281.1L1562.3 281.5L1563.3 281.9L1564.2 282.4L1565.1 282.8L1566 283.2L1566.9 283.7L1567.8 284.1L1568.7 284.5L1569.6 285L1570.5 285.4L1571.4 285.8L1572.3 286.3L1573.2 286.7L1574.1 287.1L1575 287.5L1575.9 288L1576.8 288.4L1577.7 288.8L1578.7 289.2L1579.6 289.7L1580.5 290.1L1581.4 290.5L1582.3 290.9L1583.2 291.3L1584.1 291.7L1585 292.1L1585.9 292.6L1586.9 293L1587.8 293.4L1588.7 293.8L1589.6 294.2L1590.5 294.6L1591.4 295L1592.3 295.4L1593.3 295.8L1594.2 296.2L1595.1 296.6L1596 297L1596.9 297.4L1597.8 297.8L1598.8 298.2L1599.7 298.6L1600.6 299L1601.5 299.4L1602.4 299.8L1603.4 300.2L1604.3 300.6L1605.2 301L1606.1 301.3L1607 301.7L1608 302.1L1608.9 302.5L1609.8 302.9L1610.7 303.3L1611.7 303.6L1612.6 304L1613.5 304.4L1614.4 304.8L1615.3 305.2L1616.3 305.5L1617.2 305.9L1618.1 306.3L1619.1 306.7L1620 307L1620.9 307.4L1621.8 307.8L1622.8 308.1L1623.7 308.5L1624.6 308.9L1625.5 309.3L1626.5 309.6L1627.4 310L1628.3 310.3L1629.3 310.7L1630.2 311.1L1631.1 311.4L1632.1 311.8L1633 312.1L1633.9 312.5L1634.9 312.9L1635.8 313.2L1636.7 313.6L1637.7 313.9L1638.6 314.3L1639.5 314.6L1640.5 315L1641.4 315.3L1642.3 315.7L1643.3 316L1644.2 316.4L1645.1 316.7L1646.1 317.1L1647 317.4L1648 317.8L1648.9 318.1L1649.8 318.4L1650.8 318.8L1651.7 319.1L1652.6 319.5L1653.6 319.8L1654.5 320.1L1655.5 320.5L1656.4 320.8L1657.3 321.1L1658.3 321.5L1659.2 321.8L1660.2 322.1L1661.1 322.5L1662.1 322.8L1663 323.1L1663.9 323.5L1664.9 323.8L1665.8 324.1L1666.8 324.4L1667.7 324.8L1668.7 325.1L1669.6 325.4L1670.5 325.7L1671.5 326L1672.4 326.4L1673.4 326.7L1674.3 327L1675.3 327.3L1676.2 327.6L1677.2 328L1678.1 328.3L1679.1 328.6L1680 328.9L1681 329.2L1681.9 329.5L1682.9 329.8L1683.8 330.1L1684.8 330.4L1685.7 330.8L1686.7 331.1L1687.6 331.4L1688.6 331.7L1689.5 332L1690.5 332.3L1691.4 332.6L1692.4 332.9L1693.3 333.2L1694.3 333.5L1695.2 333.8L1696.2 334.1L1697.1 334.4L1698.1 334.7L1699 335L1700 335.3L1700.9 335.6L1701.9 335.9L1702.9 336.2L1703.8 336.5L1704.8 336.7L1705.7 337L1706.7 337.3L1707.6 337.6L1708.6 337.9L1709.5 338.2L1710.5 338.5L1711.5 338.8L1712.4 339.1L1713.4 339.3L1714.3 339.6L1715.3 339.9L1716.2 340.2L1717.2 340.5L1718.2 340.8L1719.1 341L1720.1 341.3L1721 341.6L1722 341.9L1723 342.2L1723.9 342.4L1724.9 342.7L1725.8 343L1726.8 343.3L1727.8 343.5L1728.7 343.8L1729.7 344.1L1730.6 344.3L1731.6 344.6L1732.6 344.9L1733.5 345.2L1734.5 345.4L1735.5 345.7L1736.4 346L1737.4 346.2L1738.4 346.5L1739.3 346.8L1740.3 347L1741.2 347.3L1742.2 347.6L1743.2 347.8L1744.1 348.1L1745.1 348.3L1746.1 348.6L1747 348.9L1748 349.1L1749 349.4L1749.9 349.6L1750.9 349.9L1751.9 350.2L1752.8 350.4L1753.8 350.7L1754.8 350.9L1755.7 351.2L1756.7 351.4L1757.7 351.7L1758.6 351.9L1759.6 352.2L1760.6 352.4L1761.5 352.7L1762.5 352.9L1763.5 353.2L1764.4 353.4L1765.4 353.7L1766.4 353.9L1767.4 354.2L1768.3 354.4L1769.3 354.7L1770.3 354.9L1771.2 355.2L1772.2 355.4L1773.2 355.7L1774.1 355.9L1775.1 356.1L1776.1 356.4L1777.1 356.6L1778 356.9L1779 357.1L1780 357.3L1780.9 357.6L1781.9 357.8L1782.9 358.1L1783.9 358.3L1784.8 358.5L1785.8 358.8L1786.8 359L1787.8 359.2L1788.7 359.5L1789.7 359.7L1790.7 359.9L1791.7 360.2L1792.6 360.4L1793.6 360.6L1794.6 360.9L1795.6 361.1L1796.5 361.3L1797.5 361.5L1798.5 361.8L1799.4 362L1800.4 362.2L1801.4 362.5L1802.4 362.7L1803.4 362.9L1804.3 363.1L1805.3 363.4L1806.3 363.6L1807.3 363.8L1808.2 364L1809.2 364.3L1810.2 364.5L1811.2 364.7L1812.1 364.9L1813.1 365.1L1814.1 365.4L1815.1 365.6L1816 365.8L1817 366L1818 366.2L1819 366.5L1820 366.7L1820.9 366.9L1821.9 367.1L1822.9 367.3L1823.9 367.5L1824.8 367.8L1825.8 368L1826.8 368.2L1827.8 368.4L1828.8 368.6L1829.7 368.8L1830.7 369L1831.7 369.3L1832.7 369.5L1833.7 369.7L1834.6 369.9L1835.6 370.1L1836.6 370.3L1837.6 370.5L1838.6 370.7L1839.5 370.9L1840.5 371.1L1841.5 371.4L1842.5 371.6L1843.5 371.8L1844.4 372L1845.4 372.2L1846.4 372.4L1847.4 372.6L1848.4 372.8L1849.3 373L1850.3 373.2L1851.3 373.4L1852.3 373.6L1853.3 373.8L1854.2 374L1855.2 374.2L1856.2 374.4L1857.2 374.6L1858.2 374.8L1859.2 375L1860.1 375.2L1861.1 375.4L1862.1 375.6L1863.1 375.8L1864.1 376L1865 376.2L1866 376.4L1867 376.6L1868 376.8L1869 377L1870 377.2L1870.9 377.4L1871.9 377.6L1872.9 377.8L1873.9 378L1874.9 378.2L1875.9 378.4L1876.8 378.6L1877.8 378.8L1878.8 379L1879.8 379.2L1880.8 379.4L1881.8 379.6L1882.7 379.7L1883.7 379.9L1884.7 380.1L1885.7 380.3L1886.7 380.5L1887.7 380.7L1888.6 380.9L1889.6 381.1L1890.6 381.3L1891.6 381.5L1892.6 381.7L1893.6 381.8L1894.5 382L1895.5 382.2L1896.5 382.4L1897.5 382.6L1898.5 382.8L1899.5 383L1900.4 383.2L1901.4 383.4L1902.4 383.5L1903.4 383.7L1904.4 383.9L1905.4 384.1L1906.3 384.3L1907.3 384.5L1908.3 384.7L1909.3 384.8L1910.3 385L1911.3 385.2L1912.2 385.4L1913.2 385.6L1914.2 385.8L1915.2 385.9L1916.2 386.1L1917.2 386.3L1918.1 386.5L1919.1 386.7L1920.1 386.9L1921.1 387L1922.1 387.2L1923.1 387.4L1924 387.6L1925 387.8L1926 388L1927 388.1L1928 388.3L1929 388.5L1930 388.7L1930.9 388.9L1931.9 389L1932.9 389.2L1933.9 389.4L1934.9 389.6L1935.9 389.8L1936.8 389.9L1937.8 390.1L1938.8 390.3L1939.8 390.5L1940.8 390.7L1941.8 390.8L1942.7 391L1943.7 391.2L1944.7 391.4L1945.7 391.6L1946.7 391.7L1947.7 391.9L1948.6 392.1L1949.6 392.3L1950.6 392.4L1951.6 392.6L1952.6 392.8L1953.6 393L1954.5 393.2L1955.5 393.3L1956.5 393.5L1957.5 393.7L1958.5 393.9L1959.5 394L1960.4 394.2L1961.4 394.4L1962.4 394.6L1963.4 394.7L1964.4 394.9L1965.3 395.1L1966.3 395.3L1967.3 395.5L1968.3 395.6L1969.3 395.8L1970.3 396L1971.2 396.2L1972.2 396.3L1973.2 396.5L1974.2 396.7L1975.2 396.9L1976.2 397L1977.1 397.2L1978.1 397.4L1979.1 397.6L1980.1 397.7L1981.1 397.9L1982 398.1L1983 398.3L1984 398.4L1985 398.6L1986 398.8L1986.9 399L1987.9 399.1L1988.9 399.3L1989.9 399.5"/>
</g>
<rect x="279.5" y="35.2" width="542.1" height="458.5" fill="#fff" stroke="#000" stroke-width="1.8"/>
<g stroke-width="7.4" stroke-linecap="round">
<path stroke="#000000" d="M291.2 76.3H429.6"/>
<path stroke="#FF0000" d="M291.2 151.4H429.6"/>
<path stroke="#0000FF" d="M291.2 227.8H429.6"/>
<path stroke="#008080" d="M291.2 305.5H429.6"/>
<path stroke="#FF00FF" d="M291.2 382.2H429.6"/>
<path stroke="#808000" d="M291.2 458.6H429.6"/>
</g>
<g font-family="Liberation Sans, Arial, sans-serif" font-size="61.5" fill="#000" transform="translate(446.2 0) scale(1.02 1)">
<text x="0" y="96.5" xml:space="preserve"> Pure</text>
<text x="0" y="172.8" xml:space="preserve">1% Cr-doped</text>
<text x="0" y="249.1" xml:space="preserve">2% Cr-doped</text>
<text x="0" y="325.4" xml:space="preserve">3% Cr-doped</text>
<text x="0" y="401.7" xml:space="preserve">4% Cr-doped</text>
<text x="0" y="478" xml:space="preserve">5% Cr-doped</text>
</g>
<g font-family="Liberation Sans, Arial, sans-serif" font-size="51" fill="#000">
<text x="273.5" y="1352.4" text-anchor="middle">0</text>
<text x="616.9" y="1352.4" text-anchor="middle">500</text>
<text x="960.3" y="1352.4" text-anchor="middle">1000</text>
<text x="1303.7" y="1352.4" text-anchor="middle">1500</text>
<text x="1647.1" y="1352.4" text-anchor="middle">2000</text>
<text x="1990.5" y="1352.4" text-anchor="middle">2500</text>
<text x="244.5" y="1195.3" text-anchor="end">0</text>
<text x="244.5" y="986.6" text-anchor="end">10</text>
<text x="244.5" y="777.9" text-anchor="end">20</text>
<text x="244.5" y="569.2" text-anchor="end">30</text>
<text x="244.5" y="360.5" text-anchor="end">40</text>
<text x="244.5" y="151.8" text-anchor="end">50</text>
</g>
<text font-family="Liberation Serif, Times New Roman, serif" font-size="72.5" transform="translate(83 914.5) rotate(-90)"><tspan x="0" letter-spacing="0.25">Transmittance</tspan><tspan x="417.7" font-size="56">(</tspan><tspan x="436.3" font-size="68">%</tspan><tspan x="492.9" font-size="56">)</tspan></text>
<text font-family="Liberation Serif, Times New Roman, serif" font-size="72.5" y="1465.6"><tspan x="1046.9">λ</tspan><tspan x="1084.9" font-size="56">(</tspan><tspan x="1102.1">nm</tspan><tspan x="1197.7" font-size="56">)</tspan></text>
</svg>
</body></html>
